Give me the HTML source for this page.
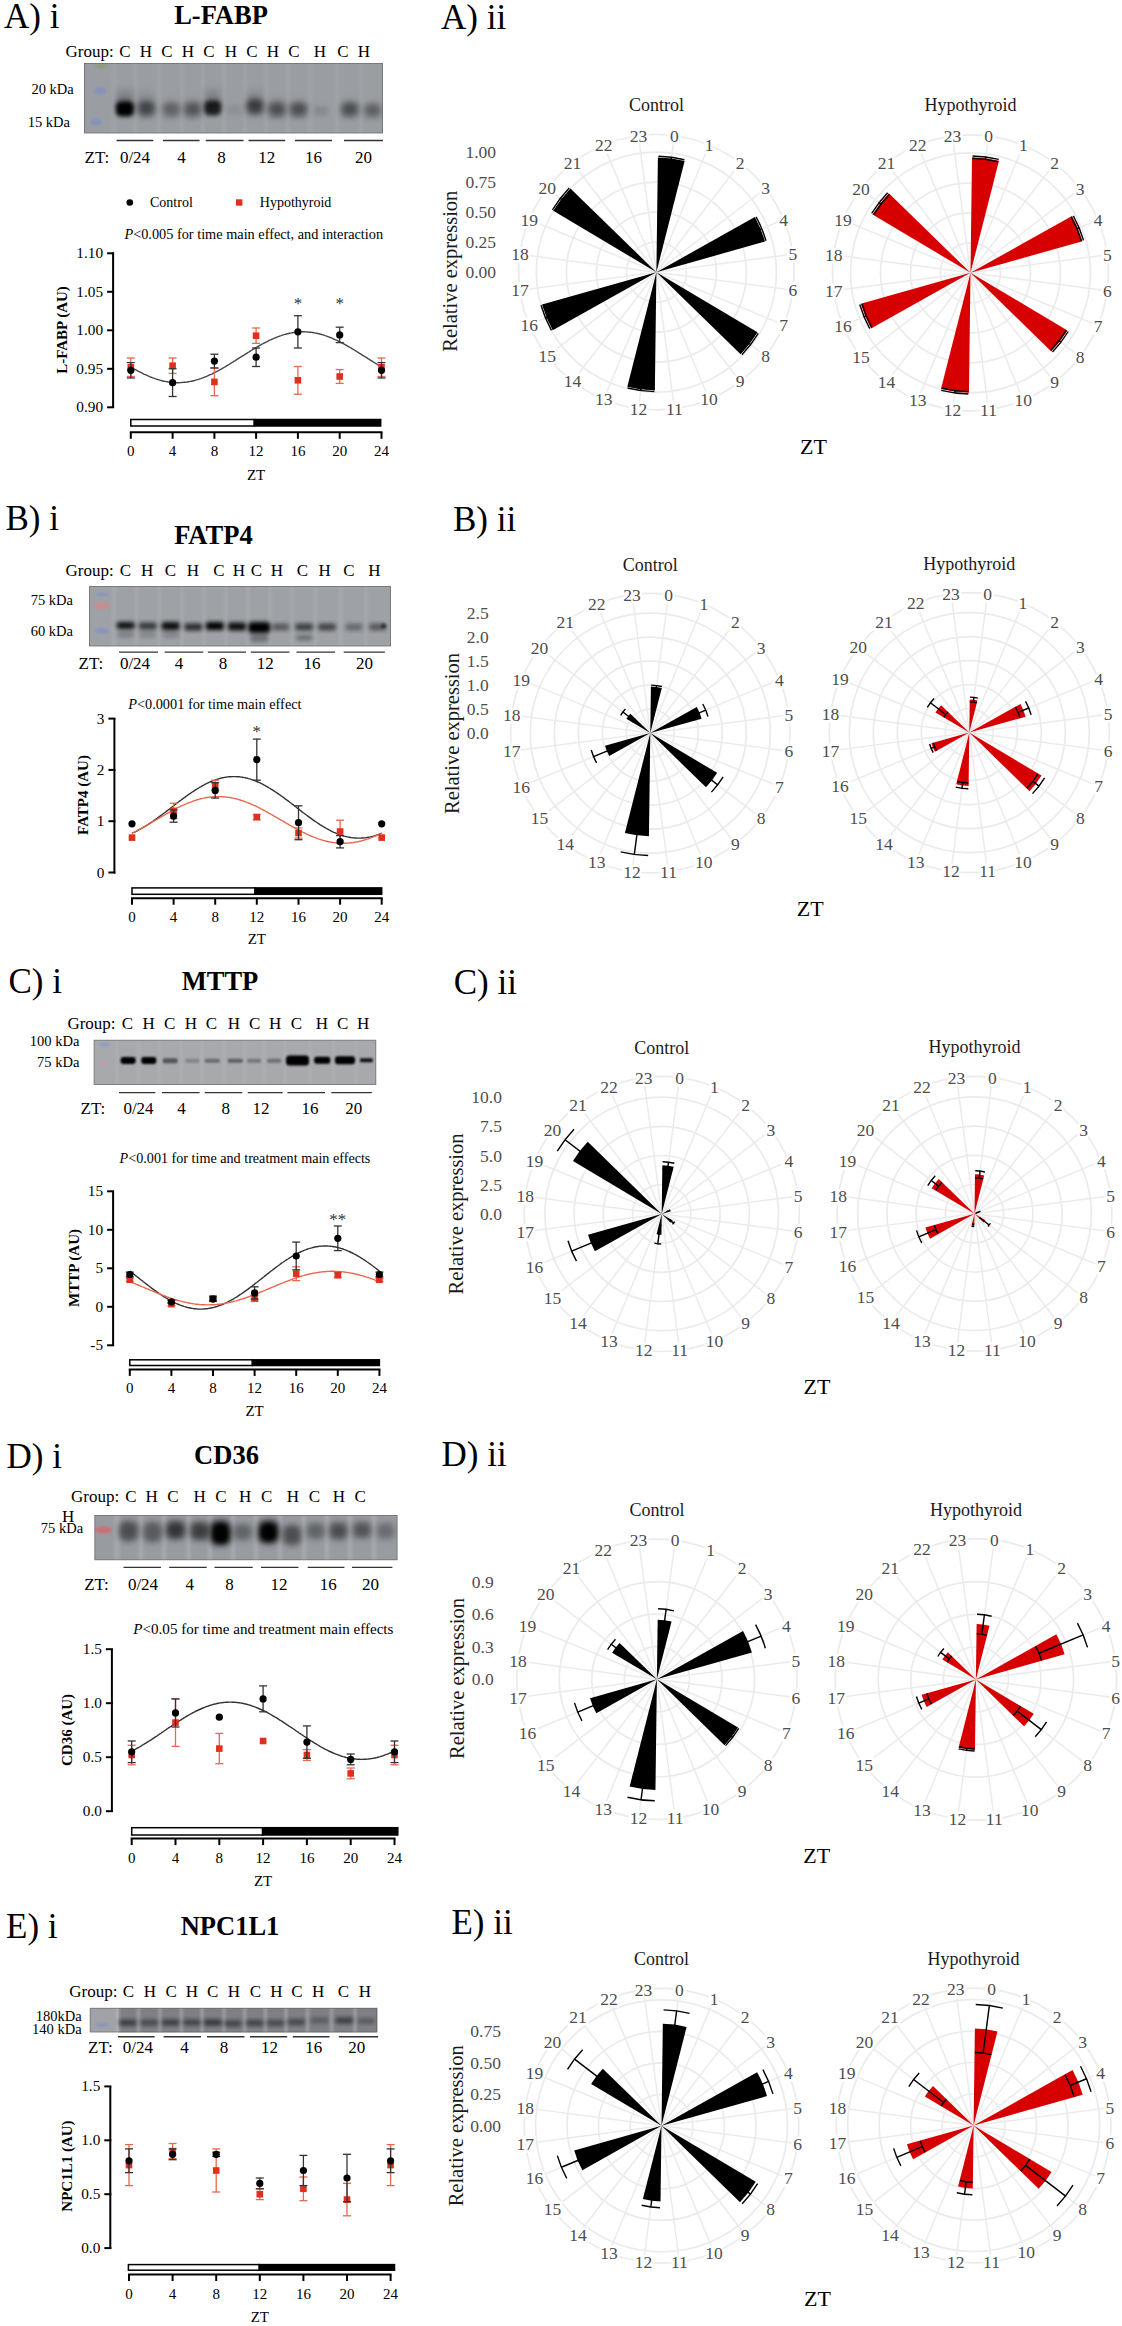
<!DOCTYPE html>
<html><head><meta charset="utf-8"><style>
html,body{margin:0;padding:0;background:#fff;}
svg{display:block;font-family:"Liberation Serif",serif;}
</style></head><body>
<svg width="1122" height="2326" viewBox="0 0 1122 2326">
<defs>
<filter id="blur2" x="-50%" y="-50%" width="200%" height="200%"><feGaussianBlur stdDeviation="2.2"/></filter>
<filter id="blur3" x="-50%" y="-50%" width="200%" height="200%"><feGaussianBlur stdDeviation="3.2"/></filter>
<linearGradient id="smear" x1="0" y1="0" x2="0" y2="1"><stop offset="0" stop-color="#000" stop-opacity="0"/><stop offset="1" stop-color="#000" stop-opacity="1"/></linearGradient>
<filter id="blur1" x="-50%" y="-50%" width="200%" height="200%"><feGaussianBlur stdDeviation="1.2"/></filter>
</defs>
<rect width="1122" height="2326" fill="#fff"/>
<text x="4.0" y="28.0" font-size="35">A) i</text>
<text x="221.0" y="23.7" font-size="26.5" text-anchor="middle" font-weight="bold">L-FABP</text>
<text x="65.5" y="57.0" font-size="17">Group:</text>
<text x="125.0" y="57.0" font-size="17" text-anchor="middle">C</text>
<text x="146.0" y="57.0" font-size="17" text-anchor="middle">H</text>
<text x="167.0" y="57.0" font-size="17" text-anchor="middle">C</text>
<text x="188.0" y="57.0" font-size="17" text-anchor="middle">H</text>
<text x="209.0" y="57.0" font-size="17" text-anchor="middle">C</text>
<text x="231.0" y="57.0" font-size="17" text-anchor="middle">H</text>
<text x="252.0" y="57.0" font-size="17" text-anchor="middle">C</text>
<text x="273.0" y="57.0" font-size="17" text-anchor="middle">H</text>
<text x="294.0" y="57.0" font-size="17" text-anchor="middle">C</text>
<text x="320.0" y="57.0" font-size="17" text-anchor="middle">H</text>
<text x="343.0" y="57.0" font-size="17" text-anchor="middle">C</text>
<text x="364.0" y="57.0" font-size="17" text-anchor="middle">H</text>
<clipPath id="b15"><rect x="84" y="63" width="299" height="70.5"/></clipPath>
<g clip-path="url(#b15)">
<rect x="84" y="63" width="299" height="70.5" fill="#9a9da2"/>
<g filter="url(#blur1)">
<rect x="111.5" y="60" width="5" height="76.5" fill="#fff" fill-opacity="0.05"/>
<rect x="133.5" y="60" width="4" height="76.5" fill="#fff" fill-opacity="0.05"/>
<rect x="156.5" y="60" width="5" height="76.5" fill="#fff" fill-opacity="0.05"/>
<rect x="180.0" y="60" width="4" height="76.5" fill="#fff" fill-opacity="0.05"/>
<rect x="201.0" y="60" width="4" height="76.5" fill="#fff" fill-opacity="0.05"/>
<rect x="222.0" y="60" width="4" height="76.5" fill="#fff" fill-opacity="0.05"/>
<rect x="242.5" y="60" width="5" height="76.5" fill="#fff" fill-opacity="0.05"/>
<rect x="264.0" y="60" width="4" height="76.5" fill="#fff" fill-opacity="0.05"/>
<rect x="286.0" y="60" width="4" height="76.5" fill="#fff" fill-opacity="0.05"/>
<rect x="307.5" y="60" width="5" height="76.5" fill="#fff" fill-opacity="0.05"/>
<rect x="334.5" y="60" width="5" height="76.5" fill="#fff" fill-opacity="0.05"/>
<rect x="359.0" y="60" width="4" height="76.5" fill="#fff" fill-opacity="0.05"/>
</g>
<ellipse cx="101.4" cy="65.7" rx="6.0" ry="3.0" fill="#8e9c7c" filter="url(#blur1)"/>
<ellipse cx="100" cy="90.7" rx="6.0" ry="3.5" fill="#8593bd" filter="url(#blur1)"/>
<ellipse cx="96" cy="122" rx="6.0" ry="3.0" fill="#8593bd" filter="url(#blur1)"/>
<rect x="116.9" y="85.5" width="16.0" height="23.5" fill="url(#smear)" fill-opacity="0.45" filter="url(#blur3)"/>
<rect x="115.9" y="101.5" width="18.0" height="15.0" rx="5.2" fill="#000" fill-opacity="1.00" filter="url(#blur2)"/>
<rect x="138.8" y="87.5" width="15.0" height="21.5" fill="url(#smear)" fill-opacity="0.23" filter="url(#blur3)"/>
<rect x="137.8" y="101.5" width="17.0" height="15.0" rx="5.2" fill="#000" fill-opacity="0.52" filter="url(#blur3)"/>
<rect x="163.8" y="97.0" width="15.0" height="13.0" fill="url(#smear)" fill-opacity="0.15" filter="url(#blur3)"/>
<rect x="162.8" y="103.0" width="17.0" height="14.0" rx="4.9" fill="#000" fill-opacity="0.34" filter="url(#blur3)"/>
<rect x="185.2" y="95.0" width="15.0" height="15.0" fill="url(#smear)" fill-opacity="0.19" filter="url(#blur3)"/>
<rect x="184.2" y="103.0" width="17.0" height="14.0" rx="4.9" fill="#000" fill-opacity="0.42" filter="url(#blur3)"/>
<rect x="205.2" y="84.5" width="15.0" height="23.5" fill="url(#smear)" fill-opacity="0.36" filter="url(#blur3)"/>
<rect x="204.2" y="100.5" width="17.0" height="15.0" rx="5.2" fill="#000" fill-opacity="0.80" filter="url(#blur2)"/>
<rect x="226.5" y="105.0" width="15.0" height="10.0" rx="3.5" fill="#000" fill-opacity="0.08" filter="url(#blur2)"/>
<rect x="247.5" y="85.5" width="15.0" height="21.5" fill="url(#smear)" fill-opacity="0.26" filter="url(#blur3)"/>
<rect x="246.5" y="99.5" width="17.0" height="15.0" rx="5.2" fill="#000" fill-opacity="0.58" filter="url(#blur3)"/>
<rect x="269.5" y="95.0" width="15.0" height="15.0" fill="url(#smear)" fill-opacity="0.21" filter="url(#blur3)"/>
<rect x="268.5" y="103.0" width="17.0" height="14.0" rx="4.9" fill="#000" fill-opacity="0.46" filter="url(#blur3)"/>
<rect x="291.0" y="97.0" width="15.0" height="13.0" fill="url(#smear)" fill-opacity="0.21" filter="url(#blur3)"/>
<rect x="290.0" y="103.0" width="17.0" height="14.0" rx="4.9" fill="#000" fill-opacity="0.46" filter="url(#blur3)"/>
<rect x="314.0" y="106.0" width="14.0" height="10.0" rx="3.5" fill="#000" fill-opacity="0.12" filter="url(#blur2)"/>
<rect x="342.3" y="97.0" width="15.0" height="13.0" fill="url(#smear)" fill-opacity="0.21" filter="url(#blur3)"/>
<rect x="341.3" y="103.0" width="17.0" height="14.0" rx="4.9" fill="#000" fill-opacity="0.46" filter="url(#blur3)"/>
<rect x="365.6" y="99.5" width="14.0" height="11.5" fill="url(#smear)" fill-opacity="0.16" filter="url(#blur3)"/>
<rect x="364.6" y="104.5" width="16.0" height="13.0" rx="4.5" fill="#000" fill-opacity="0.36" filter="url(#blur3)"/>
</g>
<rect x="84.5" y="63.5" width="298" height="69.5" fill="none" stroke="#555" stroke-opacity="0.5" stroke-width="1"/>
<text x="73.7" y="93.7" font-size="14.5" text-anchor="end">20 kDa</text>
<text x="70.0" y="127.0" font-size="14.5" text-anchor="end">15 kDa</text>
<text x="84.5" y="162.6" font-size="17">ZT:</text>
<text x="135.0" y="162.6" font-size="17" text-anchor="middle">0/24</text>
<text x="181.5" y="162.6" font-size="17" text-anchor="middle">4</text>
<text x="221.5" y="162.6" font-size="17" text-anchor="middle">8</text>
<text x="266.8" y="162.6" font-size="17" text-anchor="middle">12</text>
<text x="313.5" y="162.6" font-size="17" text-anchor="middle">16</text>
<text x="363.5" y="162.6" font-size="17" text-anchor="middle">20</text>
<line x1="116.6" y1="140.5" x2="153.3" y2="140.5" stroke="#333" stroke-width="1.4"/>
<line x1="163.0" y1="140.5" x2="199.6" y2="140.5" stroke="#333" stroke-width="1.4"/>
<line x1="205.7" y1="140.5" x2="243.5" y2="140.5" stroke="#333" stroke-width="1.4"/>
<line x1="248.5" y1="140.5" x2="285.2" y2="140.5" stroke="#333" stroke-width="1.4"/>
<line x1="295.0" y1="140.5" x2="332.0" y2="140.5" stroke="#333" stroke-width="1.4"/>
<line x1="344.0" y1="140.5" x2="383.0" y2="140.5" stroke="#333" stroke-width="1.4"/>
<circle cx="129.8" cy="202.5" r="3.3" fill="#000"/>
<text x="150.0" y="206.6" font-size="14">Control</text>
<rect x="236.0" y="199.3" width="6.4" height="6.4" fill="#e0301e"/>
<text x="259.8" y="206.6" font-size="14">Hypothyroid</text>
<line x1="113.1" y1="252.5" x2="113.1" y2="408.0" stroke="#000" stroke-width="2"/>
<line x1="107.1" y1="407.3" x2="114.1" y2="407.3" stroke="#000" stroke-width="2"/>
<text x="103.1" y="412.3" font-size="15.3" text-anchor="end">0.90</text>
<line x1="107.1" y1="368.8" x2="114.1" y2="368.8" stroke="#000" stroke-width="2"/>
<text x="103.1" y="373.8" font-size="15.3" text-anchor="end">0.95</text>
<line x1="107.1" y1="330.3" x2="114.1" y2="330.3" stroke="#000" stroke-width="2"/>
<text x="103.1" y="335.3" font-size="15.3" text-anchor="end">1.00</text>
<line x1="107.1" y1="291.8" x2="114.1" y2="291.8" stroke="#000" stroke-width="2"/>
<text x="103.1" y="296.8" font-size="15.3" text-anchor="end">1.05</text>
<line x1="107.1" y1="253.3" x2="114.1" y2="253.3" stroke="#000" stroke-width="2"/>
<text x="103.1" y="258.3" font-size="15.3" text-anchor="end">1.10</text>
<text transform="translate(67.0,330.0) rotate(-90)" font-size="15" font-weight="bold" text-anchor="middle">L-FABP (AU)</text>
<rect x="130.8" y="419.5" width="123.5" height="6.5" fill="#fff" stroke="#000" stroke-width="1.5"/>
<rect x="254.3" y="419.5" width="126.4" height="6.5" fill="#000" stroke="#000" stroke-width="1.5"/>
<line x1="129.8" y1="432.3" x2="382.5" y2="432.3" stroke="#000" stroke-width="2"/>
<line x1="130.8" y1="432.3" x2="130.8" y2="438.8" stroke="#000" stroke-width="2"/>
<text x="130.8" y="456.3" font-size="15" text-anchor="middle">0</text>
<line x1="172.6" y1="432.3" x2="172.6" y2="438.8" stroke="#000" stroke-width="2"/>
<text x="172.6" y="456.3" font-size="15" text-anchor="middle">4</text>
<line x1="214.4" y1="432.3" x2="214.4" y2="438.8" stroke="#000" stroke-width="2"/>
<text x="214.4" y="456.3" font-size="15" text-anchor="middle">8</text>
<line x1="256.1" y1="432.3" x2="256.1" y2="438.8" stroke="#000" stroke-width="2"/>
<text x="256.1" y="456.3" font-size="15" text-anchor="middle">12</text>
<line x1="297.9" y1="432.3" x2="297.9" y2="438.8" stroke="#000" stroke-width="2"/>
<text x="297.9" y="456.3" font-size="15" text-anchor="middle">16</text>
<line x1="339.7" y1="432.3" x2="339.7" y2="438.8" stroke="#000" stroke-width="2"/>
<text x="339.7" y="456.3" font-size="15" text-anchor="middle">20</text>
<line x1="381.5" y1="432.3" x2="381.5" y2="438.8" stroke="#000" stroke-width="2"/>
<text x="381.5" y="456.3" font-size="15" text-anchor="middle">24</text>
<text x="256.1" y="480.4" font-size="15" text-anchor="middle">ZT</text>
<polyline points="130.8,367.0 131.8,367.6 132.9,368.2 133.9,368.8 135.0,369.4 136.0,370.0 137.1,370.5 138.1,371.1 139.2,371.6 140.2,372.2 141.2,372.7 142.3,373.2 143.3,373.8 144.4,374.3 145.4,374.7 146.5,375.2 147.5,375.7 148.6,376.1 149.6,376.6 150.6,377.0 151.7,377.4 152.7,377.8 153.8,378.2 154.8,378.6 155.9,378.9 156.9,379.3 158.0,379.6 159.0,379.9 160.0,380.2 161.1,380.5 162.1,380.7 163.2,381.0 164.2,381.2 165.3,381.4 166.3,381.6 167.4,381.8 168.4,382.0 169.4,382.1 170.5,382.2 171.5,382.3 172.6,382.4 173.6,382.5 174.7,382.6 175.7,382.6 176.8,382.7 177.8,382.7 178.9,382.7 179.9,382.6 180.9,382.6 182.0,382.5 183.0,382.4 184.1,382.3 185.1,382.2 186.2,382.1 187.2,382.0 188.3,381.8 189.3,381.6 190.3,381.4 191.4,381.2 192.4,381.0 193.5,380.7 194.5,380.5 195.6,380.2 196.6,379.9 197.7,379.6 198.7,379.3 199.7,378.9 200.8,378.6 201.8,378.2 202.9,377.8 203.9,377.4 205.0,377.0 206.0,376.6 207.1,376.1 208.1,375.7 209.1,375.2 210.2,374.7 211.2,374.3 212.3,373.8 213.3,373.2 214.4,372.7 215.4,372.2 216.5,371.6 217.5,371.1 218.5,370.5 219.6,370.0 220.6,369.4 221.7,368.8 222.7,368.2 223.8,367.6 224.8,367.0 225.9,366.4 226.9,365.7 227.9,365.1 229.0,364.5 230.0,363.8 231.1,363.2 232.1,362.5 233.2,361.9 234.2,361.2 235.3,360.6 236.3,359.9 237.3,359.2 238.4,358.6 239.4,357.9 240.5,357.2 241.5,356.6 242.6,355.9 243.6,355.3 244.7,354.6 245.7,353.9 246.7,353.3 247.8,352.6 248.8,352.0 249.9,351.3 250.9,350.7 252.0,350.0 253.0,349.4 254.1,348.8 255.1,348.1 256.1,347.5 257.2,346.9 258.2,346.3 259.3,345.7 260.3,345.1 261.4,344.5 262.4,344.0 263.5,343.4 264.5,342.9 265.6,342.3 266.6,341.8 267.6,341.3 268.7,340.7 269.7,340.2 270.8,339.8 271.8,339.3 272.9,338.8 273.9,338.4 275.0,337.9 276.0,337.5 277.0,337.1 278.1,336.7 279.1,336.3 280.2,335.9 281.2,335.6 282.3,335.2 283.3,334.9 284.4,334.6 285.4,334.3 286.4,334.0 287.5,333.8 288.5,333.5 289.6,333.3 290.6,333.1 291.7,332.9 292.7,332.7 293.8,332.5 294.8,332.4 295.8,332.3 296.9,332.2 297.9,332.1 299.0,332.0 300.0,331.9 301.1,331.9 302.1,331.8 303.2,331.8 304.2,331.8 305.2,331.9 306.3,331.9 307.3,332.0 308.4,332.1 309.4,332.2 310.5,332.3 311.5,332.4 312.6,332.5 313.6,332.7 314.6,332.9 315.7,333.1 316.7,333.3 317.8,333.5 318.8,333.8 319.9,334.0 320.9,334.3 322.0,334.6 323.0,334.9 324.0,335.2 325.1,335.6 326.1,335.9 327.2,336.3 328.2,336.7 329.3,337.1 330.3,337.5 331.4,337.9 332.4,338.4 333.4,338.8 334.5,339.3 335.5,339.8 336.6,340.2 337.6,340.7 338.7,341.3 339.7,341.8 340.8,342.3 341.8,342.9 342.9,343.4 343.9,344.0 344.9,344.5 346.0,345.1 347.0,345.7 348.1,346.3 349.1,346.9 350.2,347.5 351.2,348.1 352.3,348.8 353.3,349.4 354.3,350.0 355.4,350.7 356.4,351.3 357.5,352.0 358.5,352.6 359.6,353.3 360.6,353.9 361.7,354.6 362.7,355.3 363.7,355.9 364.8,356.6 365.8,357.2 366.9,357.9 367.9,358.6 369.0,359.2 370.0,359.9 371.1,360.6 372.1,361.2 373.1,361.9 374.2,362.5 375.2,363.2 376.3,363.8 377.3,364.5 378.4,365.1 379.4,365.7 380.5,366.4 381.5,367.0" fill="none" stroke="#444" stroke-width="1.4"/>
<line x1="130.8" y1="376.5" x2="130.8" y2="358.0" stroke="#e8674f" stroke-width="1.3"/>
<line x1="126.8" y1="376.5" x2="134.8" y2="376.5" stroke="#e8674f" stroke-width="1.3"/>
<line x1="126.8" y1="358.0" x2="134.8" y2="358.0" stroke="#e8674f" stroke-width="1.3"/>
<line x1="172.6" y1="373.4" x2="172.6" y2="358.0" stroke="#e8674f" stroke-width="1.3"/>
<line x1="168.6" y1="373.4" x2="176.6" y2="373.4" stroke="#e8674f" stroke-width="1.3"/>
<line x1="168.6" y1="358.0" x2="176.6" y2="358.0" stroke="#e8674f" stroke-width="1.3"/>
<line x1="214.4" y1="395.7" x2="214.4" y2="368.0" stroke="#e8674f" stroke-width="1.3"/>
<line x1="210.4" y1="395.7" x2="218.4" y2="395.7" stroke="#e8674f" stroke-width="1.3"/>
<line x1="210.4" y1="368.0" x2="218.4" y2="368.0" stroke="#e8674f" stroke-width="1.3"/>
<line x1="256.1" y1="343.4" x2="256.1" y2="328.0" stroke="#e8674f" stroke-width="1.3"/>
<line x1="252.1" y1="343.4" x2="260.1" y2="343.4" stroke="#e8674f" stroke-width="1.3"/>
<line x1="252.1" y1="328.0" x2="260.1" y2="328.0" stroke="#e8674f" stroke-width="1.3"/>
<line x1="297.9" y1="394.2" x2="297.9" y2="366.5" stroke="#e8674f" stroke-width="1.3"/>
<line x1="293.9" y1="394.2" x2="301.9" y2="394.2" stroke="#e8674f" stroke-width="1.3"/>
<line x1="293.9" y1="366.5" x2="301.9" y2="366.5" stroke="#e8674f" stroke-width="1.3"/>
<line x1="339.7" y1="383.4" x2="339.7" y2="369.6" stroke="#e8674f" stroke-width="1.3"/>
<line x1="335.7" y1="383.4" x2="343.7" y2="383.4" stroke="#e8674f" stroke-width="1.3"/>
<line x1="335.7" y1="369.6" x2="343.7" y2="369.6" stroke="#e8674f" stroke-width="1.3"/>
<line x1="381.5" y1="376.5" x2="381.5" y2="358.0" stroke="#e8674f" stroke-width="1.3"/>
<line x1="377.5" y1="376.5" x2="385.5" y2="376.5" stroke="#e8674f" stroke-width="1.3"/>
<line x1="377.5" y1="358.0" x2="385.5" y2="358.0" stroke="#e8674f" stroke-width="1.3"/>
<rect x="127.5" y="364.0" width="6.6" height="6.6" fill="#e0301e"/>
<rect x="169.3" y="362.4" width="6.6" height="6.6" fill="#e0301e"/>
<rect x="211.1" y="378.6" width="6.6" height="6.6" fill="#e0301e"/>
<rect x="252.8" y="332.4" width="6.6" height="6.6" fill="#e0301e"/>
<rect x="294.6" y="377.0" width="6.6" height="6.6" fill="#e0301e"/>
<rect x="336.4" y="373.2" width="6.6" height="6.6" fill="#e0301e"/>
<rect x="378.2" y="364.0" width="6.6" height="6.6" fill="#e0301e"/>
<line x1="130.8" y1="378.0" x2="130.8" y2="362.6" stroke="#333" stroke-width="1.3"/>
<line x1="126.8" y1="378.0" x2="134.8" y2="378.0" stroke="#333" stroke-width="1.3"/>
<line x1="126.8" y1="362.6" x2="134.8" y2="362.6" stroke="#333" stroke-width="1.3"/>
<line x1="172.6" y1="396.5" x2="172.6" y2="368.8" stroke="#333" stroke-width="1.3"/>
<line x1="168.6" y1="396.5" x2="176.6" y2="396.5" stroke="#333" stroke-width="1.3"/>
<line x1="168.6" y1="368.8" x2="176.6" y2="368.8" stroke="#333" stroke-width="1.3"/>
<line x1="214.4" y1="368.0" x2="214.4" y2="354.2" stroke="#333" stroke-width="1.3"/>
<line x1="210.4" y1="368.0" x2="218.4" y2="368.0" stroke="#333" stroke-width="1.3"/>
<line x1="210.4" y1="354.2" x2="218.4" y2="354.2" stroke="#333" stroke-width="1.3"/>
<line x1="256.1" y1="366.5" x2="256.1" y2="348.0" stroke="#333" stroke-width="1.3"/>
<line x1="252.1" y1="366.5" x2="260.1" y2="366.5" stroke="#333" stroke-width="1.3"/>
<line x1="252.1" y1="348.0" x2="260.1" y2="348.0" stroke="#333" stroke-width="1.3"/>
<line x1="297.9" y1="348.0" x2="297.9" y2="315.7" stroke="#333" stroke-width="1.3"/>
<line x1="293.9" y1="348.0" x2="301.9" y2="348.0" stroke="#333" stroke-width="1.3"/>
<line x1="293.9" y1="315.7" x2="301.9" y2="315.7" stroke="#333" stroke-width="1.3"/>
<line x1="339.7" y1="342.6" x2="339.7" y2="327.2" stroke="#333" stroke-width="1.3"/>
<line x1="335.7" y1="342.6" x2="343.7" y2="342.6" stroke="#333" stroke-width="1.3"/>
<line x1="335.7" y1="327.2" x2="343.7" y2="327.2" stroke="#333" stroke-width="1.3"/>
<line x1="381.5" y1="378.0" x2="381.5" y2="362.6" stroke="#333" stroke-width="1.3"/>
<line x1="377.5" y1="378.0" x2="385.5" y2="378.0" stroke="#333" stroke-width="1.3"/>
<line x1="377.5" y1="362.6" x2="385.5" y2="362.6" stroke="#333" stroke-width="1.3"/>
<circle cx="130.8" cy="370.3" r="3.6" fill="#000"/>
<circle cx="172.6" cy="382.7" r="3.6" fill="#000"/>
<circle cx="214.4" cy="361.1" r="3.6" fill="#000"/>
<circle cx="256.1" cy="357.2" r="3.6" fill="#000"/>
<circle cx="297.9" cy="331.8" r="3.6" fill="#000"/>
<circle cx="339.7" cy="334.9" r="3.6" fill="#000"/>
<circle cx="381.5" cy="370.3" r="3.6" fill="#000"/>
<text x="297.9" y="309.0" font-size="17" text-anchor="middle" fill="#333">*</text>
<text x="339.7" y="309.0" font-size="17" text-anchor="middle" fill="#333">*</text>
<text x="124.4" y="239.4" font-size="14.3"><tspan font-style="italic">P</tspan>&lt;0.005 for time main effect, and interaction</text>
<text x="441.0" y="28.5" font-size="35">A) ii</text>
<circle cx="656.4" cy="272.2" r="30.00" fill="none" stroke="#ebebeb" stroke-width="1.7"/>
<circle cx="656.4" cy="272.2" r="60.00" fill="none" stroke="#ebebeb" stroke-width="1.7"/>
<circle cx="656.4" cy="272.2" r="90.00" fill="none" stroke="#ebebeb" stroke-width="1.7"/>
<circle cx="656.4" cy="272.2" r="120.00" fill="none" stroke="#ebebeb" stroke-width="1.7"/>
<circle cx="656.4" cy="272.2" r="137.70" fill="none" stroke="#ebebeb" stroke-width="1.7"/>
<line x1="656.4" y1="272.2" x2="674.37" y2="135.68" stroke="#ebebeb" stroke-width="1.5"/>
<line x1="656.4" y1="272.2" x2="709.10" y2="144.98" stroke="#ebebeb" stroke-width="1.5"/>
<line x1="656.4" y1="272.2" x2="740.23" y2="162.96" stroke="#ebebeb" stroke-width="1.5"/>
<line x1="656.4" y1="272.2" x2="765.64" y2="188.37" stroke="#ebebeb" stroke-width="1.5"/>
<line x1="656.4" y1="272.2" x2="783.62" y2="219.50" stroke="#ebebeb" stroke-width="1.5"/>
<line x1="656.4" y1="272.2" x2="792.92" y2="254.23" stroke="#ebebeb" stroke-width="1.5"/>
<line x1="656.4" y1="272.2" x2="792.92" y2="290.17" stroke="#ebebeb" stroke-width="1.5"/>
<line x1="656.4" y1="272.2" x2="783.62" y2="324.90" stroke="#ebebeb" stroke-width="1.5"/>
<line x1="656.4" y1="272.2" x2="765.64" y2="356.03" stroke="#ebebeb" stroke-width="1.5"/>
<line x1="656.4" y1="272.2" x2="740.23" y2="381.44" stroke="#ebebeb" stroke-width="1.5"/>
<line x1="656.4" y1="272.2" x2="709.10" y2="399.42" stroke="#ebebeb" stroke-width="1.5"/>
<line x1="656.4" y1="272.2" x2="674.37" y2="408.72" stroke="#ebebeb" stroke-width="1.5"/>
<line x1="656.4" y1="272.2" x2="638.43" y2="408.72" stroke="#ebebeb" stroke-width="1.5"/>
<line x1="656.4" y1="272.2" x2="603.70" y2="399.42" stroke="#ebebeb" stroke-width="1.5"/>
<line x1="656.4" y1="272.2" x2="572.57" y2="381.44" stroke="#ebebeb" stroke-width="1.5"/>
<line x1="656.4" y1="272.2" x2="547.16" y2="356.03" stroke="#ebebeb" stroke-width="1.5"/>
<line x1="656.4" y1="272.2" x2="529.18" y2="324.90" stroke="#ebebeb" stroke-width="1.5"/>
<line x1="656.4" y1="272.2" x2="519.88" y2="290.17" stroke="#ebebeb" stroke-width="1.5"/>
<line x1="656.4" y1="272.2" x2="519.88" y2="254.23" stroke="#ebebeb" stroke-width="1.5"/>
<line x1="656.4" y1="272.2" x2="529.18" y2="219.50" stroke="#ebebeb" stroke-width="1.5"/>
<line x1="656.4" y1="272.2" x2="547.16" y2="188.37" stroke="#ebebeb" stroke-width="1.5"/>
<line x1="656.4" y1="272.2" x2="572.57" y2="162.96" stroke="#ebebeb" stroke-width="1.5"/>
<line x1="656.4" y1="272.2" x2="603.70" y2="144.98" stroke="#ebebeb" stroke-width="1.5"/>
<line x1="656.4" y1="272.2" x2="638.43" y2="135.68" stroke="#ebebeb" stroke-width="1.5"/>
<text x="674.4" y="141.7" font-size="17.5" text-anchor="middle" fill="#4d4d4d" stroke="#fff" stroke-width="5" paint-order="stroke">0</text>
<text x="709.1" y="151.0" font-size="17.5" text-anchor="middle" fill="#4d4d4d" stroke="#fff" stroke-width="5" paint-order="stroke">1</text>
<text x="740.2" y="169.0" font-size="17.5" text-anchor="middle" fill="#4d4d4d" stroke="#fff" stroke-width="5" paint-order="stroke">2</text>
<text x="765.6" y="194.4" font-size="17.5" text-anchor="middle" fill="#4d4d4d" stroke="#fff" stroke-width="5" paint-order="stroke">3</text>
<text x="783.6" y="225.5" font-size="17.5" text-anchor="middle" fill="#4d4d4d" stroke="#fff" stroke-width="5" paint-order="stroke">4</text>
<text x="792.9" y="260.2" font-size="17.5" text-anchor="middle" fill="#4d4d4d" stroke="#fff" stroke-width="5" paint-order="stroke">5</text>
<text x="792.9" y="296.2" font-size="17.5" text-anchor="middle" fill="#4d4d4d" stroke="#fff" stroke-width="5" paint-order="stroke">6</text>
<text x="783.6" y="330.9" font-size="17.5" text-anchor="middle" fill="#4d4d4d" stroke="#fff" stroke-width="5" paint-order="stroke">7</text>
<text x="765.6" y="362.0" font-size="17.5" text-anchor="middle" fill="#4d4d4d" stroke="#fff" stroke-width="5" paint-order="stroke">8</text>
<text x="740.2" y="387.4" font-size="17.5" text-anchor="middle" fill="#4d4d4d" stroke="#fff" stroke-width="5" paint-order="stroke">9</text>
<text x="709.1" y="405.4" font-size="17.5" text-anchor="middle" fill="#4d4d4d" stroke="#fff" stroke-width="5" paint-order="stroke">10</text>
<text x="674.4" y="414.7" font-size="17.5" text-anchor="middle" fill="#4d4d4d" stroke="#fff" stroke-width="5" paint-order="stroke">11</text>
<text x="638.4" y="414.7" font-size="17.5" text-anchor="middle" fill="#4d4d4d" stroke="#fff" stroke-width="5" paint-order="stroke">12</text>
<text x="603.7" y="405.4" font-size="17.5" text-anchor="middle" fill="#4d4d4d" stroke="#fff" stroke-width="5" paint-order="stroke">13</text>
<text x="572.6" y="387.4" font-size="17.5" text-anchor="middle" fill="#4d4d4d" stroke="#fff" stroke-width="5" paint-order="stroke">14</text>
<text x="547.2" y="362.0" font-size="17.5" text-anchor="middle" fill="#4d4d4d" stroke="#fff" stroke-width="5" paint-order="stroke">15</text>
<text x="529.2" y="330.9" font-size="17.5" text-anchor="middle" fill="#4d4d4d" stroke="#fff" stroke-width="5" paint-order="stroke">16</text>
<text x="519.9" y="296.2" font-size="17.5" text-anchor="middle" fill="#4d4d4d" stroke="#fff" stroke-width="5" paint-order="stroke">17</text>
<text x="519.9" y="260.2" font-size="17.5" text-anchor="middle" fill="#4d4d4d" stroke="#fff" stroke-width="5" paint-order="stroke">18</text>
<text x="529.2" y="225.5" font-size="17.5" text-anchor="middle" fill="#4d4d4d" stroke="#fff" stroke-width="5" paint-order="stroke">19</text>
<text x="547.2" y="194.4" font-size="17.5" text-anchor="middle" fill="#4d4d4d" stroke="#fff" stroke-width="5" paint-order="stroke">20</text>
<text x="572.6" y="169.0" font-size="17.5" text-anchor="middle" fill="#4d4d4d" stroke="#fff" stroke-width="5" paint-order="stroke">21</text>
<text x="603.7" y="151.0" font-size="17.5" text-anchor="middle" fill="#4d4d4d" stroke="#fff" stroke-width="5" paint-order="stroke">22</text>
<text x="638.4" y="141.7" font-size="17.5" text-anchor="middle" fill="#4d4d4d" stroke="#fff" stroke-width="5" paint-order="stroke">23</text>
<path d="M656.40,272.20 L657.90,157.49 A114.72,114.72 0 0 1 684.64,161.01 Z" fill="#000"/>
<path d="M656.40,272.20 L754.82,217.08 A112.80,112.80 0 0 1 764.96,241.58 Z" fill="#000"/>
<path d="M656.40,272.20 L757.47,332.33 A117.60,117.60 0 0 1 740.64,354.26 Z" fill="#000"/>
<path d="M656.40,272.20 L654.85,390.39 A118.20,118.20 0 0 1 627.30,386.76 Z" fill="#000"/>
<path d="M656.40,272.20 L552.75,330.25 A118.80,118.80 0 0 1 542.06,304.45 Z" fill="#000"/>
<path d="M656.40,272.20 L553.27,210.84 A120.00,120.00 0 0 1 570.44,188.47 Z" fill="#000"/>
<line x1="671.22" y1="159.65" x2="671.53" y2="157.27" stroke="#000" stroke-width="1.4"/>
<path d="M658.38,158.70 A113.52,113.52 0 0 1 683.86,162.05" fill="none" stroke="#000" stroke-width="1.4"/>
<path d="M658.42,156.30 A115.92,115.92 0 0 1 684.44,159.72" fill="none" stroke="#000" stroke-width="1.4"/>
<line x1="759.50" y1="229.49" x2="761.72" y2="228.57" stroke="#000" stroke-width="1.4"/>
<path d="M754.01,218.10 A111.60,111.60 0 0 1 763.68,241.44" fill="none" stroke="#000" stroke-width="1.4"/>
<path d="M756.11,216.93 A114.00,114.00 0 0 1 765.98,240.78" fill="none" stroke="#000" stroke-width="1.4"/>
<line x1="748.75" y1="343.06" x2="750.65" y2="344.52" stroke="#000" stroke-width="1.4"/>
<path d="M756.17,332.15 A116.40,116.40 0 0 1 740.13,353.06" fill="none" stroke="#000" stroke-width="1.4"/>
<path d="M758.23,333.39 A118.80,118.80 0 0 1 741.86,354.73" fill="none" stroke="#000" stroke-width="1.4"/>
<line x1="641.13" y1="388.20" x2="640.82" y2="390.58" stroke="#000" stroke-width="1.4"/>
<path d="M654.36,389.18 A117.00,117.00 0 0 1 628.10,385.72" fill="none" stroke="#000" stroke-width="1.4"/>
<path d="M654.32,391.58 A119.40,119.40 0 0 1 627.51,388.05" fill="none" stroke="#000" stroke-width="1.4"/>
<line x1="547.75" y1="317.20" x2="545.53" y2="318.12" stroke="#000" stroke-width="1.4"/>
<path d="M553.54,329.21 A117.60,117.60 0 0 1 543.36,304.61" fill="none" stroke="#000" stroke-width="1.4"/>
<path d="M551.45,330.38 A120.00,120.00 0 0 1 541.05,305.28" fill="none" stroke="#000" stroke-width="1.4"/>
<line x1="562.15" y1="199.88" x2="560.25" y2="198.42" stroke="#000" stroke-width="1.4"/>
<path d="M554.57,211.01 A118.80,118.80 0 0 1 570.94,189.67" fill="none" stroke="#000" stroke-width="1.4"/>
<path d="M552.51,209.78 A121.20,121.20 0 0 1 569.22,188.01" fill="none" stroke="#000" stroke-width="1.4"/>
<text x="656.4" y="111.0" font-size="18" text-anchor="middle" fill="#1a1a1a">Control</text>
<text x="496.0" y="158.2" font-size="17.5" text-anchor="end" fill="#4d4d4d">1.00</text>
<text x="496.0" y="188.2" font-size="17.5" text-anchor="end" fill="#4d4d4d">0.75</text>
<text x="496.0" y="218.2" font-size="17.5" text-anchor="end" fill="#4d4d4d">0.50</text>
<text x="496.0" y="248.2" font-size="17.5" text-anchor="end" fill="#4d4d4d">0.25</text>
<text x="496.0" y="278.2" font-size="17.5" text-anchor="end" fill="#4d4d4d">0.00</text>
<text transform="translate(457.0,271.2) rotate(-90)" font-size="20.5" text-anchor="middle" fill="#1a1a1a">Relative expression</text>
<circle cx="970.5" cy="272.8" r="30.00" fill="none" stroke="#ebebeb" stroke-width="1.7"/>
<circle cx="970.5" cy="272.8" r="60.00" fill="none" stroke="#ebebeb" stroke-width="1.7"/>
<circle cx="970.5" cy="272.8" r="90.00" fill="none" stroke="#ebebeb" stroke-width="1.7"/>
<circle cx="970.5" cy="272.8" r="120.00" fill="none" stroke="#ebebeb" stroke-width="1.7"/>
<circle cx="970.5" cy="272.8" r="138.00" fill="none" stroke="#ebebeb" stroke-width="1.7"/>
<line x1="970.5" y1="272.8" x2="988.51" y2="135.98" stroke="#ebebeb" stroke-width="1.5"/>
<line x1="970.5" y1="272.8" x2="1023.31" y2="145.30" stroke="#ebebeb" stroke-width="1.5"/>
<line x1="970.5" y1="272.8" x2="1054.51" y2="163.32" stroke="#ebebeb" stroke-width="1.5"/>
<line x1="970.5" y1="272.8" x2="1079.98" y2="188.79" stroke="#ebebeb" stroke-width="1.5"/>
<line x1="970.5" y1="272.8" x2="1098.00" y2="219.99" stroke="#ebebeb" stroke-width="1.5"/>
<line x1="970.5" y1="272.8" x2="1107.32" y2="254.79" stroke="#ebebeb" stroke-width="1.5"/>
<line x1="970.5" y1="272.8" x2="1107.32" y2="290.81" stroke="#ebebeb" stroke-width="1.5"/>
<line x1="970.5" y1="272.8" x2="1098.00" y2="325.61" stroke="#ebebeb" stroke-width="1.5"/>
<line x1="970.5" y1="272.8" x2="1079.98" y2="356.81" stroke="#ebebeb" stroke-width="1.5"/>
<line x1="970.5" y1="272.8" x2="1054.51" y2="382.28" stroke="#ebebeb" stroke-width="1.5"/>
<line x1="970.5" y1="272.8" x2="1023.31" y2="400.30" stroke="#ebebeb" stroke-width="1.5"/>
<line x1="970.5" y1="272.8" x2="988.51" y2="409.62" stroke="#ebebeb" stroke-width="1.5"/>
<line x1="970.5" y1="272.8" x2="952.49" y2="409.62" stroke="#ebebeb" stroke-width="1.5"/>
<line x1="970.5" y1="272.8" x2="917.69" y2="400.30" stroke="#ebebeb" stroke-width="1.5"/>
<line x1="970.5" y1="272.8" x2="886.49" y2="382.28" stroke="#ebebeb" stroke-width="1.5"/>
<line x1="970.5" y1="272.8" x2="861.02" y2="356.81" stroke="#ebebeb" stroke-width="1.5"/>
<line x1="970.5" y1="272.8" x2="843.00" y2="325.61" stroke="#ebebeb" stroke-width="1.5"/>
<line x1="970.5" y1="272.8" x2="833.68" y2="290.81" stroke="#ebebeb" stroke-width="1.5"/>
<line x1="970.5" y1="272.8" x2="833.68" y2="254.79" stroke="#ebebeb" stroke-width="1.5"/>
<line x1="970.5" y1="272.8" x2="843.00" y2="219.99" stroke="#ebebeb" stroke-width="1.5"/>
<line x1="970.5" y1="272.8" x2="861.02" y2="188.79" stroke="#ebebeb" stroke-width="1.5"/>
<line x1="970.5" y1="272.8" x2="886.49" y2="163.32" stroke="#ebebeb" stroke-width="1.5"/>
<line x1="970.5" y1="272.8" x2="917.69" y2="145.30" stroke="#ebebeb" stroke-width="1.5"/>
<line x1="970.5" y1="272.8" x2="952.49" y2="135.98" stroke="#ebebeb" stroke-width="1.5"/>
<text x="988.5" y="142.0" font-size="17.5" text-anchor="middle" fill="#4d4d4d" stroke="#fff" stroke-width="5" paint-order="stroke">0</text>
<text x="1023.3" y="151.3" font-size="17.5" text-anchor="middle" fill="#4d4d4d" stroke="#fff" stroke-width="5" paint-order="stroke">1</text>
<text x="1054.5" y="169.3" font-size="17.5" text-anchor="middle" fill="#4d4d4d" stroke="#fff" stroke-width="5" paint-order="stroke">2</text>
<text x="1080.0" y="194.8" font-size="17.5" text-anchor="middle" fill="#4d4d4d" stroke="#fff" stroke-width="5" paint-order="stroke">3</text>
<text x="1098.0" y="226.0" font-size="17.5" text-anchor="middle" fill="#4d4d4d" stroke="#fff" stroke-width="5" paint-order="stroke">4</text>
<text x="1107.3" y="260.8" font-size="17.5" text-anchor="middle" fill="#4d4d4d" stroke="#fff" stroke-width="5" paint-order="stroke">5</text>
<text x="1107.3" y="296.8" font-size="17.5" text-anchor="middle" fill="#4d4d4d" stroke="#fff" stroke-width="5" paint-order="stroke">6</text>
<text x="1098.0" y="331.6" font-size="17.5" text-anchor="middle" fill="#4d4d4d" stroke="#fff" stroke-width="5" paint-order="stroke">7</text>
<text x="1080.0" y="362.8" font-size="17.5" text-anchor="middle" fill="#4d4d4d" stroke="#fff" stroke-width="5" paint-order="stroke">8</text>
<text x="1054.5" y="388.3" font-size="17.5" text-anchor="middle" fill="#4d4d4d" stroke="#fff" stroke-width="5" paint-order="stroke">9</text>
<text x="1023.3" y="406.3" font-size="17.5" text-anchor="middle" fill="#4d4d4d" stroke="#fff" stroke-width="5" paint-order="stroke">10</text>
<text x="988.5" y="415.6" font-size="17.5" text-anchor="middle" fill="#4d4d4d" stroke="#fff" stroke-width="5" paint-order="stroke">11</text>
<text x="952.5" y="415.6" font-size="17.5" text-anchor="middle" fill="#4d4d4d" stroke="#fff" stroke-width="5" paint-order="stroke">12</text>
<text x="917.7" y="406.3" font-size="17.5" text-anchor="middle" fill="#4d4d4d" stroke="#fff" stroke-width="5" paint-order="stroke">13</text>
<text x="886.5" y="388.3" font-size="17.5" text-anchor="middle" fill="#4d4d4d" stroke="#fff" stroke-width="5" paint-order="stroke">14</text>
<text x="861.0" y="362.8" font-size="17.5" text-anchor="middle" fill="#4d4d4d" stroke="#fff" stroke-width="5" paint-order="stroke">15</text>
<text x="843.0" y="331.6" font-size="17.5" text-anchor="middle" fill="#4d4d4d" stroke="#fff" stroke-width="5" paint-order="stroke">16</text>
<text x="833.7" y="296.8" font-size="17.5" text-anchor="middle" fill="#4d4d4d" stroke="#fff" stroke-width="5" paint-order="stroke">17</text>
<text x="833.7" y="260.8" font-size="17.5" text-anchor="middle" fill="#4d4d4d" stroke="#fff" stroke-width="5" paint-order="stroke">18</text>
<text x="843.0" y="226.0" font-size="17.5" text-anchor="middle" fill="#4d4d4d" stroke="#fff" stroke-width="5" paint-order="stroke">19</text>
<text x="861.0" y="194.8" font-size="17.5" text-anchor="middle" fill="#4d4d4d" stroke="#fff" stroke-width="5" paint-order="stroke">20</text>
<text x="886.5" y="169.3" font-size="17.5" text-anchor="middle" fill="#4d4d4d" stroke="#fff" stroke-width="5" paint-order="stroke">21</text>
<text x="917.7" y="151.3" font-size="17.5" text-anchor="middle" fill="#4d4d4d" stroke="#fff" stroke-width="5" paint-order="stroke">22</text>
<text x="952.5" y="142.0" font-size="17.5" text-anchor="middle" fill="#4d4d4d" stroke="#fff" stroke-width="5" paint-order="stroke">23</text>
<path d="M970.50,272.80 L972.01,157.13 A115.68,115.68 0 0 1 998.98,160.68 Z" fill="#d70000"/>
<path d="M970.50,272.80 L1072.06,215.92 A116.40,116.40 0 0 1 1082.53,241.20 Z" fill="#d70000"/>
<path d="M970.50,272.80 L1067.44,330.47 A112.80,112.80 0 0 1 1051.30,351.51 Z" fill="#d70000"/>
<path d="M970.50,272.80 L968.93,392.79 A120.00,120.00 0 0 1 940.96,389.11 Z" fill="#d70000"/>
<path d="M970.50,272.80 L871.04,328.50 A114.00,114.00 0 0 1 860.78,303.74 Z" fill="#d70000"/>
<path d="M970.50,272.80 L872.53,214.51 A114.00,114.00 0 0 1 888.84,193.25 Z" fill="#d70000"/>
<line x1="985.44" y1="159.30" x2="985.76" y2="156.92" stroke="#000" stroke-width="1.4"/>
<path d="M972.50,158.34 A114.48,114.48 0 0 1 998.20,161.72" fill="none" stroke="#000" stroke-width="1.4"/>
<path d="M972.54,155.94 A116.88,116.88 0 0 1 998.78,159.39" fill="none" stroke="#000" stroke-width="1.4"/>
<line x1="1076.93" y1="228.71" x2="1079.15" y2="227.80" stroke="#000" stroke-width="1.4"/>
<path d="M1071.26,216.95 A115.20,115.20 0 0 1 1081.24,241.05" fill="none" stroke="#000" stroke-width="1.4"/>
<path d="M1073.36,215.79 A117.60,117.60 0 0 1 1083.54,240.39" fill="none" stroke="#000" stroke-width="1.4"/>
<line x1="1059.04" y1="340.74" x2="1060.94" y2="342.20" stroke="#000" stroke-width="1.4"/>
<path d="M1066.16,330.28 A111.60,111.60 0 0 1 1050.78,350.32" fill="none" stroke="#000" stroke-width="1.4"/>
<path d="M1068.22,331.51 A114.00,114.00 0 0 1 1052.50,351.99" fill="none" stroke="#000" stroke-width="1.4"/>
<line x1="954.99" y1="390.58" x2="954.68" y2="392.96" stroke="#000" stroke-width="1.4"/>
<path d="M968.43,391.58 A118.80,118.80 0 0 1 941.76,388.07" fill="none" stroke="#000" stroke-width="1.4"/>
<path d="M968.38,393.98 A121.20,121.20 0 0 1 941.18,390.40" fill="none" stroke="#000" stroke-width="1.4"/>
<line x1="866.29" y1="315.97" x2="864.07" y2="316.89" stroke="#000" stroke-width="1.4"/>
<path d="M871.84,327.49 A112.80,112.80 0 0 1 862.07,303.89" fill="none" stroke="#000" stroke-width="1.4"/>
<path d="M869.74,328.65 A115.20,115.20 0 0 1 859.76,304.55" fill="none" stroke="#000" stroke-width="1.4"/>
<line x1="881.01" y1="204.13" x2="879.11" y2="202.67" stroke="#000" stroke-width="1.4"/>
<path d="M873.81,214.70 A112.80,112.80 0 0 1 889.36,194.44" fill="none" stroke="#000" stroke-width="1.4"/>
<path d="M871.75,213.47 A115.20,115.20 0 0 1 887.63,192.78" fill="none" stroke="#000" stroke-width="1.4"/>
<text x="970.5" y="111.0" font-size="18" text-anchor="middle" fill="#1a1a1a">Hypothyroid</text>
<text x="813.5" y="453.5" font-size="22" text-anchor="middle">ZT</text>
<text x="5.5" y="529.9" font-size="35">B) i</text>
<text x="213.4" y="544.3" font-size="26.5" text-anchor="middle" font-weight="bold">FATP4</text>
<text x="65.5" y="576.1" font-size="17">Group:</text>
<text x="125.4" y="576.1" font-size="17" text-anchor="middle">C</text>
<text x="147.1" y="576.1" font-size="17" text-anchor="middle">H</text>
<text x="170.3" y="576.1" font-size="17" text-anchor="middle">C</text>
<text x="192.8" y="576.1" font-size="17" text-anchor="middle">H</text>
<text x="219.0" y="576.1" font-size="17" text-anchor="middle">C</text>
<text x="238.9" y="576.1" font-size="17" text-anchor="middle">H</text>
<text x="256.5" y="576.1" font-size="17" text-anchor="middle">C</text>
<text x="277.0" y="576.1" font-size="17" text-anchor="middle">H</text>
<text x="302.5" y="576.1" font-size="17" text-anchor="middle">C</text>
<text x="324.6" y="576.1" font-size="17" text-anchor="middle">H</text>
<text x="349.0" y="576.1" font-size="17" text-anchor="middle">C</text>
<text x="374.4" y="576.1" font-size="17" text-anchor="middle">H</text>
<clipPath id="b347"><rect x="89" y="586" width="302" height="60.5"/></clipPath>
<g clip-path="url(#b347)">
<rect x="89" y="586" width="302" height="60.5" fill="#9ea1a6"/>
<g filter="url(#blur1)">
<rect x="111.5" y="583" width="5" height="66.5" fill="#fff" fill-opacity="0.07"/>
<rect x="134.5" y="583" width="4" height="66.5" fill="#fff" fill-opacity="0.07"/>
<rect x="157.0" y="583" width="4" height="66.5" fill="#fff" fill-opacity="0.07"/>
<rect x="180.0" y="583" width="4" height="66.5" fill="#fff" fill-opacity="0.07"/>
<rect x="202.0" y="583" width="4" height="66.5" fill="#fff" fill-opacity="0.07"/>
<rect x="224.0" y="583" width="4" height="66.5" fill="#fff" fill-opacity="0.07"/>
<rect x="246.0" y="583" width="4" height="66.5" fill="#fff" fill-opacity="0.07"/>
<rect x="268.0" y="583" width="4" height="66.5" fill="#fff" fill-opacity="0.07"/>
<rect x="290.0" y="583" width="4" height="66.5" fill="#fff" fill-opacity="0.07"/>
<rect x="313.5" y="583" width="4" height="66.5" fill="#fff" fill-opacity="0.07"/>
<rect x="338.0" y="583" width="5" height="66.5" fill="#fff" fill-opacity="0.07"/>
<rect x="364.0" y="583" width="4" height="66.5" fill="#fff" fill-opacity="0.07"/>
</g>
<ellipse cx="102" cy="594.3" rx="7.0" ry="1.5" fill="#8593c8" filter="url(#blur1)"/>
<ellipse cx="101.8" cy="605.7" rx="8.0" ry="3.5" fill="#c68d93" filter="url(#blur1)"/>
<ellipse cx="102" cy="630.7" rx="7.0" ry="2.5" fill="#8593c8" filter="url(#blur1)"/>
<rect x="116.7" y="622.0" width="18.0" height="7.0" rx="2.4" fill="#000" fill-opacity="0.90" filter="url(#blur2)"/>
<rect x="117.7" y="631.5" width="16.0" height="6.0" rx="2.1" fill="#000" fill-opacity="0.22" filter="url(#blur2)"/>
<rect x="138.8" y="622.5" width="18.0" height="7.0" rx="2.4" fill="#000" fill-opacity="0.65" filter="url(#blur2)"/>
<rect x="139.8" y="631.5" width="16.0" height="6.0" rx="2.1" fill="#000" fill-opacity="0.18" filter="url(#blur2)"/>
<rect x="161.6" y="622.0" width="18.0" height="8.0" rx="2.8" fill="#000" fill-opacity="0.92" filter="url(#blur2)"/>
<rect x="162.6" y="631.5" width="16.0" height="6.0" rx="2.1" fill="#000" fill-opacity="0.20" filter="url(#blur2)"/>
<rect x="184.4" y="623.5" width="18.0" height="7.0" rx="2.4" fill="#000" fill-opacity="0.75" filter="url(#blur2)"/>
<rect x="205.8" y="622.0" width="18.0" height="8.0" rx="2.8" fill="#000" fill-opacity="1.00" filter="url(#blur2)"/>
<rect x="228.0" y="622.5" width="18.0" height="8.0" rx="2.8" fill="#000" fill-opacity="0.92" filter="url(#blur2)"/>
<rect x="248.3" y="622.0" width="22.0" height="11.0" rx="3.8" fill="#000" fill-opacity="1.00" filter="url(#blur2)"/>
<rect x="250.3" y="634.0" width="18.0" height="8.0" rx="2.8" fill="#000" fill-opacity="0.30" filter="url(#blur2)"/>
<rect x="272.2" y="623.5" width="17.0" height="7.0" rx="2.4" fill="#000" fill-opacity="0.45" filter="url(#blur2)"/>
<rect x="295.2" y="623.5" width="18.0" height="7.0" rx="2.4" fill="#000" fill-opacity="0.62" filter="url(#blur2)"/>
<rect x="296.2" y="635.3" width="16.0" height="5.0" rx="1.8" fill="#000" fill-opacity="0.35" filter="url(#blur2)"/>
<rect x="318.0" y="623.5" width="18.0" height="7.0" rx="2.4" fill="#000" fill-opacity="0.58" filter="url(#blur2)"/>
<rect x="345.5" y="623.5" width="17.0" height="7.0" rx="2.4" fill="#000" fill-opacity="0.35" filter="url(#blur2)"/>
<rect x="369.1" y="623.5" width="17.0" height="7.0" rx="2.4" fill="#000" fill-opacity="0.45" filter="url(#blur2)"/>
<rect x="381.1" y="623.5" width="5.0" height="5.0" rx="1.8" fill="#000" fill-opacity="0.50" filter="url(#blur1)"/>
</g>
<rect x="89.5" y="586.5" width="301" height="59.5" fill="none" stroke="#555" stroke-opacity="0.5" stroke-width="1"/>
<text x="73.0" y="605.0" font-size="14.5" text-anchor="end">75 kDa</text>
<text x="73.0" y="636.0" font-size="14.5" text-anchor="end">60 kDa</text>
<text x="78.6" y="669.0" font-size="17">ZT:</text>
<text x="135.0" y="669.0" font-size="17" text-anchor="middle">0/24</text>
<text x="179.0" y="669.0" font-size="17" text-anchor="middle">4</text>
<text x="223.0" y="669.0" font-size="17" text-anchor="middle">8</text>
<text x="265.2" y="669.0" font-size="17" text-anchor="middle">12</text>
<text x="312.0" y="669.0" font-size="17" text-anchor="middle">16</text>
<text x="364.5" y="669.0" font-size="17" text-anchor="middle">20</text>
<line x1="119.0" y1="652.1" x2="158.0" y2="652.1" stroke="#333" stroke-width="1.4"/>
<line x1="164.7" y1="652.1" x2="203.3" y2="652.1" stroke="#333" stroke-width="1.4"/>
<line x1="207.8" y1="652.1" x2="246.0" y2="652.1" stroke="#333" stroke-width="1.4"/>
<line x1="250.8" y1="652.1" x2="289.4" y2="652.1" stroke="#333" stroke-width="1.4"/>
<line x1="296.5" y1="652.1" x2="335.0" y2="652.1" stroke="#333" stroke-width="1.4"/>
<line x1="343.7" y1="652.1" x2="384.9" y2="652.1" stroke="#333" stroke-width="1.4"/>
<line x1="114.4" y1="718.0" x2="114.4" y2="873.5" stroke="#000" stroke-width="2"/>
<line x1="108.4" y1="872.5" x2="115.4" y2="872.5" stroke="#000" stroke-width="2"/>
<text x="104.4" y="877.5" font-size="15.3" text-anchor="end">0</text>
<line x1="108.4" y1="821.2" x2="115.4" y2="821.2" stroke="#000" stroke-width="2"/>
<text x="104.4" y="826.2" font-size="15.3" text-anchor="end">1</text>
<line x1="108.4" y1="769.9" x2="115.4" y2="769.9" stroke="#000" stroke-width="2"/>
<text x="104.4" y="774.9" font-size="15.3" text-anchor="end">2</text>
<line x1="108.4" y1="718.6" x2="115.4" y2="718.6" stroke="#000" stroke-width="2"/>
<text x="104.4" y="723.6" font-size="15.3" text-anchor="end">3</text>
<text transform="translate(87.5,795.0) rotate(-90)" font-size="15" font-weight="bold" text-anchor="middle">FATP4 (AU)</text>
<rect x="132.0" y="887.9" width="123.0" height="6.4" fill="#fff" stroke="#000" stroke-width="1.5"/>
<rect x="255.0" y="887.9" width="126.7" height="6.4" fill="#000" stroke="#000" stroke-width="1.5"/>
<line x1="131.0" y1="898.2" x2="382.7" y2="898.2" stroke="#000" stroke-width="2"/>
<line x1="132.0" y1="898.2" x2="132.0" y2="904.7" stroke="#000" stroke-width="2"/>
<text x="132.0" y="922.2" font-size="15" text-anchor="middle">0</text>
<line x1="173.6" y1="898.2" x2="173.6" y2="904.7" stroke="#000" stroke-width="2"/>
<text x="173.6" y="922.2" font-size="15" text-anchor="middle">4</text>
<line x1="215.2" y1="898.2" x2="215.2" y2="904.7" stroke="#000" stroke-width="2"/>
<text x="215.2" y="922.2" font-size="15" text-anchor="middle">8</text>
<line x1="256.8" y1="898.2" x2="256.8" y2="904.7" stroke="#000" stroke-width="2"/>
<text x="256.8" y="922.2" font-size="15" text-anchor="middle">12</text>
<line x1="298.5" y1="898.2" x2="298.5" y2="904.7" stroke="#000" stroke-width="2"/>
<text x="298.5" y="922.2" font-size="15" text-anchor="middle">16</text>
<line x1="340.1" y1="898.2" x2="340.1" y2="904.7" stroke="#000" stroke-width="2"/>
<text x="340.1" y="922.2" font-size="15" text-anchor="middle">20</text>
<line x1="381.7" y1="898.2" x2="381.7" y2="904.7" stroke="#000" stroke-width="2"/>
<text x="381.7" y="922.2" font-size="15" text-anchor="middle">24</text>
<text x="256.8" y="943.7" font-size="15" text-anchor="middle">ZT</text>
<polyline points="132.0,833.2 133.0,832.7 134.1,832.3 135.1,831.8 136.2,831.3 137.2,830.8 138.2,830.2 139.3,829.7 140.3,829.1 141.4,828.5 142.4,827.9 143.4,827.3 144.5,826.7 145.5,826.1 146.6,825.4 147.6,824.8 148.6,824.1 149.7,823.4 150.7,822.7 151.8,822.0 152.8,821.3 153.8,820.6 154.9,819.9 155.9,819.1 157.0,818.4 158.0,817.6 159.1,816.9 160.1,816.1 161.1,815.3 162.2,814.5 163.2,813.7 164.3,813.0 165.3,812.2 166.3,811.4 167.4,810.6 168.4,809.8 169.5,809.0 170.5,808.2 171.5,807.3 172.6,806.5 173.6,805.7 174.7,804.9 175.7,804.1 176.7,803.3 177.8,802.5 178.8,801.7 179.9,800.9 180.9,800.2 181.9,799.4 183.0,798.6 184.0,797.8 185.1,797.1 186.1,796.3 187.1,795.6 188.2,794.8 189.2,794.1 190.3,793.4 191.3,792.7 192.3,792.0 193.4,791.3 194.4,790.6 195.5,789.9 196.5,789.3 197.5,788.6 198.6,788.0 199.6,787.4 200.7,786.8 201.7,786.2 202.7,785.6 203.8,785.0 204.8,784.5 205.9,783.9 206.9,783.4 208.0,782.9 209.0,782.4 210.0,782.0 211.1,781.5 212.1,781.1 213.2,780.7 214.2,780.3 215.2,779.9 216.3,779.6 217.3,779.2 218.4,778.9 219.4,778.6 220.4,778.3 221.5,778.1 222.5,777.8 223.6,777.6 224.6,777.4 225.6,777.2 226.7,777.1 227.7,776.9 228.8,776.8 229.8,776.7 230.8,776.7 231.9,776.6 232.9,776.6 234.0,776.6 235.0,776.6 236.0,776.6 237.1,776.7 238.1,776.7 239.2,776.8 240.2,776.9 241.2,777.1 242.3,777.2 243.3,777.4 244.4,777.6 245.4,777.8 246.4,778.1 247.5,778.3 248.5,778.6 249.6,778.9 250.6,779.2 251.6,779.6 252.7,779.9 253.7,780.3 254.8,780.7 255.8,781.1 256.8,781.5 257.9,782.0 258.9,782.4 260.0,782.9 261.0,783.4 262.1,783.9 263.1,784.5 264.1,785.0 265.2,785.6 266.2,786.2 267.3,786.8 268.3,787.4 269.3,788.0 270.4,788.6 271.4,789.3 272.5,789.9 273.5,790.6 274.5,791.3 275.6,792.0 276.6,792.7 277.7,793.4 278.7,794.1 279.7,794.8 280.8,795.6 281.8,796.3 282.9,797.1 283.9,797.8 284.9,798.6 286.0,799.4 287.0,800.2 288.1,800.9 289.1,801.7 290.1,802.5 291.2,803.3 292.2,804.1 293.3,804.9 294.3,805.7 295.3,806.5 296.4,807.3 297.4,808.2 298.5,809.0 299.5,809.8 300.5,810.6 301.6,811.4 302.6,812.2 303.7,813.0 304.7,813.7 305.7,814.5 306.8,815.3 307.8,816.1 308.9,816.9 309.9,817.6 311.0,818.4 312.0,819.1 313.0,819.9 314.1,820.6 315.1,821.3 316.2,822.0 317.2,822.7 318.2,823.4 319.3,824.1 320.3,824.8 321.4,825.4 322.4,826.1 323.4,826.7 324.5,827.3 325.5,827.9 326.6,828.5 327.6,829.1 328.6,829.7 329.7,830.2 330.7,830.8 331.8,831.3 332.8,831.8 333.8,832.3 334.9,832.7 335.9,833.2 337.0,833.6 338.0,834.0 339.0,834.4 340.1,834.8 341.1,835.1 342.2,835.5 343.2,835.8 344.2,836.1 345.3,836.4 346.3,836.6 347.4,836.9 348.4,837.1 349.4,837.3 350.5,837.5 351.5,837.6 352.6,837.8 353.6,837.9 354.6,838.0 355.7,838.0 356.7,838.1 357.8,838.1 358.8,838.1 359.9,838.1 360.9,838.1 361.9,838.0 363.0,838.0 364.0,837.9 365.1,837.8 366.1,837.6 367.1,837.5 368.2,837.3 369.2,837.1 370.3,836.9 371.3,836.6 372.3,836.4 373.4,836.1 374.4,835.8 375.5,835.5 376.5,835.1 377.5,834.8 378.6,834.4 379.6,834.0 380.7,833.6 381.7,833.2" fill="none" stroke="#333" stroke-width="1.4"/>
<polyline points="132.0,833.1 133.0,832.6 134.1,832.1 135.1,831.6 136.2,831.1 137.2,830.5 138.2,830.0 139.3,829.4 140.3,828.8 141.4,828.3 142.4,827.7 143.4,827.1 144.5,826.5 145.5,826.0 146.6,825.4 147.6,824.8 148.6,824.2 149.7,823.6 150.7,823.0 151.8,822.4 152.8,821.7 153.8,821.1 154.9,820.5 155.9,819.9 157.0,819.3 158.0,818.7 159.1,818.1 160.1,817.5 161.1,816.9 162.2,816.3 163.2,815.7 164.3,815.1 165.3,814.5 166.3,813.9 167.4,813.3 168.4,812.7 169.5,812.1 170.5,811.6 171.5,811.0 172.6,810.4 173.6,809.9 174.7,809.3 175.7,808.8 176.7,808.2 177.8,807.7 178.8,807.2 179.9,806.7 180.9,806.2 181.9,805.7 183.0,805.2 184.0,804.8 185.1,804.3 186.1,803.9 187.1,803.4 188.2,803.0 189.2,802.6 190.3,802.2 191.3,801.8 192.3,801.4 193.4,801.0 194.4,800.7 195.5,800.3 196.5,800.0 197.5,799.7 198.6,799.4 199.6,799.1 200.7,798.8 201.7,798.6 202.7,798.4 203.8,798.1 204.8,797.9 205.9,797.7 206.9,797.5 208.0,797.4 209.0,797.2 210.0,797.1 211.1,797.0 212.1,796.9 213.2,796.8 214.2,796.7 215.2,796.6 216.3,796.6 217.3,796.6 218.4,796.6 219.4,796.6 220.4,796.6 221.5,796.6 222.5,796.7 223.6,796.8 224.6,796.9 225.6,797.0 226.7,797.1 227.7,797.2 228.8,797.4 229.8,797.5 230.8,797.7 231.9,797.9 232.9,798.1 234.0,798.4 235.0,798.6 236.0,798.8 237.1,799.1 238.1,799.4 239.2,799.7 240.2,800.0 241.2,800.3 242.3,800.7 243.3,801.0 244.4,801.4 245.4,801.8 246.4,802.2 247.5,802.6 248.5,803.0 249.6,803.4 250.6,803.9 251.6,804.3 252.7,804.8 253.7,805.2 254.8,805.7 255.8,806.2 256.8,806.7 257.9,807.2 258.9,807.7 260.0,808.2 261.0,808.8 262.1,809.3 263.1,809.9 264.1,810.4 265.2,811.0 266.2,811.6 267.3,812.1 268.3,812.7 269.3,813.3 270.4,813.9 271.4,814.5 272.5,815.1 273.5,815.7 274.5,816.3 275.6,816.9 276.6,817.5 277.7,818.1 278.7,818.7 279.7,819.3 280.8,819.9 281.8,820.5 282.9,821.1 283.9,821.7 284.9,822.4 286.0,823.0 287.0,823.6 288.1,824.2 289.1,824.8 290.1,825.4 291.2,826.0 292.2,826.5 293.3,827.1 294.3,827.7 295.3,828.3 296.4,828.8 297.4,829.4 298.5,830.0 299.5,830.5 300.5,831.1 301.6,831.6 302.6,832.1 303.7,832.6 304.7,833.1 305.7,833.6 306.8,834.1 307.8,834.6 308.9,835.1 309.9,835.5 311.0,836.0 312.0,836.4 313.0,836.8 314.1,837.3 315.1,837.7 316.2,838.1 317.2,838.4 318.2,838.8 319.3,839.2 320.3,839.5 321.4,839.8 322.4,840.1 323.4,840.4 324.5,840.7 325.5,841.0 326.6,841.2 327.6,841.5 328.6,841.7 329.7,841.9 330.7,842.1 331.8,842.3 332.8,842.5 333.8,842.6 334.9,842.7 335.9,842.9 337.0,843.0 338.0,843.1 339.0,843.1 340.1,843.2 341.1,843.2 342.2,843.3 343.2,843.3 344.2,843.3 345.3,843.2 346.3,843.2 347.4,843.1 348.4,843.1 349.4,843.0 350.5,842.9 351.5,842.7 352.6,842.6 353.6,842.5 354.6,842.3 355.7,842.1 356.7,841.9 357.8,841.7 358.8,841.5 359.9,841.2 360.9,841.0 361.9,840.7 363.0,840.4 364.0,840.1 365.1,839.8 366.1,839.5 367.1,839.2 368.2,838.8 369.2,838.4 370.3,838.1 371.3,837.7 372.3,837.3 373.4,836.8 374.4,836.4 375.5,836.0 376.5,835.5 377.5,835.1 378.6,834.6 379.6,834.1 380.7,833.6 381.7,833.1" fill="none" stroke="#e8674f" stroke-width="1.4"/>
<line x1="173.6" y1="818.6" x2="173.6" y2="803.2" stroke="#e8674f" stroke-width="1.3"/>
<line x1="169.6" y1="818.6" x2="177.6" y2="818.6" stroke="#e8674f" stroke-width="1.3"/>
<line x1="169.6" y1="803.2" x2="177.6" y2="803.2" stroke="#e8674f" stroke-width="1.3"/>
<line x1="215.2" y1="790.4" x2="215.2" y2="780.2" stroke="#e8674f" stroke-width="1.3"/>
<line x1="211.2" y1="790.4" x2="219.2" y2="790.4" stroke="#e8674f" stroke-width="1.3"/>
<line x1="211.2" y1="780.2" x2="219.2" y2="780.2" stroke="#e8674f" stroke-width="1.3"/>
<line x1="256.8" y1="819.7" x2="256.8" y2="814.5" stroke="#e8674f" stroke-width="1.3"/>
<line x1="252.8" y1="819.7" x2="260.8" y2="819.7" stroke="#e8674f" stroke-width="1.3"/>
<line x1="252.8" y1="814.5" x2="260.8" y2="814.5" stroke="#e8674f" stroke-width="1.3"/>
<line x1="298.5" y1="838.1" x2="298.5" y2="827.9" stroke="#e8674f" stroke-width="1.3"/>
<line x1="294.5" y1="838.1" x2="302.5" y2="838.1" stroke="#e8674f" stroke-width="1.3"/>
<line x1="294.5" y1="827.9" x2="302.5" y2="827.9" stroke="#e8674f" stroke-width="1.3"/>
<line x1="340.1" y1="842.7" x2="340.1" y2="820.2" stroke="#e8674f" stroke-width="1.3"/>
<line x1="336.1" y1="842.7" x2="344.1" y2="842.7" stroke="#e8674f" stroke-width="1.3"/>
<line x1="336.1" y1="820.2" x2="344.1" y2="820.2" stroke="#e8674f" stroke-width="1.3"/>
<rect x="128.7" y="834.3" width="6.6" height="6.6" fill="#e0301e"/>
<rect x="170.3" y="807.6" width="6.6" height="6.6" fill="#e0301e"/>
<rect x="211.9" y="782.0" width="6.6" height="6.6" fill="#e0301e"/>
<rect x="253.5" y="813.8" width="6.6" height="6.6" fill="#e0301e"/>
<rect x="295.2" y="829.7" width="6.6" height="6.6" fill="#e0301e"/>
<rect x="336.8" y="828.2" width="6.6" height="6.6" fill="#e0301e"/>
<rect x="378.4" y="834.3" width="6.6" height="6.6" fill="#e0301e"/>
<line x1="173.6" y1="822.2" x2="173.6" y2="809.9" stroke="#333" stroke-width="1.3"/>
<line x1="169.6" y1="822.2" x2="177.6" y2="822.2" stroke="#333" stroke-width="1.3"/>
<line x1="169.6" y1="809.9" x2="177.6" y2="809.9" stroke="#333" stroke-width="1.3"/>
<line x1="215.2" y1="798.1" x2="215.2" y2="782.7" stroke="#333" stroke-width="1.3"/>
<line x1="211.2" y1="798.1" x2="219.2" y2="798.1" stroke="#333" stroke-width="1.3"/>
<line x1="211.2" y1="782.7" x2="219.2" y2="782.7" stroke="#333" stroke-width="1.3"/>
<line x1="256.8" y1="780.2" x2="256.8" y2="739.1" stroke="#333" stroke-width="1.3"/>
<line x1="252.8" y1="780.2" x2="260.8" y2="780.2" stroke="#333" stroke-width="1.3"/>
<line x1="252.8" y1="739.1" x2="260.8" y2="739.1" stroke="#333" stroke-width="1.3"/>
<line x1="298.5" y1="839.7" x2="298.5" y2="805.8" stroke="#333" stroke-width="1.3"/>
<line x1="294.5" y1="839.7" x2="302.5" y2="839.7" stroke="#333" stroke-width="1.3"/>
<line x1="294.5" y1="805.8" x2="302.5" y2="805.8" stroke="#333" stroke-width="1.3"/>
<line x1="340.1" y1="847.9" x2="340.1" y2="835.6" stroke="#333" stroke-width="1.3"/>
<line x1="336.1" y1="847.9" x2="344.1" y2="847.9" stroke="#333" stroke-width="1.3"/>
<line x1="336.1" y1="835.6" x2="344.1" y2="835.6" stroke="#333" stroke-width="1.3"/>
<circle cx="132.0" cy="823.8" r="3.6" fill="#000"/>
<circle cx="173.6" cy="816.1" r="3.6" fill="#000"/>
<circle cx="215.2" cy="790.4" r="3.6" fill="#000"/>
<circle cx="256.8" cy="759.6" r="3.6" fill="#000"/>
<circle cx="298.5" cy="822.7" r="3.6" fill="#000"/>
<circle cx="340.1" cy="841.7" r="3.6" fill="#000"/>
<circle cx="381.7" cy="823.8" r="3.6" fill="#000"/>
<text x="256.8" y="737.0" font-size="17" text-anchor="middle" fill="#333">*</text>
<text x="128.2" y="708.9" font-size="14.3"><tspan font-style="italic">P</tspan>&lt;0.0001 for time main effect</text>
<text x="453.0" y="531.0" font-size="35">B) ii</text>
<circle cx="650.3" cy="733.1" r="24.00" fill="none" stroke="#ebebeb" stroke-width="1.7"/>
<circle cx="650.3" cy="733.1" r="48.00" fill="none" stroke="#ebebeb" stroke-width="1.7"/>
<circle cx="650.3" cy="733.1" r="72.00" fill="none" stroke="#ebebeb" stroke-width="1.7"/>
<circle cx="650.3" cy="733.1" r="96.00" fill="none" stroke="#ebebeb" stroke-width="1.7"/>
<circle cx="650.3" cy="733.1" r="120.00" fill="none" stroke="#ebebeb" stroke-width="1.7"/>
<circle cx="650.3" cy="733.1" r="139.70" fill="none" stroke="#ebebeb" stroke-width="1.7"/>
<line x1="650.3" y1="733.1" x2="668.53" y2="594.60" stroke="#ebebeb" stroke-width="1.5"/>
<line x1="650.3" y1="733.1" x2="703.76" y2="604.03" stroke="#ebebeb" stroke-width="1.5"/>
<line x1="650.3" y1="733.1" x2="735.34" y2="622.27" stroke="#ebebeb" stroke-width="1.5"/>
<line x1="650.3" y1="733.1" x2="761.13" y2="648.06" stroke="#ebebeb" stroke-width="1.5"/>
<line x1="650.3" y1="733.1" x2="779.37" y2="679.64" stroke="#ebebeb" stroke-width="1.5"/>
<line x1="650.3" y1="733.1" x2="788.80" y2="714.87" stroke="#ebebeb" stroke-width="1.5"/>
<line x1="650.3" y1="733.1" x2="788.80" y2="751.33" stroke="#ebebeb" stroke-width="1.5"/>
<line x1="650.3" y1="733.1" x2="779.37" y2="786.56" stroke="#ebebeb" stroke-width="1.5"/>
<line x1="650.3" y1="733.1" x2="761.13" y2="818.14" stroke="#ebebeb" stroke-width="1.5"/>
<line x1="650.3" y1="733.1" x2="735.34" y2="843.93" stroke="#ebebeb" stroke-width="1.5"/>
<line x1="650.3" y1="733.1" x2="703.76" y2="862.17" stroke="#ebebeb" stroke-width="1.5"/>
<line x1="650.3" y1="733.1" x2="668.53" y2="871.60" stroke="#ebebeb" stroke-width="1.5"/>
<line x1="650.3" y1="733.1" x2="632.07" y2="871.60" stroke="#ebebeb" stroke-width="1.5"/>
<line x1="650.3" y1="733.1" x2="596.84" y2="862.17" stroke="#ebebeb" stroke-width="1.5"/>
<line x1="650.3" y1="733.1" x2="565.26" y2="843.93" stroke="#ebebeb" stroke-width="1.5"/>
<line x1="650.3" y1="733.1" x2="539.47" y2="818.14" stroke="#ebebeb" stroke-width="1.5"/>
<line x1="650.3" y1="733.1" x2="521.23" y2="786.56" stroke="#ebebeb" stroke-width="1.5"/>
<line x1="650.3" y1="733.1" x2="511.80" y2="751.33" stroke="#ebebeb" stroke-width="1.5"/>
<line x1="650.3" y1="733.1" x2="511.80" y2="714.87" stroke="#ebebeb" stroke-width="1.5"/>
<line x1="650.3" y1="733.1" x2="521.23" y2="679.64" stroke="#ebebeb" stroke-width="1.5"/>
<line x1="650.3" y1="733.1" x2="539.47" y2="648.06" stroke="#ebebeb" stroke-width="1.5"/>
<line x1="650.3" y1="733.1" x2="565.26" y2="622.27" stroke="#ebebeb" stroke-width="1.5"/>
<line x1="650.3" y1="733.1" x2="596.84" y2="604.03" stroke="#ebebeb" stroke-width="1.5"/>
<line x1="650.3" y1="733.1" x2="632.07" y2="594.60" stroke="#ebebeb" stroke-width="1.5"/>
<text x="668.5" y="600.6" font-size="17.5" text-anchor="middle" fill="#4d4d4d" stroke="#fff" stroke-width="5" paint-order="stroke">0</text>
<text x="703.8" y="610.0" font-size="17.5" text-anchor="middle" fill="#4d4d4d" stroke="#fff" stroke-width="5" paint-order="stroke">1</text>
<text x="735.3" y="628.3" font-size="17.5" text-anchor="middle" fill="#4d4d4d" stroke="#fff" stroke-width="5" paint-order="stroke">2</text>
<text x="761.1" y="654.1" font-size="17.5" text-anchor="middle" fill="#4d4d4d" stroke="#fff" stroke-width="5" paint-order="stroke">3</text>
<text x="779.4" y="685.6" font-size="17.5" text-anchor="middle" fill="#4d4d4d" stroke="#fff" stroke-width="5" paint-order="stroke">4</text>
<text x="788.8" y="720.9" font-size="17.5" text-anchor="middle" fill="#4d4d4d" stroke="#fff" stroke-width="5" paint-order="stroke">5</text>
<text x="788.8" y="757.3" font-size="17.5" text-anchor="middle" fill="#4d4d4d" stroke="#fff" stroke-width="5" paint-order="stroke">6</text>
<text x="779.4" y="792.6" font-size="17.5" text-anchor="middle" fill="#4d4d4d" stroke="#fff" stroke-width="5" paint-order="stroke">7</text>
<text x="761.1" y="824.1" font-size="17.5" text-anchor="middle" fill="#4d4d4d" stroke="#fff" stroke-width="5" paint-order="stroke">8</text>
<text x="735.3" y="849.9" font-size="17.5" text-anchor="middle" fill="#4d4d4d" stroke="#fff" stroke-width="5" paint-order="stroke">9</text>
<text x="703.8" y="868.2" font-size="17.5" text-anchor="middle" fill="#4d4d4d" stroke="#fff" stroke-width="5" paint-order="stroke">10</text>
<text x="668.5" y="877.6" font-size="17.5" text-anchor="middle" fill="#4d4d4d" stroke="#fff" stroke-width="5" paint-order="stroke">11</text>
<text x="632.1" y="877.6" font-size="17.5" text-anchor="middle" fill="#4d4d4d" stroke="#fff" stroke-width="5" paint-order="stroke">12</text>
<text x="596.8" y="868.2" font-size="17.5" text-anchor="middle" fill="#4d4d4d" stroke="#fff" stroke-width="5" paint-order="stroke">13</text>
<text x="565.3" y="849.9" font-size="17.5" text-anchor="middle" fill="#4d4d4d" stroke="#fff" stroke-width="5" paint-order="stroke">14</text>
<text x="539.5" y="824.1" font-size="17.5" text-anchor="middle" fill="#4d4d4d" stroke="#fff" stroke-width="5" paint-order="stroke">15</text>
<text x="521.2" y="792.6" font-size="17.5" text-anchor="middle" fill="#4d4d4d" stroke="#fff" stroke-width="5" paint-order="stroke">16</text>
<text x="511.8" y="757.3" font-size="17.5" text-anchor="middle" fill="#4d4d4d" stroke="#fff" stroke-width="5" paint-order="stroke">17</text>
<text x="511.8" y="720.9" font-size="17.5" text-anchor="middle" fill="#4d4d4d" stroke="#fff" stroke-width="5" paint-order="stroke">18</text>
<text x="521.2" y="685.6" font-size="17.5" text-anchor="middle" fill="#4d4d4d" stroke="#fff" stroke-width="5" paint-order="stroke">19</text>
<text x="539.5" y="654.1" font-size="17.5" text-anchor="middle" fill="#4d4d4d" stroke="#fff" stroke-width="5" paint-order="stroke">20</text>
<text x="565.3" y="628.3" font-size="17.5" text-anchor="middle" fill="#4d4d4d" stroke="#fff" stroke-width="5" paint-order="stroke">21</text>
<text x="596.8" y="610.0" font-size="17.5" text-anchor="middle" fill="#4d4d4d" stroke="#fff" stroke-width="5" paint-order="stroke">22</text>
<text x="632.1" y="600.6" font-size="17.5" text-anchor="middle" fill="#4d4d4d" stroke="#fff" stroke-width="5" paint-order="stroke">23</text>
<path d="M650.30,733.10 L650.91,686.54 A46.56,46.56 0 0 1 661.76,687.97 Z" fill="#000"/>
<path d="M650.30,733.10 L696.79,707.07 A53.28,53.28 0 0 1 701.58,718.64 Z" fill="#000"/>
<path d="M650.30,733.10 L717.13,772.86 A77.76,77.76 0 0 1 706.00,787.36 Z" fill="#000"/>
<path d="M650.30,733.10 L648.95,836.29 A103.20,103.20 0 0 1 624.90,833.12 Z" fill="#000"/>
<path d="M650.30,733.10 L609.26,756.08 A47.04,47.04 0 0 1 605.03,745.87 Z" fill="#000"/>
<path d="M650.30,733.10 L626.37,718.87 A27.84,27.84 0 0 1 630.36,713.67 Z" fill="#000"/>
<line x1="656.19" y1="688.37" x2="656.57" y2="685.51" stroke="#000" stroke-width="1.4"/>
<path d="M651.09,687.99 A45.12,45.12 0 0 1 661.22,689.32" fill="none" stroke="#000" stroke-width="1.4"/>
<path d="M651.14,685.11 A48.00,48.00 0 0 1 661.91,686.53" fill="none" stroke="#000" stroke-width="1.4"/>
<line x1="693.32" y1="715.28" x2="705.73" y2="710.14" stroke="#000" stroke-width="1.4"/>
<path d="M691.02,710.53 A46.56,46.56 0 0 1 695.06,720.27" fill="none" stroke="#000" stroke-width="1.4"/>
<path d="M702.78,704.01 A60.00,60.00 0 0 1 707.98,716.56" fill="none" stroke="#000" stroke-width="1.4"/>
<line x1="706.28" y1="776.05" x2="717.70" y2="784.82" stroke="#000" stroke-width="1.4"/>
<path d="M710.78,769.44 A70.56,70.56 0 0 1 701.06,782.12" fill="none" stroke="#000" stroke-width="1.4"/>
<path d="M723.12,776.86 A84.96,84.96 0 0 1 711.42,792.12" fill="none" stroke="#000" stroke-width="1.4"/>
<line x1="639.34" y1="816.38" x2="634.32" y2="854.45" stroke="#000" stroke-width="1.4"/>
<path d="M648.83,817.09 A84.00,84.00 0 0 1 629.98,814.60" fill="none" stroke="#000" stroke-width="1.4"/>
<path d="M648.16,855.48 A122.40,122.40 0 0 1 620.69,851.86" fill="none" stroke="#000" stroke-width="1.4"/>
<line x1="620.14" y1="745.59" x2="593.54" y2="756.61" stroke="#000" stroke-width="1.4"/>
<path d="M621.75,748.92 A32.64,32.64 0 0 1 618.92,742.10" fill="none" stroke="#000" stroke-width="1.4"/>
<path d="M596.56,762.89 A61.44,61.44 0 0 1 591.24,750.04" fill="none" stroke="#000" stroke-width="1.4"/>
<line x1="633.54" y1="720.24" x2="622.88" y2="712.06" stroke="#000" stroke-width="1.4"/>
<path d="M632.20,722.22 A21.12,21.12 0 0 1 635.11,718.43" fill="none" stroke="#000" stroke-width="1.4"/>
<path d="M620.68,715.30 A34.56,34.56 0 0 1 625.44,709.09" fill="none" stroke="#000" stroke-width="1.4"/>
<text x="650.3" y="570.8" font-size="18" text-anchor="middle" fill="#1a1a1a">Control</text>
<text x="488.7" y="619.1" font-size="17.5" text-anchor="end" fill="#4d4d4d">2.5</text>
<text x="488.7" y="643.1" font-size="17.5" text-anchor="end" fill="#4d4d4d">2.0</text>
<text x="488.7" y="667.1" font-size="17.5" text-anchor="end" fill="#4d4d4d">1.5</text>
<text x="488.7" y="691.1" font-size="17.5" text-anchor="end" fill="#4d4d4d">1.0</text>
<text x="488.7" y="715.1" font-size="17.5" text-anchor="end" fill="#4d4d4d">0.5</text>
<text x="488.7" y="739.1" font-size="17.5" text-anchor="end" fill="#4d4d4d">0.0</text>
<text transform="translate(458.5,733.5) rotate(-90)" font-size="20.5" text-anchor="middle" fill="#1a1a1a">Relative expression</text>
<circle cx="969.3" cy="732.6" r="24.00" fill="none" stroke="#ebebeb" stroke-width="1.7"/>
<circle cx="969.3" cy="732.6" r="48.00" fill="none" stroke="#ebebeb" stroke-width="1.7"/>
<circle cx="969.3" cy="732.6" r="72.00" fill="none" stroke="#ebebeb" stroke-width="1.7"/>
<circle cx="969.3" cy="732.6" r="96.00" fill="none" stroke="#ebebeb" stroke-width="1.7"/>
<circle cx="969.3" cy="732.6" r="120.00" fill="none" stroke="#ebebeb" stroke-width="1.7"/>
<circle cx="969.3" cy="732.6" r="140.00" fill="none" stroke="#ebebeb" stroke-width="1.7"/>
<line x1="969.3" y1="732.6" x2="987.57" y2="593.80" stroke="#ebebeb" stroke-width="1.5"/>
<line x1="969.3" y1="732.6" x2="1022.88" y2="603.26" stroke="#ebebeb" stroke-width="1.5"/>
<line x1="969.3" y1="732.6" x2="1054.53" y2="621.53" stroke="#ebebeb" stroke-width="1.5"/>
<line x1="969.3" y1="732.6" x2="1080.37" y2="647.37" stroke="#ebebeb" stroke-width="1.5"/>
<line x1="969.3" y1="732.6" x2="1098.64" y2="679.02" stroke="#ebebeb" stroke-width="1.5"/>
<line x1="969.3" y1="732.6" x2="1108.10" y2="714.33" stroke="#ebebeb" stroke-width="1.5"/>
<line x1="969.3" y1="732.6" x2="1108.10" y2="750.87" stroke="#ebebeb" stroke-width="1.5"/>
<line x1="969.3" y1="732.6" x2="1098.64" y2="786.18" stroke="#ebebeb" stroke-width="1.5"/>
<line x1="969.3" y1="732.6" x2="1080.37" y2="817.83" stroke="#ebebeb" stroke-width="1.5"/>
<line x1="969.3" y1="732.6" x2="1054.53" y2="843.67" stroke="#ebebeb" stroke-width="1.5"/>
<line x1="969.3" y1="732.6" x2="1022.88" y2="861.94" stroke="#ebebeb" stroke-width="1.5"/>
<line x1="969.3" y1="732.6" x2="987.57" y2="871.40" stroke="#ebebeb" stroke-width="1.5"/>
<line x1="969.3" y1="732.6" x2="951.03" y2="871.40" stroke="#ebebeb" stroke-width="1.5"/>
<line x1="969.3" y1="732.6" x2="915.72" y2="861.94" stroke="#ebebeb" stroke-width="1.5"/>
<line x1="969.3" y1="732.6" x2="884.07" y2="843.67" stroke="#ebebeb" stroke-width="1.5"/>
<line x1="969.3" y1="732.6" x2="858.23" y2="817.83" stroke="#ebebeb" stroke-width="1.5"/>
<line x1="969.3" y1="732.6" x2="839.96" y2="786.18" stroke="#ebebeb" stroke-width="1.5"/>
<line x1="969.3" y1="732.6" x2="830.50" y2="750.87" stroke="#ebebeb" stroke-width="1.5"/>
<line x1="969.3" y1="732.6" x2="830.50" y2="714.33" stroke="#ebebeb" stroke-width="1.5"/>
<line x1="969.3" y1="732.6" x2="839.96" y2="679.02" stroke="#ebebeb" stroke-width="1.5"/>
<line x1="969.3" y1="732.6" x2="858.23" y2="647.37" stroke="#ebebeb" stroke-width="1.5"/>
<line x1="969.3" y1="732.6" x2="884.07" y2="621.53" stroke="#ebebeb" stroke-width="1.5"/>
<line x1="969.3" y1="732.6" x2="915.72" y2="603.26" stroke="#ebebeb" stroke-width="1.5"/>
<line x1="969.3" y1="732.6" x2="951.03" y2="593.80" stroke="#ebebeb" stroke-width="1.5"/>
<text x="987.6" y="599.8" font-size="17.5" text-anchor="middle" fill="#4d4d4d" stroke="#fff" stroke-width="5" paint-order="stroke">0</text>
<text x="1022.9" y="609.3" font-size="17.5" text-anchor="middle" fill="#4d4d4d" stroke="#fff" stroke-width="5" paint-order="stroke">1</text>
<text x="1054.5" y="627.5" font-size="17.5" text-anchor="middle" fill="#4d4d4d" stroke="#fff" stroke-width="5" paint-order="stroke">2</text>
<text x="1080.4" y="653.4" font-size="17.5" text-anchor="middle" fill="#4d4d4d" stroke="#fff" stroke-width="5" paint-order="stroke">3</text>
<text x="1098.6" y="685.0" font-size="17.5" text-anchor="middle" fill="#4d4d4d" stroke="#fff" stroke-width="5" paint-order="stroke">4</text>
<text x="1108.1" y="720.3" font-size="17.5" text-anchor="middle" fill="#4d4d4d" stroke="#fff" stroke-width="5" paint-order="stroke">5</text>
<text x="1108.1" y="756.9" font-size="17.5" text-anchor="middle" fill="#4d4d4d" stroke="#fff" stroke-width="5" paint-order="stroke">6</text>
<text x="1098.6" y="792.2" font-size="17.5" text-anchor="middle" fill="#4d4d4d" stroke="#fff" stroke-width="5" paint-order="stroke">7</text>
<text x="1080.4" y="823.8" font-size="17.5" text-anchor="middle" fill="#4d4d4d" stroke="#fff" stroke-width="5" paint-order="stroke">8</text>
<text x="1054.5" y="849.7" font-size="17.5" text-anchor="middle" fill="#4d4d4d" stroke="#fff" stroke-width="5" paint-order="stroke">9</text>
<text x="1022.9" y="867.9" font-size="17.5" text-anchor="middle" fill="#4d4d4d" stroke="#fff" stroke-width="5" paint-order="stroke">10</text>
<text x="987.6" y="877.4" font-size="17.5" text-anchor="middle" fill="#4d4d4d" stroke="#fff" stroke-width="5" paint-order="stroke">11</text>
<text x="951.0" y="877.4" font-size="17.5" text-anchor="middle" fill="#4d4d4d" stroke="#fff" stroke-width="5" paint-order="stroke">12</text>
<text x="915.7" y="867.9" font-size="17.5" text-anchor="middle" fill="#4d4d4d" stroke="#fff" stroke-width="5" paint-order="stroke">13</text>
<text x="884.1" y="849.7" font-size="17.5" text-anchor="middle" fill="#4d4d4d" stroke="#fff" stroke-width="5" paint-order="stroke">14</text>
<text x="858.2" y="823.8" font-size="17.5" text-anchor="middle" fill="#4d4d4d" stroke="#fff" stroke-width="5" paint-order="stroke">15</text>
<text x="840.0" y="792.2" font-size="17.5" text-anchor="middle" fill="#4d4d4d" stroke="#fff" stroke-width="5" paint-order="stroke">16</text>
<text x="830.5" y="756.9" font-size="17.5" text-anchor="middle" fill="#4d4d4d" stroke="#fff" stroke-width="5" paint-order="stroke">17</text>
<text x="830.5" y="720.3" font-size="17.5" text-anchor="middle" fill="#4d4d4d" stroke="#fff" stroke-width="5" paint-order="stroke">18</text>
<text x="840.0" y="685.0" font-size="17.5" text-anchor="middle" fill="#4d4d4d" stroke="#fff" stroke-width="5" paint-order="stroke">19</text>
<text x="858.2" y="653.4" font-size="17.5" text-anchor="middle" fill="#4d4d4d" stroke="#fff" stroke-width="5" paint-order="stroke">20</text>
<text x="884.1" y="627.5" font-size="17.5" text-anchor="middle" fill="#4d4d4d" stroke="#fff" stroke-width="5" paint-order="stroke">21</text>
<text x="915.7" y="609.3" font-size="17.5" text-anchor="middle" fill="#4d4d4d" stroke="#fff" stroke-width="5" paint-order="stroke">22</text>
<text x="951.0" y="599.8" font-size="17.5" text-anchor="middle" fill="#4d4d4d" stroke="#fff" stroke-width="5" paint-order="stroke">23</text>
<path d="M969.30,732.60 L969.73,699.48 A33.12,33.12 0 0 1 977.45,700.50 Z" fill="#d70000"/>
<path d="M969.30,732.60 L1020.39,703.99 A58.56,58.56 0 0 1 1025.66,716.70 Z" fill="#d70000"/>
<path d="M969.30,732.60 L1041.49,775.55 A84.00,84.00 0 0 1 1029.47,791.21 Z" fill="#d70000"/>
<path d="M969.30,732.60 L968.60,785.88 A53.28,53.28 0 0 1 956.18,784.24 Z" fill="#d70000"/>
<path d="M969.30,732.60 L934.96,751.83 A39.36,39.36 0 0 1 931.42,743.28 Z" fill="#d70000"/>
<path d="M969.30,732.60 L935.47,712.48 A39.36,39.36 0 0 1 941.11,705.13 Z" fill="#d70000"/>
<line x1="973.31" y1="702.14" x2="973.94" y2="697.38" stroke="#000" stroke-width="1.4"/>
<path d="M969.84,701.88 A30.72,30.72 0 0 1 976.73,702.79" fill="none" stroke="#000" stroke-width="1.4"/>
<path d="M969.92,697.09 A35.52,35.52 0 0 1 977.89,698.14" fill="none" stroke="#000" stroke-width="1.4"/>
<line x1="1018.08" y1="712.39" x2="1028.72" y2="707.99" stroke="#000" stroke-width="1.4"/>
<path d="M1015.48,707.00 A52.80,52.80 0 0 1 1020.05,718.05" fill="none" stroke="#000" stroke-width="1.4"/>
<path d="M1025.56,701.42 A64.32,64.32 0 0 1 1031.13,714.87" fill="none" stroke="#000" stroke-width="1.4"/>
<line x1="1032.90" y1="781.40" x2="1038.99" y2="786.07" stroke="#000" stroke-width="1.4"/>
<path d="M1038.01,773.89 A80.16,80.16 0 0 1 1026.96,788.28" fill="none" stroke="#000" stroke-width="1.4"/>
<path d="M1044.59,777.84 A87.84,87.84 0 0 1 1032.49,793.62" fill="none" stroke="#000" stroke-width="1.4"/>
<line x1="962.72" y1="782.57" x2="961.97" y2="788.28" stroke="#000" stroke-width="1.4"/>
<path d="M968.42,782.99 A50.40,50.40 0 0 1 957.11,781.50" fill="none" stroke="#000" stroke-width="1.4"/>
<path d="M968.32,788.75 A56.16,56.16 0 0 1 955.71,787.09" fill="none" stroke="#000" stroke-width="1.4"/>
<line x1="934.71" y1="746.93" x2="931.16" y2="748.40" stroke="#000" stroke-width="1.4"/>
<path d="M936.55,750.75 A37.44,37.44 0 0 1 933.31,742.92" fill="none" stroke="#000" stroke-width="1.4"/>
<path d="M933.20,752.61 A41.28,41.28 0 0 1 929.62,743.98" fill="none" stroke="#000" stroke-width="1.4"/>
<line x1="945.69" y1="714.48" x2="930.46" y2="702.80" stroke="#000" stroke-width="1.4"/>
<path d="M943.79,717.27 A29.76,29.76 0 0 1 947.89,711.93" fill="none" stroke="#000" stroke-width="1.4"/>
<path d="M927.33,707.38 A48.96,48.96 0 0 1 934.08,698.59" fill="none" stroke="#000" stroke-width="1.4"/>
<text x="969.3" y="570.0" font-size="18" text-anchor="middle" fill="#1a1a1a">Hypothyroid</text>
<text x="810.3" y="916.4" font-size="22" text-anchor="middle">ZT</text>
<text x="8.5" y="992.9" font-size="35">C) i</text>
<text x="220.0" y="990.0" font-size="26.5" text-anchor="middle" font-weight="bold">MTTP</text>
<text x="67.4" y="1028.6" font-size="17">Group:</text>
<text x="127.3" y="1028.6" font-size="17" text-anchor="middle">C</text>
<text x="148.6" y="1028.6" font-size="17" text-anchor="middle">H</text>
<text x="169.6" y="1028.6" font-size="17" text-anchor="middle">C</text>
<text x="191.0" y="1028.6" font-size="17" text-anchor="middle">H</text>
<text x="211.5" y="1028.6" font-size="17" text-anchor="middle">C</text>
<text x="234.0" y="1028.6" font-size="17" text-anchor="middle">H</text>
<text x="254.6" y="1028.6" font-size="17" text-anchor="middle">C</text>
<text x="275.2" y="1028.6" font-size="17" text-anchor="middle">H</text>
<text x="296.5" y="1028.6" font-size="17" text-anchor="middle">C</text>
<text x="322.0" y="1028.6" font-size="17" text-anchor="middle">H</text>
<text x="342.6" y="1028.6" font-size="17" text-anchor="middle">C</text>
<text x="363.2" y="1028.6" font-size="17" text-anchor="middle">H</text>
<clipPath id="b660"><rect x="93.6" y="1039.7" width="282.70000000000005" height="45.299999999999955"/></clipPath>
<g clip-path="url(#b660)">
<rect x="93.6" y="1039.7" width="282.70000000000005" height="45.299999999999955" fill="#a7a9ad"/>
<g filter="url(#blur1)">
<rect x="115.0" y="1036.7" width="4" height="51.299999999999955" fill="#fff" fill-opacity="0.05"/>
<rect x="136.5" y="1036.7" width="4" height="51.299999999999955" fill="#fff" fill-opacity="0.05"/>
<rect x="157.5" y="1036.7" width="4" height="51.299999999999955" fill="#fff" fill-opacity="0.05"/>
<rect x="179.0" y="1036.7" width="4" height="51.299999999999955" fill="#fff" fill-opacity="0.05"/>
<rect x="200.0" y="1036.7" width="4" height="51.299999999999955" fill="#fff" fill-opacity="0.05"/>
<rect x="222.0" y="1036.7" width="4" height="51.299999999999955" fill="#fff" fill-opacity="0.05"/>
<rect x="242.5" y="1036.7" width="4" height="51.299999999999955" fill="#fff" fill-opacity="0.05"/>
<rect x="262.0" y="1036.7" width="4" height="51.299999999999955" fill="#fff" fill-opacity="0.05"/>
<rect x="283.0" y="1036.7" width="4" height="51.299999999999955" fill="#fff" fill-opacity="0.05"/>
<rect x="308.0" y="1036.7" width="4" height="51.299999999999955" fill="#fff" fill-opacity="0.05"/>
<rect x="331.5" y="1036.7" width="4" height="51.299999999999955" fill="#fff" fill-opacity="0.05"/>
<rect x="354.0" y="1036.7" width="4" height="51.299999999999955" fill="#fff" fill-opacity="0.05"/>
</g>
<ellipse cx="104.7" cy="1044.4" rx="5.0" ry="1.5" fill="#8a9ad0" filter="url(#blur1)"/>
<ellipse cx="104" cy="1063" rx="6.0" ry="2.0" fill="#c0a0a8" filter="url(#blur1)"/>
<rect x="120.6" y="1057.0" width="15.0" height="7.0" rx="2.4" fill="#000" fill-opacity="1.00" filter="url(#blur1)"/>
<rect x="141.3" y="1057.0" width="15.0" height="7.0" rx="2.4" fill="#000" fill-opacity="1.00" filter="url(#blur1)"/>
<rect x="162.7" y="1058.3" width="15.0" height="5.0" rx="1.8" fill="#000" fill-opacity="0.50" filter="url(#blur1)"/>
<rect x="185.3" y="1058.8" width="14.0" height="4.0" rx="1.4" fill="#000" fill-opacity="0.22" filter="url(#blur1)"/>
<rect x="204.8" y="1058.8" width="15.0" height="4.0" rx="1.4" fill="#000" fill-opacity="0.38" filter="url(#blur1)"/>
<rect x="227.8" y="1058.8" width="15.0" height="4.0" rx="1.4" fill="#000" fill-opacity="0.45" filter="url(#blur1)"/>
<rect x="247.0" y="1058.8" width="14.0" height="4.0" rx="1.4" fill="#000" fill-opacity="0.30" filter="url(#blur1)"/>
<rect x="267.1" y="1058.8" width="14.0" height="4.0" rx="1.4" fill="#000" fill-opacity="0.35" filter="url(#blur1)"/>
<rect x="286.0" y="1055.5" width="23.0" height="10.0" rx="3.5" fill="#000" fill-opacity="1.00" filter="url(#blur1)"/>
<rect x="314.2" y="1056.8" width="16.0" height="7.0" rx="2.4" fill="#000" fill-opacity="1.00" filter="url(#blur1)"/>
<rect x="335.0" y="1056.3" width="20.0" height="8.0" rx="2.8" fill="#000" fill-opacity="1.00" filter="url(#blur1)"/>
<rect x="359.9" y="1058.3" width="13.0" height="4.0" rx="1.4" fill="#000" fill-opacity="0.90" filter="url(#blur1)"/>
</g>
<rect x="94.1" y="1040.2" width="281.70000000000005" height="44.299999999999955" fill="none" stroke="#555" stroke-opacity="0.5" stroke-width="1"/>
<text x="79.4" y="1045.5" font-size="14.5" text-anchor="end">100 kDa</text>
<text x="79.4" y="1066.5" font-size="14.5" text-anchor="end">75 kDa</text>
<text x="80.5" y="1114.0" font-size="17">ZT:</text>
<text x="138.5" y="1114.0" font-size="17" text-anchor="middle">0/24</text>
<text x="181.6" y="1114.0" font-size="17" text-anchor="middle">4</text>
<text x="225.8" y="1114.0" font-size="17" text-anchor="middle">8</text>
<text x="261.0" y="1114.0" font-size="17" text-anchor="middle">12</text>
<text x="310.0" y="1114.0" font-size="17" text-anchor="middle">16</text>
<text x="353.8" y="1114.0" font-size="17" text-anchor="middle">20</text>
<line x1="119.0" y1="1092.6" x2="155.4" y2="1092.6" stroke="#333" stroke-width="1.4"/>
<line x1="162.0" y1="1092.6" x2="199.6" y2="1092.6" stroke="#333" stroke-width="1.4"/>
<line x1="204.8" y1="1092.6" x2="242.2" y2="1092.6" stroke="#333" stroke-width="1.4"/>
<line x1="247.8" y1="1092.6" x2="282.7" y2="1092.6" stroke="#333" stroke-width="1.4"/>
<line x1="287.5" y1="1092.6" x2="325.0" y2="1092.6" stroke="#333" stroke-width="1.4"/>
<line x1="331.3" y1="1092.6" x2="371.8" y2="1092.6" stroke="#333" stroke-width="1.4"/>
<line x1="113.1" y1="1191.5" x2="113.1" y2="1346.0" stroke="#000" stroke-width="2"/>
<line x1="107.1" y1="1345.3" x2="114.1" y2="1345.3" stroke="#000" stroke-width="2"/>
<text x="103.1" y="1350.3" font-size="15.3" text-anchor="end">-5</text>
<line x1="107.1" y1="1306.8" x2="114.1" y2="1306.8" stroke="#000" stroke-width="2"/>
<text x="103.1" y="1311.8" font-size="15.3" text-anchor="end">0</text>
<line x1="107.1" y1="1268.3" x2="114.1" y2="1268.3" stroke="#000" stroke-width="2"/>
<text x="103.1" y="1273.3" font-size="15.3" text-anchor="end">5</text>
<line x1="107.1" y1="1229.8" x2="114.1" y2="1229.8" stroke="#000" stroke-width="2"/>
<text x="103.1" y="1234.8" font-size="15.3" text-anchor="end">10</text>
<line x1="107.1" y1="1191.3" x2="114.1" y2="1191.3" stroke="#000" stroke-width="2"/>
<text x="103.1" y="1196.3" font-size="15.3" text-anchor="end">15</text>
<text transform="translate(78.5,1268.0) rotate(-90)" font-size="15" font-weight="bold" text-anchor="middle">MTTP (AU)</text>
<rect x="129.8" y="1359.8" width="122.6" height="5.7" fill="#fff" stroke="#000" stroke-width="1.5"/>
<rect x="252.4" y="1359.8" width="127.0" height="5.7" fill="#000" stroke="#000" stroke-width="1.5"/>
<line x1="128.8" y1="1369.4" x2="380.4" y2="1369.4" stroke="#000" stroke-width="2"/>
<line x1="129.8" y1="1369.4" x2="129.8" y2="1375.9" stroke="#000" stroke-width="2"/>
<text x="129.8" y="1393.4" font-size="15" text-anchor="middle">0</text>
<line x1="171.4" y1="1369.4" x2="171.4" y2="1375.9" stroke="#000" stroke-width="2"/>
<text x="171.4" y="1393.4" font-size="15" text-anchor="middle">4</text>
<line x1="213.0" y1="1369.4" x2="213.0" y2="1375.9" stroke="#000" stroke-width="2"/>
<text x="213.0" y="1393.4" font-size="15" text-anchor="middle">8</text>
<line x1="254.6" y1="1369.4" x2="254.6" y2="1375.9" stroke="#000" stroke-width="2"/>
<text x="254.6" y="1393.4" font-size="15" text-anchor="middle">12</text>
<line x1="296.2" y1="1369.4" x2="296.2" y2="1375.9" stroke="#000" stroke-width="2"/>
<text x="296.2" y="1393.4" font-size="15" text-anchor="middle">16</text>
<line x1="337.8" y1="1369.4" x2="337.8" y2="1375.9" stroke="#000" stroke-width="2"/>
<text x="337.8" y="1393.4" font-size="15" text-anchor="middle">20</text>
<line x1="379.4" y1="1369.4" x2="379.4" y2="1375.9" stroke="#000" stroke-width="2"/>
<text x="379.4" y="1393.4" font-size="15" text-anchor="middle">24</text>
<text x="254.6" y="1415.9" font-size="15" text-anchor="middle">ZT</text>
<polyline points="129.8,1271.0 130.8,1271.8 131.9,1272.6 132.9,1273.4 134.0,1274.2 135.0,1275.1 136.0,1275.9 137.1,1276.7 138.1,1277.5 139.2,1278.4 140.2,1279.2 141.2,1280.0 142.3,1280.8 143.3,1281.7 144.4,1282.5 145.4,1283.3 146.4,1284.1 147.5,1284.9 148.5,1285.7 149.6,1286.5 150.6,1287.3 151.6,1288.1 152.7,1288.9 153.7,1289.6 154.8,1290.4 155.8,1291.1 156.8,1291.9 157.9,1292.6 158.9,1293.3 160.0,1294.0 161.0,1294.7 162.0,1295.4 163.1,1296.1 164.1,1296.8 165.2,1297.4 166.2,1298.0 167.2,1298.7 168.3,1299.3 169.3,1299.9 170.4,1300.4 171.4,1301.0 172.4,1301.5 173.5,1302.1 174.5,1302.6 175.6,1303.1 176.6,1303.6 177.6,1304.0 178.7,1304.5 179.7,1304.9 180.8,1305.3 181.8,1305.7 182.8,1306.0 183.9,1306.4 184.9,1306.7 186.0,1307.0 187.0,1307.3 188.0,1307.6 189.1,1307.8 190.1,1308.0 191.2,1308.2 192.2,1308.4 193.2,1308.6 194.3,1308.7 195.3,1308.8 196.4,1308.9 197.4,1309.0 198.4,1309.1 199.5,1309.1 200.5,1309.1 201.6,1309.1 202.6,1309.1 203.6,1309.0 204.7,1308.9 205.7,1308.8 206.8,1308.7 207.8,1308.6 208.8,1308.4 209.9,1308.2 210.9,1308.0 212.0,1307.8 213.0,1307.6 214.0,1307.3 215.1,1307.0 216.1,1306.7 217.2,1306.4 218.2,1306.0 219.2,1305.7 220.3,1305.3 221.3,1304.9 222.4,1304.5 223.4,1304.0 224.4,1303.6 225.5,1303.1 226.5,1302.6 227.6,1302.1 228.6,1301.5 229.6,1301.0 230.7,1300.4 231.7,1299.9 232.8,1299.3 233.8,1298.7 234.8,1298.0 235.9,1297.4 236.9,1296.8 238.0,1296.1 239.0,1295.4 240.0,1294.7 241.1,1294.0 242.1,1293.3 243.2,1292.6 244.2,1291.9 245.2,1291.1 246.3,1290.4 247.3,1289.6 248.4,1288.9 249.4,1288.1 250.4,1287.3 251.5,1286.5 252.5,1285.7 253.6,1284.9 254.6,1284.1 255.6,1283.3 256.7,1282.5 257.7,1281.7 258.8,1280.8 259.8,1280.0 260.8,1279.2 261.9,1278.4 262.9,1277.5 264.0,1276.7 265.0,1275.9 266.0,1275.1 267.1,1274.2 268.1,1273.4 269.2,1272.6 270.2,1271.8 271.2,1271.0 272.3,1270.2 273.3,1269.4 274.4,1268.6 275.4,1267.8 276.4,1267.0 277.5,1266.2 278.5,1265.5 279.6,1264.7 280.6,1263.9 281.6,1263.2 282.7,1262.5 283.7,1261.8 284.8,1261.0 285.8,1260.3 286.8,1259.7 287.9,1259.0 288.9,1258.3 290.0,1257.7 291.0,1257.0 292.0,1256.4 293.1,1255.8 294.1,1255.2 295.2,1254.6 296.2,1254.1 297.2,1253.5 298.3,1253.0 299.3,1252.5 300.4,1252.0 301.4,1251.5 302.4,1251.1 303.5,1250.6 304.5,1250.2 305.6,1249.8 306.6,1249.4 307.6,1249.0 308.7,1248.7 309.7,1248.4 310.8,1248.1 311.8,1247.8 312.8,1247.5 313.9,1247.3 314.9,1247.0 316.0,1246.8 317.0,1246.7 318.0,1246.5 319.1,1246.4 320.1,1246.2 321.2,1246.1 322.2,1246.1 323.2,1246.0 324.3,1246.0 325.3,1246.0 326.4,1246.0 327.4,1246.0 328.4,1246.1 329.5,1246.1 330.5,1246.2 331.6,1246.4 332.6,1246.5 333.6,1246.7 334.7,1246.8 335.7,1247.0 336.8,1247.3 337.8,1247.5 338.8,1247.8 339.9,1248.1 340.9,1248.4 342.0,1248.7 343.0,1249.0 344.0,1249.4 345.1,1249.8 346.1,1250.2 347.2,1250.6 348.2,1251.1 349.2,1251.5 350.3,1252.0 351.3,1252.5 352.4,1253.0 353.4,1253.5 354.4,1254.1 355.5,1254.6 356.5,1255.2 357.6,1255.8 358.6,1256.4 359.6,1257.0 360.7,1257.7 361.7,1258.3 362.8,1259.0 363.8,1259.7 364.8,1260.3 365.9,1261.0 366.9,1261.8 368.0,1262.5 369.0,1263.2 370.0,1263.9 371.1,1264.7 372.1,1265.5 373.2,1266.2 374.2,1267.0 375.2,1267.8 376.3,1268.6 377.3,1269.4 378.4,1270.2 379.4,1271.0" fill="none" stroke="#333" stroke-width="1.4"/>
<polyline points="129.8,1281.7 130.8,1282.1 131.9,1282.5 132.9,1282.9 134.0,1283.3 135.0,1283.7 136.0,1284.2 137.1,1284.6 138.1,1285.0 139.2,1285.5 140.2,1285.9 141.2,1286.3 142.3,1286.8 143.3,1287.2 144.4,1287.6 145.4,1288.1 146.4,1288.5 147.5,1289.0 148.5,1289.4 149.6,1289.8 150.6,1290.3 151.6,1290.7 152.7,1291.1 153.7,1291.6 154.8,1292.0 155.8,1292.4 156.8,1292.9 157.9,1293.3 158.9,1293.7 160.0,1294.1 161.0,1294.5 162.0,1294.9 163.1,1295.3 164.1,1295.7 165.2,1296.1 166.2,1296.5 167.2,1296.9 168.3,1297.2 169.3,1297.6 170.4,1298.0 171.4,1298.3 172.4,1298.7 173.5,1299.0 174.5,1299.3 175.6,1299.6 176.6,1300.0 177.6,1300.3 178.7,1300.6 179.7,1300.9 180.8,1301.1 181.8,1301.4 182.8,1301.7 183.9,1301.9 184.9,1302.2 186.0,1302.4 187.0,1302.6 188.0,1302.8 189.1,1303.0 190.1,1303.2 191.2,1303.4 192.2,1303.6 193.2,1303.8 194.3,1303.9 195.3,1304.1 196.4,1304.2 197.4,1304.3 198.4,1304.4 199.5,1304.5 200.5,1304.6 201.6,1304.7 202.6,1304.7 203.6,1304.8 204.7,1304.8 205.7,1304.9 206.8,1304.9 207.8,1304.9 208.8,1304.9 209.9,1304.9 210.9,1304.8 212.0,1304.8 213.0,1304.7 214.0,1304.7 215.1,1304.6 216.1,1304.5 217.2,1304.4 218.2,1304.3 219.2,1304.2 220.3,1304.1 221.3,1303.9 222.4,1303.8 223.4,1303.6 224.4,1303.4 225.5,1303.2 226.5,1303.0 227.6,1302.8 228.6,1302.6 229.6,1302.4 230.7,1302.2 231.7,1301.9 232.8,1301.7 233.8,1301.4 234.8,1301.1 235.9,1300.9 236.9,1300.6 238.0,1300.3 239.0,1300.0 240.0,1299.6 241.1,1299.3 242.1,1299.0 243.2,1298.7 244.2,1298.3 245.2,1298.0 246.3,1297.6 247.3,1297.2 248.4,1296.9 249.4,1296.5 250.4,1296.1 251.5,1295.7 252.5,1295.3 253.6,1294.9 254.6,1294.5 255.6,1294.1 256.7,1293.7 257.7,1293.3 258.8,1292.9 259.8,1292.4 260.8,1292.0 261.9,1291.6 262.9,1291.1 264.0,1290.7 265.0,1290.3 266.0,1289.8 267.1,1289.4 268.1,1289.0 269.2,1288.5 270.2,1288.1 271.2,1287.6 272.3,1287.2 273.3,1286.8 274.4,1286.3 275.4,1285.9 276.4,1285.5 277.5,1285.0 278.5,1284.6 279.6,1284.2 280.6,1283.7 281.6,1283.3 282.7,1282.9 283.7,1282.5 284.8,1282.1 285.8,1281.7 286.8,1281.3 287.9,1280.9 288.9,1280.5 290.0,1280.1 291.0,1279.7 292.0,1279.3 293.1,1278.9 294.1,1278.6 295.2,1278.2 296.2,1277.9 297.2,1277.5 298.3,1277.2 299.3,1276.9 300.4,1276.5 301.4,1276.2 302.4,1275.9 303.5,1275.6 304.5,1275.3 305.6,1275.0 306.6,1274.8 307.6,1274.5 308.7,1274.3 309.7,1274.0 310.8,1273.8 311.8,1273.6 312.8,1273.3 313.9,1273.1 314.9,1272.9 316.0,1272.8 317.0,1272.6 318.0,1272.4 319.1,1272.3 320.1,1272.1 321.2,1272.0 322.2,1271.9 323.2,1271.8 324.3,1271.7 325.3,1271.6 326.4,1271.5 327.4,1271.4 328.4,1271.4 329.5,1271.4 330.5,1271.3 331.6,1271.3 332.6,1271.3 333.6,1271.3 334.7,1271.3 335.7,1271.4 336.8,1271.4 337.8,1271.4 338.8,1271.5 339.9,1271.6 340.9,1271.7 342.0,1271.8 343.0,1271.9 344.0,1272.0 345.1,1272.1 346.1,1272.3 347.2,1272.4 348.2,1272.6 349.2,1272.8 350.3,1272.9 351.3,1273.1 352.4,1273.3 353.4,1273.6 354.4,1273.8 355.5,1274.0 356.5,1274.3 357.6,1274.5 358.6,1274.8 359.6,1275.0 360.7,1275.3 361.7,1275.6 362.8,1275.9 363.8,1276.2 364.8,1276.5 365.9,1276.9 366.9,1277.2 368.0,1277.5 369.0,1277.9 370.0,1278.2 371.1,1278.6 372.1,1278.9 373.2,1279.3 374.2,1279.7 375.2,1280.1 376.3,1280.5 377.3,1280.9 378.4,1281.3 379.4,1281.7" fill="none" stroke="#e8674f" stroke-width="1.4"/>
<line x1="129.8" y1="1281.4" x2="129.8" y2="1278.3" stroke="#e8674f" stroke-width="1.3"/>
<line x1="125.8" y1="1281.4" x2="133.8" y2="1281.4" stroke="#e8674f" stroke-width="1.3"/>
<line x1="125.8" y1="1278.3" x2="133.8" y2="1278.3" stroke="#e8674f" stroke-width="1.3"/>
<line x1="171.4" y1="1305.6" x2="171.4" y2="1302.6" stroke="#e8674f" stroke-width="1.3"/>
<line x1="167.4" y1="1305.6" x2="175.4" y2="1305.6" stroke="#e8674f" stroke-width="1.3"/>
<line x1="167.4" y1="1302.6" x2="175.4" y2="1302.6" stroke="#e8674f" stroke-width="1.3"/>
<line x1="213.0" y1="1300.6" x2="213.0" y2="1296.0" stroke="#e8674f" stroke-width="1.3"/>
<line x1="209.0" y1="1300.6" x2="217.0" y2="1300.6" stroke="#e8674f" stroke-width="1.3"/>
<line x1="209.0" y1="1296.0" x2="217.0" y2="1296.0" stroke="#e8674f" stroke-width="1.3"/>
<line x1="254.6" y1="1301.4" x2="254.6" y2="1295.2" stroke="#e8674f" stroke-width="1.3"/>
<line x1="250.6" y1="1301.4" x2="258.6" y2="1301.4" stroke="#e8674f" stroke-width="1.3"/>
<line x1="250.6" y1="1295.2" x2="258.6" y2="1295.2" stroke="#e8674f" stroke-width="1.3"/>
<line x1="296.2" y1="1280.6" x2="296.2" y2="1266.8" stroke="#e8674f" stroke-width="1.3"/>
<line x1="292.2" y1="1280.6" x2="300.2" y2="1280.6" stroke="#e8674f" stroke-width="1.3"/>
<line x1="292.2" y1="1266.8" x2="300.2" y2="1266.8" stroke="#e8674f" stroke-width="1.3"/>
<line x1="337.8" y1="1277.5" x2="337.8" y2="1272.9" stroke="#e8674f" stroke-width="1.3"/>
<line x1="333.8" y1="1277.5" x2="341.8" y2="1277.5" stroke="#e8674f" stroke-width="1.3"/>
<line x1="333.8" y1="1272.9" x2="341.8" y2="1272.9" stroke="#e8674f" stroke-width="1.3"/>
<line x1="379.4" y1="1281.4" x2="379.4" y2="1278.3" stroke="#e8674f" stroke-width="1.3"/>
<line x1="375.4" y1="1281.4" x2="383.4" y2="1281.4" stroke="#e8674f" stroke-width="1.3"/>
<line x1="375.4" y1="1278.3" x2="383.4" y2="1278.3" stroke="#e8674f" stroke-width="1.3"/>
<rect x="126.5" y="1276.5" width="6.6" height="6.6" fill="#e0301e"/>
<rect x="168.1" y="1300.8" width="6.6" height="6.6" fill="#e0301e"/>
<rect x="209.7" y="1295.0" width="6.6" height="6.6" fill="#e0301e"/>
<rect x="251.3" y="1295.0" width="6.6" height="6.6" fill="#e0301e"/>
<rect x="292.9" y="1270.4" width="6.6" height="6.6" fill="#e0301e"/>
<rect x="334.5" y="1271.9" width="6.6" height="6.6" fill="#e0301e"/>
<rect x="376.1" y="1276.5" width="6.6" height="6.6" fill="#e0301e"/>
<line x1="129.8" y1="1276.8" x2="129.8" y2="1272.1" stroke="#333" stroke-width="1.3"/>
<line x1="125.8" y1="1276.8" x2="133.8" y2="1276.8" stroke="#333" stroke-width="1.3"/>
<line x1="125.8" y1="1272.1" x2="133.8" y2="1272.1" stroke="#333" stroke-width="1.3"/>
<line x1="171.4" y1="1303.3" x2="171.4" y2="1300.3" stroke="#333" stroke-width="1.3"/>
<line x1="167.4" y1="1303.3" x2="175.4" y2="1303.3" stroke="#333" stroke-width="1.3"/>
<line x1="167.4" y1="1300.3" x2="175.4" y2="1300.3" stroke="#333" stroke-width="1.3"/>
<line x1="213.0" y1="1301.4" x2="213.0" y2="1296.8" stroke="#333" stroke-width="1.3"/>
<line x1="209.0" y1="1301.4" x2="217.0" y2="1301.4" stroke="#333" stroke-width="1.3"/>
<line x1="209.0" y1="1296.8" x2="217.0" y2="1296.8" stroke="#333" stroke-width="1.3"/>
<line x1="254.6" y1="1299.1" x2="254.6" y2="1286.8" stroke="#333" stroke-width="1.3"/>
<line x1="250.6" y1="1299.1" x2="258.6" y2="1299.1" stroke="#333" stroke-width="1.3"/>
<line x1="250.6" y1="1286.8" x2="258.6" y2="1286.8" stroke="#333" stroke-width="1.3"/>
<line x1="296.2" y1="1269.8" x2="296.2" y2="1242.1" stroke="#333" stroke-width="1.3"/>
<line x1="292.2" y1="1269.8" x2="300.2" y2="1269.8" stroke="#333" stroke-width="1.3"/>
<line x1="292.2" y1="1242.1" x2="300.2" y2="1242.1" stroke="#333" stroke-width="1.3"/>
<line x1="337.8" y1="1250.6" x2="337.8" y2="1226.0" stroke="#333" stroke-width="1.3"/>
<line x1="333.8" y1="1250.6" x2="341.8" y2="1250.6" stroke="#333" stroke-width="1.3"/>
<line x1="333.8" y1="1226.0" x2="341.8" y2="1226.0" stroke="#333" stroke-width="1.3"/>
<line x1="379.4" y1="1276.8" x2="379.4" y2="1272.1" stroke="#333" stroke-width="1.3"/>
<line x1="375.4" y1="1276.8" x2="383.4" y2="1276.8" stroke="#333" stroke-width="1.3"/>
<line x1="375.4" y1="1272.1" x2="383.4" y2="1272.1" stroke="#333" stroke-width="1.3"/>
<circle cx="129.8" cy="1274.5" r="3.6" fill="#000"/>
<circle cx="171.4" cy="1301.8" r="3.6" fill="#000"/>
<circle cx="213.0" cy="1299.1" r="3.6" fill="#000"/>
<circle cx="254.6" cy="1292.9" r="3.6" fill="#000"/>
<circle cx="296.2" cy="1256.0" r="3.6" fill="#000"/>
<circle cx="337.8" cy="1238.3" r="3.6" fill="#000"/>
<circle cx="379.4" cy="1274.5" r="3.6" fill="#000"/>
<text x="337.8" y="1225.0" font-size="17" text-anchor="middle" fill="#333">**</text>
<text x="119.6" y="1162.5" font-size="14.15"><tspan font-style="italic">P</tspan>&lt;0.001 for time and treatment main effects</text>
<text x="453.7" y="994.0" font-size="35">C) ii</text>
<circle cx="661.7" cy="1213.9" r="29.20" fill="none" stroke="#ebebeb" stroke-width="1.7"/>
<circle cx="661.7" cy="1213.9" r="58.40" fill="none" stroke="#ebebeb" stroke-width="1.7"/>
<circle cx="661.7" cy="1213.9" r="87.60" fill="none" stroke="#ebebeb" stroke-width="1.7"/>
<circle cx="661.7" cy="1213.9" r="116.80" fill="none" stroke="#ebebeb" stroke-width="1.7"/>
<circle cx="661.7" cy="1213.9" r="137.60" fill="none" stroke="#ebebeb" stroke-width="1.7"/>
<line x1="661.7" y1="1213.9" x2="679.66" y2="1077.48" stroke="#ebebeb" stroke-width="1.5"/>
<line x1="661.7" y1="1213.9" x2="714.36" y2="1086.77" stroke="#ebebeb" stroke-width="1.5"/>
<line x1="661.7" y1="1213.9" x2="745.47" y2="1104.73" stroke="#ebebeb" stroke-width="1.5"/>
<line x1="661.7" y1="1213.9" x2="770.87" y2="1130.13" stroke="#ebebeb" stroke-width="1.5"/>
<line x1="661.7" y1="1213.9" x2="788.83" y2="1161.24" stroke="#ebebeb" stroke-width="1.5"/>
<line x1="661.7" y1="1213.9" x2="798.12" y2="1195.94" stroke="#ebebeb" stroke-width="1.5"/>
<line x1="661.7" y1="1213.9" x2="798.12" y2="1231.86" stroke="#ebebeb" stroke-width="1.5"/>
<line x1="661.7" y1="1213.9" x2="788.83" y2="1266.56" stroke="#ebebeb" stroke-width="1.5"/>
<line x1="661.7" y1="1213.9" x2="770.87" y2="1297.67" stroke="#ebebeb" stroke-width="1.5"/>
<line x1="661.7" y1="1213.9" x2="745.47" y2="1323.07" stroke="#ebebeb" stroke-width="1.5"/>
<line x1="661.7" y1="1213.9" x2="714.36" y2="1341.03" stroke="#ebebeb" stroke-width="1.5"/>
<line x1="661.7" y1="1213.9" x2="679.66" y2="1350.32" stroke="#ebebeb" stroke-width="1.5"/>
<line x1="661.7" y1="1213.9" x2="643.74" y2="1350.32" stroke="#ebebeb" stroke-width="1.5"/>
<line x1="661.7" y1="1213.9" x2="609.04" y2="1341.03" stroke="#ebebeb" stroke-width="1.5"/>
<line x1="661.7" y1="1213.9" x2="577.93" y2="1323.07" stroke="#ebebeb" stroke-width="1.5"/>
<line x1="661.7" y1="1213.9" x2="552.53" y2="1297.67" stroke="#ebebeb" stroke-width="1.5"/>
<line x1="661.7" y1="1213.9" x2="534.57" y2="1266.56" stroke="#ebebeb" stroke-width="1.5"/>
<line x1="661.7" y1="1213.9" x2="525.28" y2="1231.86" stroke="#ebebeb" stroke-width="1.5"/>
<line x1="661.7" y1="1213.9" x2="525.28" y2="1195.94" stroke="#ebebeb" stroke-width="1.5"/>
<line x1="661.7" y1="1213.9" x2="534.57" y2="1161.24" stroke="#ebebeb" stroke-width="1.5"/>
<line x1="661.7" y1="1213.9" x2="552.53" y2="1130.13" stroke="#ebebeb" stroke-width="1.5"/>
<line x1="661.7" y1="1213.9" x2="577.93" y2="1104.73" stroke="#ebebeb" stroke-width="1.5"/>
<line x1="661.7" y1="1213.9" x2="609.04" y2="1086.77" stroke="#ebebeb" stroke-width="1.5"/>
<line x1="661.7" y1="1213.9" x2="643.74" y2="1077.48" stroke="#ebebeb" stroke-width="1.5"/>
<text x="679.7" y="1083.5" font-size="17.5" text-anchor="middle" fill="#4d4d4d" stroke="#fff" stroke-width="5" paint-order="stroke">0</text>
<text x="714.4" y="1092.8" font-size="17.5" text-anchor="middle" fill="#4d4d4d" stroke="#fff" stroke-width="5" paint-order="stroke">1</text>
<text x="745.5" y="1110.7" font-size="17.5" text-anchor="middle" fill="#4d4d4d" stroke="#fff" stroke-width="5" paint-order="stroke">2</text>
<text x="770.9" y="1136.1" font-size="17.5" text-anchor="middle" fill="#4d4d4d" stroke="#fff" stroke-width="5" paint-order="stroke">3</text>
<text x="788.8" y="1167.2" font-size="17.5" text-anchor="middle" fill="#4d4d4d" stroke="#fff" stroke-width="5" paint-order="stroke">4</text>
<text x="798.1" y="1201.9" font-size="17.5" text-anchor="middle" fill="#4d4d4d" stroke="#fff" stroke-width="5" paint-order="stroke">5</text>
<text x="798.1" y="1237.9" font-size="17.5" text-anchor="middle" fill="#4d4d4d" stroke="#fff" stroke-width="5" paint-order="stroke">6</text>
<text x="788.8" y="1272.6" font-size="17.5" text-anchor="middle" fill="#4d4d4d" stroke="#fff" stroke-width="5" paint-order="stroke">7</text>
<text x="770.9" y="1303.7" font-size="17.5" text-anchor="middle" fill="#4d4d4d" stroke="#fff" stroke-width="5" paint-order="stroke">8</text>
<text x="745.5" y="1329.1" font-size="17.5" text-anchor="middle" fill="#4d4d4d" stroke="#fff" stroke-width="5" paint-order="stroke">9</text>
<text x="714.4" y="1347.0" font-size="17.5" text-anchor="middle" fill="#4d4d4d" stroke="#fff" stroke-width="5" paint-order="stroke">10</text>
<text x="679.7" y="1356.3" font-size="17.5" text-anchor="middle" fill="#4d4d4d" stroke="#fff" stroke-width="5" paint-order="stroke">11</text>
<text x="643.7" y="1356.3" font-size="17.5" text-anchor="middle" fill="#4d4d4d" stroke="#fff" stroke-width="5" paint-order="stroke">12</text>
<text x="609.0" y="1347.0" font-size="17.5" text-anchor="middle" fill="#4d4d4d" stroke="#fff" stroke-width="5" paint-order="stroke">13</text>
<text x="577.9" y="1329.1" font-size="17.5" text-anchor="middle" fill="#4d4d4d" stroke="#fff" stroke-width="5" paint-order="stroke">14</text>
<text x="552.5" y="1303.7" font-size="17.5" text-anchor="middle" fill="#4d4d4d" stroke="#fff" stroke-width="5" paint-order="stroke">15</text>
<text x="534.6" y="1272.6" font-size="17.5" text-anchor="middle" fill="#4d4d4d" stroke="#fff" stroke-width="5" paint-order="stroke">16</text>
<text x="525.3" y="1237.9" font-size="17.5" text-anchor="middle" fill="#4d4d4d" stroke="#fff" stroke-width="5" paint-order="stroke">17</text>
<text x="525.3" y="1201.9" font-size="17.5" text-anchor="middle" fill="#4d4d4d" stroke="#fff" stroke-width="5" paint-order="stroke">18</text>
<text x="534.6" y="1167.2" font-size="17.5" text-anchor="middle" fill="#4d4d4d" stroke="#fff" stroke-width="5" paint-order="stroke">19</text>
<text x="552.5" y="1136.1" font-size="17.5" text-anchor="middle" fill="#4d4d4d" stroke="#fff" stroke-width="5" paint-order="stroke">20</text>
<text x="577.9" y="1110.7" font-size="17.5" text-anchor="middle" fill="#4d4d4d" stroke="#fff" stroke-width="5" paint-order="stroke">21</text>
<text x="609.0" y="1092.8" font-size="17.5" text-anchor="middle" fill="#4d4d4d" stroke="#fff" stroke-width="5" paint-order="stroke">22</text>
<text x="643.7" y="1083.5" font-size="17.5" text-anchor="middle" fill="#4d4d4d" stroke="#fff" stroke-width="5" paint-order="stroke">23</text>
<path d="M661.70,1213.90 L662.34,1165.18 A48.72,48.72 0 0 1 673.69,1166.68 Z" fill="#000"/>
<path d="M661.70,1213.90 L668.28,1210.22 A7.54,7.54 0 0 1 668.96,1211.85 Z" fill="#000"/>
<path d="M661.70,1213.90 L672.67,1220.42 A12.76,12.76 0 0 1 670.84,1222.80 Z" fill="#000"/>
<path d="M661.70,1213.90 L661.43,1234.78 A20.88,20.88 0 0 1 656.56,1234.14 Z" fill="#000"/>
<path d="M661.70,1213.90 L594.90,1251.31 A76.56,76.56 0 0 1 588.01,1234.68 Z" fill="#000"/>
<path d="M661.70,1213.90 L572.97,1161.11 A103.24,103.24 0 0 1 587.75,1141.86 Z" fill="#000"/>
<line x1="667.61" y1="1169.05" x2="668.51" y2="1162.15" stroke="#000" stroke-width="1.4"/>
<path d="M662.49,1168.67 A45.24,45.24 0 0 1 672.64,1170.00" fill="none" stroke="#000" stroke-width="1.4"/>
<path d="M662.61,1161.71 A52.20,52.20 0 0 1 674.33,1163.25" fill="none" stroke="#000" stroke-width="1.4"/>
<line x1="667.59" y1="1211.46" x2="669.74" y2="1210.57" stroke="#000" stroke-width="1.4"/>
<path d="M667.28,1210.81 A6.38,6.38 0 0 1 667.83,1212.14" fill="none" stroke="#000" stroke-width="1.4"/>
<path d="M669.31,1209.68 A8.70,8.70 0 0 1 670.06,1211.50" fill="none" stroke="#000" stroke-width="1.4"/>
<line x1="669.98" y1="1220.26" x2="673.66" y2="1223.08" stroke="#000" stroke-width="1.4"/>
<path d="M670.65,1219.28 A10.44,10.44 0 0 1 669.21,1221.15" fill="none" stroke="#000" stroke-width="1.4"/>
<path d="M674.63,1221.67 A15.08,15.08 0 0 1 672.55,1224.38" fill="none" stroke="#000" stroke-width="1.4"/>
<line x1="660.19" y1="1225.40" x2="657.76" y2="1243.80" stroke="#000" stroke-width="1.4"/>
<path d="M661.50,1225.50 A11.60,11.60 0 0 1 658.89,1225.16" fill="none" stroke="#000" stroke-width="1.4"/>
<path d="M661.17,1244.06 A30.16,30.16 0 0 1 654.40,1243.16" fill="none" stroke="#000" stroke-width="1.4"/>
<line x1="610.26" y1="1235.21" x2="571.68" y2="1251.19" stroke="#000" stroke-width="1.4"/>
<path d="M613.00,1240.89 A55.68,55.68 0 0 1 608.18,1229.25" fill="none" stroke="#000" stroke-width="1.4"/>
<path d="M576.48,1261.14 A97.44,97.44 0 0 1 568.03,1240.76" fill="none" stroke="#000" stroke-width="1.4"/>
<line x1="594.52" y1="1162.35" x2="565.07" y2="1139.75" stroke="#000" stroke-width="1.4"/>
<path d="M589.12,1170.29 A84.68,84.68 0 0 1 600.79,1155.08" fill="none" stroke="#000" stroke-width="1.4"/>
<path d="M557.30,1151.17 A121.80,121.80 0 0 1 574.08,1129.29" fill="none" stroke="#000" stroke-width="1.4"/>
<text x="661.7" y="1054.0" font-size="18" text-anchor="middle" fill="#1a1a1a">Control</text>
<text x="501.9" y="1103.1" font-size="17.5" text-anchor="end" fill="#4d4d4d">10.0</text>
<text x="501.9" y="1132.3" font-size="17.5" text-anchor="end" fill="#4d4d4d">7.5</text>
<text x="501.9" y="1161.5" font-size="17.5" text-anchor="end" fill="#4d4d4d">5.0</text>
<text x="501.9" y="1190.7" font-size="17.5" text-anchor="end" fill="#4d4d4d">2.5</text>
<text x="501.9" y="1219.9" font-size="17.5" text-anchor="end" fill="#4d4d4d">0.0</text>
<text transform="translate(463.0,1214.0) rotate(-90)" font-size="20.5" text-anchor="middle" fill="#1a1a1a">Relative expression</text>
<circle cx="974.5" cy="1213.7" r="29.20" fill="none" stroke="#ebebeb" stroke-width="1.7"/>
<circle cx="974.5" cy="1213.7" r="58.40" fill="none" stroke="#ebebeb" stroke-width="1.7"/>
<circle cx="974.5" cy="1213.7" r="87.60" fill="none" stroke="#ebebeb" stroke-width="1.7"/>
<circle cx="974.5" cy="1213.7" r="116.80" fill="none" stroke="#ebebeb" stroke-width="1.7"/>
<circle cx="974.5" cy="1213.7" r="137.40" fill="none" stroke="#ebebeb" stroke-width="1.7"/>
<line x1="974.5" y1="1213.7" x2="992.43" y2="1077.48" stroke="#ebebeb" stroke-width="1.5"/>
<line x1="974.5" y1="1213.7" x2="1027.08" y2="1086.76" stroke="#ebebeb" stroke-width="1.5"/>
<line x1="974.5" y1="1213.7" x2="1058.14" y2="1104.69" stroke="#ebebeb" stroke-width="1.5"/>
<line x1="974.5" y1="1213.7" x2="1083.51" y2="1130.06" stroke="#ebebeb" stroke-width="1.5"/>
<line x1="974.5" y1="1213.7" x2="1101.44" y2="1161.12" stroke="#ebebeb" stroke-width="1.5"/>
<line x1="974.5" y1="1213.7" x2="1110.72" y2="1195.77" stroke="#ebebeb" stroke-width="1.5"/>
<line x1="974.5" y1="1213.7" x2="1110.72" y2="1231.63" stroke="#ebebeb" stroke-width="1.5"/>
<line x1="974.5" y1="1213.7" x2="1101.44" y2="1266.28" stroke="#ebebeb" stroke-width="1.5"/>
<line x1="974.5" y1="1213.7" x2="1083.51" y2="1297.34" stroke="#ebebeb" stroke-width="1.5"/>
<line x1="974.5" y1="1213.7" x2="1058.14" y2="1322.71" stroke="#ebebeb" stroke-width="1.5"/>
<line x1="974.5" y1="1213.7" x2="1027.08" y2="1340.64" stroke="#ebebeb" stroke-width="1.5"/>
<line x1="974.5" y1="1213.7" x2="992.43" y2="1349.92" stroke="#ebebeb" stroke-width="1.5"/>
<line x1="974.5" y1="1213.7" x2="956.57" y2="1349.92" stroke="#ebebeb" stroke-width="1.5"/>
<line x1="974.5" y1="1213.7" x2="921.92" y2="1340.64" stroke="#ebebeb" stroke-width="1.5"/>
<line x1="974.5" y1="1213.7" x2="890.86" y2="1322.71" stroke="#ebebeb" stroke-width="1.5"/>
<line x1="974.5" y1="1213.7" x2="865.49" y2="1297.34" stroke="#ebebeb" stroke-width="1.5"/>
<line x1="974.5" y1="1213.7" x2="847.56" y2="1266.28" stroke="#ebebeb" stroke-width="1.5"/>
<line x1="974.5" y1="1213.7" x2="838.28" y2="1231.63" stroke="#ebebeb" stroke-width="1.5"/>
<line x1="974.5" y1="1213.7" x2="838.28" y2="1195.77" stroke="#ebebeb" stroke-width="1.5"/>
<line x1="974.5" y1="1213.7" x2="847.56" y2="1161.12" stroke="#ebebeb" stroke-width="1.5"/>
<line x1="974.5" y1="1213.7" x2="865.49" y2="1130.06" stroke="#ebebeb" stroke-width="1.5"/>
<line x1="974.5" y1="1213.7" x2="890.86" y2="1104.69" stroke="#ebebeb" stroke-width="1.5"/>
<line x1="974.5" y1="1213.7" x2="921.92" y2="1086.76" stroke="#ebebeb" stroke-width="1.5"/>
<line x1="974.5" y1="1213.7" x2="956.57" y2="1077.48" stroke="#ebebeb" stroke-width="1.5"/>
<text x="992.4" y="1083.5" font-size="17.5" text-anchor="middle" fill="#4d4d4d" stroke="#fff" stroke-width="5" paint-order="stroke">0</text>
<text x="1027.1" y="1092.8" font-size="17.5" text-anchor="middle" fill="#4d4d4d" stroke="#fff" stroke-width="5" paint-order="stroke">1</text>
<text x="1058.1" y="1110.7" font-size="17.5" text-anchor="middle" fill="#4d4d4d" stroke="#fff" stroke-width="5" paint-order="stroke">2</text>
<text x="1083.5" y="1136.1" font-size="17.5" text-anchor="middle" fill="#4d4d4d" stroke="#fff" stroke-width="5" paint-order="stroke">3</text>
<text x="1101.4" y="1167.1" font-size="17.5" text-anchor="middle" fill="#4d4d4d" stroke="#fff" stroke-width="5" paint-order="stroke">4</text>
<text x="1110.7" y="1201.8" font-size="17.5" text-anchor="middle" fill="#4d4d4d" stroke="#fff" stroke-width="5" paint-order="stroke">5</text>
<text x="1110.7" y="1237.6" font-size="17.5" text-anchor="middle" fill="#4d4d4d" stroke="#fff" stroke-width="5" paint-order="stroke">6</text>
<text x="1101.4" y="1272.3" font-size="17.5" text-anchor="middle" fill="#4d4d4d" stroke="#fff" stroke-width="5" paint-order="stroke">7</text>
<text x="1083.5" y="1303.3" font-size="17.5" text-anchor="middle" fill="#4d4d4d" stroke="#fff" stroke-width="5" paint-order="stroke">8</text>
<text x="1058.1" y="1328.7" font-size="17.5" text-anchor="middle" fill="#4d4d4d" stroke="#fff" stroke-width="5" paint-order="stroke">9</text>
<text x="1027.1" y="1346.6" font-size="17.5" text-anchor="middle" fill="#4d4d4d" stroke="#fff" stroke-width="5" paint-order="stroke">10</text>
<text x="992.4" y="1355.9" font-size="17.5" text-anchor="middle" fill="#4d4d4d" stroke="#fff" stroke-width="5" paint-order="stroke">11</text>
<text x="956.6" y="1355.9" font-size="17.5" text-anchor="middle" fill="#4d4d4d" stroke="#fff" stroke-width="5" paint-order="stroke">12</text>
<text x="921.9" y="1346.6" font-size="17.5" text-anchor="middle" fill="#4d4d4d" stroke="#fff" stroke-width="5" paint-order="stroke">13</text>
<text x="890.9" y="1328.7" font-size="17.5" text-anchor="middle" fill="#4d4d4d" stroke="#fff" stroke-width="5" paint-order="stroke">14</text>
<text x="865.5" y="1303.3" font-size="17.5" text-anchor="middle" fill="#4d4d4d" stroke="#fff" stroke-width="5" paint-order="stroke">15</text>
<text x="847.6" y="1272.3" font-size="17.5" text-anchor="middle" fill="#4d4d4d" stroke="#fff" stroke-width="5" paint-order="stroke">16</text>
<text x="838.3" y="1237.6" font-size="17.5" text-anchor="middle" fill="#4d4d4d" stroke="#fff" stroke-width="5" paint-order="stroke">17</text>
<text x="838.3" y="1201.8" font-size="17.5" text-anchor="middle" fill="#4d4d4d" stroke="#fff" stroke-width="5" paint-order="stroke">18</text>
<text x="847.6" y="1167.1" font-size="17.5" text-anchor="middle" fill="#4d4d4d" stroke="#fff" stroke-width="5" paint-order="stroke">19</text>
<text x="865.5" y="1136.1" font-size="17.5" text-anchor="middle" fill="#4d4d4d" stroke="#fff" stroke-width="5" paint-order="stroke">20</text>
<text x="890.9" y="1110.7" font-size="17.5" text-anchor="middle" fill="#4d4d4d" stroke="#fff" stroke-width="5" paint-order="stroke">21</text>
<text x="921.9" y="1092.8" font-size="17.5" text-anchor="middle" fill="#4d4d4d" stroke="#fff" stroke-width="5" paint-order="stroke">22</text>
<text x="956.6" y="1083.5" font-size="17.5" text-anchor="middle" fill="#4d4d4d" stroke="#fff" stroke-width="5" paint-order="stroke">23</text>
<path d="M974.50,1213.70 L975.02,1174.26 A39.44,39.44 0 0 1 984.21,1175.47 Z" fill="#d70000"/>
<path d="M974.50,1213.70 L977.54,1212.00 A3.48,3.48 0 0 1 977.85,1212.76 Z" fill="#d70000"/>
<path d="M974.50,1213.70 L985.47,1220.22 A12.76,12.76 0 0 1 983.64,1222.60 Z" fill="#d70000"/>
<path d="M974.50,1213.70 L974.35,1225.30 A11.60,11.60 0 0 1 971.64,1224.94 Z" fill="#d70000"/>
<path d="M974.50,1213.70 L929.97,1238.64 A51.04,51.04 0 0 1 925.38,1227.55 Z" fill="#d70000"/>
<path d="M974.50,1213.70 L931.63,1188.20 A49.88,49.88 0 0 1 938.77,1178.89 Z" fill="#d70000"/>
<line x1="979.19" y1="1178.05" x2="980.10" y2="1171.15" stroke="#000" stroke-width="1.4"/>
<path d="M975.13,1177.75 A35.96,35.96 0 0 1 983.20,1178.81" fill="none" stroke="#000" stroke-width="1.4"/>
<path d="M975.25,1170.79 A42.92,42.92 0 0 1 984.88,1172.05" fill="none" stroke="#000" stroke-width="1.4"/>
<line x1="975.57" y1="1213.26" x2="979.86" y2="1211.48" stroke="#000" stroke-width="1.4"/>
<path d="M975.51,1213.14 A1.16,1.16 0 0 1 975.62,1213.38" fill="none" stroke="#000" stroke-width="1.4"/>
<path d="M979.57,1210.89 A5.80,5.80 0 0 1 980.08,1212.10" fill="none" stroke="#000" stroke-width="1.4"/>
<line x1="980.02" y1="1217.94" x2="989.22" y2="1225.00" stroke="#000" stroke-width="1.4"/>
<path d="M980.47,1217.28 A6.96,6.96 0 0 1 979.51,1218.53" fill="none" stroke="#000" stroke-width="1.4"/>
<path d="M990.41,1223.26 A18.56,18.56 0 0 1 987.85,1226.59" fill="none" stroke="#000" stroke-width="1.4"/>
<line x1="973.14" y1="1224.05" x2="972.83" y2="1226.35" stroke="#000" stroke-width="1.4"/>
<path d="M974.32,1224.14 A10.44,10.44 0 0 1 971.97,1223.83" fill="none" stroke="#000" stroke-width="1.4"/>
<path d="M974.28,1226.46 A12.76,12.76 0 0 1 971.41,1226.08" fill="none" stroke="#000" stroke-width="1.4"/>
<line x1="935.92" y1="1229.68" x2="918.77" y2="1236.78" stroke="#000" stroke-width="1.4"/>
<path d="M937.98,1233.95 A41.76,41.76 0 0 1 934.36,1225.21" fill="none" stroke="#000" stroke-width="1.4"/>
<path d="M921.74,1242.94 A60.32,60.32 0 0 1 916.52,1230.33" fill="none" stroke="#000" stroke-width="1.4"/>
<line x1="938.61" y1="1186.16" x2="931.25" y2="1180.51" stroke="#000" stroke-width="1.4"/>
<path d="M935.72,1190.40 A45.24,45.24 0 0 1 941.96,1182.27" fill="none" stroke="#000" stroke-width="1.4"/>
<path d="M927.77,1185.62 A54.52,54.52 0 0 1 935.28,1175.83" fill="none" stroke="#000" stroke-width="1.4"/>
<text x="974.5" y="1053.0" font-size="18" text-anchor="middle" fill="#1a1a1a">Hypothyroid</text>
<text x="817.0" y="1394.0" font-size="22" text-anchor="middle">ZT</text>
<text x="6.5" y="1467.8" font-size="35">D) i</text>
<text x="226.5" y="1464.4" font-size="26.5" text-anchor="middle" font-weight="bold">CD36</text>
<text x="71.1" y="1502.3" font-size="17">Group:</text>
<text x="131.0" y="1502.3" font-size="17" text-anchor="middle">C</text>
<text x="151.6" y="1502.3" font-size="17" text-anchor="middle">H</text>
<text x="173.0" y="1502.3" font-size="17" text-anchor="middle">C</text>
<text x="199.6" y="1502.3" font-size="17" text-anchor="middle">H</text>
<text x="220.9" y="1502.3" font-size="17" text-anchor="middle">C</text>
<text x="245.2" y="1502.3" font-size="17" text-anchor="middle">H</text>
<text x="266.6" y="1502.3" font-size="17" text-anchor="middle">C</text>
<text x="292.8" y="1502.3" font-size="17" text-anchor="middle">H</text>
<text x="314.5" y="1502.3" font-size="17" text-anchor="middle">C</text>
<text x="338.8" y="1502.3" font-size="17" text-anchor="middle">H</text>
<text x="360.2" y="1502.3" font-size="17" text-anchor="middle">C</text>
<text x="68.1" y="1521.7" font-size="17" text-anchor="middle">H</text>
<clipPath id="b977"><rect x="94.3" y="1515" width="303.3" height="45.299999999999955"/></clipPath>
<g clip-path="url(#b977)">
<rect x="94.3" y="1515" width="303.3" height="45.299999999999955" fill="#989ba0"/>
<g filter="url(#blur1)">
<rect x="114.0" y="1512" width="6" height="51.299999999999955" fill="#fff" fill-opacity="0.12"/>
<rect x="138.5" y="1512" width="5" height="51.299999999999955" fill="#fff" fill-opacity="0.12"/>
<rect x="161.5" y="1512" width="5" height="51.299999999999955" fill="#fff" fill-opacity="0.12"/>
<rect x="186.1" y="1512" width="5" height="51.299999999999955" fill="#fff" fill-opacity="0.12"/>
<rect x="207.5" y="1512" width="5" height="51.299999999999955" fill="#fff" fill-opacity="0.12"/>
<rect x="230.3" y="1512" width="5" height="51.299999999999955" fill="#fff" fill-opacity="0.12"/>
<rect x="253.5" y="1512" width="5" height="51.299999999999955" fill="#fff" fill-opacity="0.12"/>
<rect x="277.5" y="1512" width="5" height="51.299999999999955" fill="#fff" fill-opacity="0.12"/>
<rect x="301.5" y="1512" width="5" height="51.299999999999955" fill="#fff" fill-opacity="0.12"/>
<rect x="324.5" y="1512" width="5" height="51.299999999999955" fill="#fff" fill-opacity="0.12"/>
<rect x="347.5" y="1512" width="5" height="51.299999999999955" fill="#fff" fill-opacity="0.12"/>
<rect x="371.5" y="1512" width="5" height="51.299999999999955" fill="#fff" fill-opacity="0.12"/>
</g>
<ellipse cx="103.6" cy="1530" rx="8.5" ry="3.5" fill="#cc6f78" filter="url(#blur1)"/>
<rect x="119.0" y="1521.0" width="19.0" height="20.0" rx="6.6" fill="#000" fill-opacity="0.50" filter="url(#blur3)"/>
<rect x="143.2" y="1522.0" width="19.0" height="20.0" rx="6.6" fill="#000" fill-opacity="0.42" filter="url(#blur3)"/>
<rect x="166.1" y="1521.0" width="19.0" height="18.0" rx="6.3" fill="#000" fill-opacity="0.66" filter="url(#blur3)"/>
<rect x="190.3" y="1522.0" width="19.0" height="18.0" rx="6.3" fill="#000" fill-opacity="0.60" filter="url(#blur3)"/>
<rect x="210.5" y="1521.0" width="20.0" height="24.0" rx="7.0" fill="#000" fill-opacity="1.00" filter="url(#blur3)"/>
<rect x="214.5" y="1527.0" width="12.0" height="14.0" rx="4.2" fill="#000" fill-opacity="0.60" filter="url(#blur2)"/>
<rect x="233.6" y="1524.0" width="18.0" height="16.0" rx="5.6" fill="#000" fill-opacity="0.36" filter="url(#blur3)"/>
<rect x="258.5" y="1521.0" width="20.0" height="22.0" rx="7.0" fill="#000" fill-opacity="1.00" filter="url(#blur3)"/>
<rect x="262.5" y="1527.0" width="12.0" height="12.0" rx="4.2" fill="#000" fill-opacity="0.60" filter="url(#blur2)"/>
<rect x="283.0" y="1525.0" width="18.0" height="20.0" rx="6.3" fill="#000" fill-opacity="0.50" filter="url(#blur3)"/>
<rect x="306.6" y="1523.0" width="18.0" height="16.0" rx="5.6" fill="#000" fill-opacity="0.36" filter="url(#blur3)"/>
<rect x="329.4" y="1522.5" width="18.0" height="17.0" rx="5.9" fill="#000" fill-opacity="0.50" filter="url(#blur3)"/>
<rect x="353.0" y="1522.0" width="18.0" height="16.0" rx="5.6" fill="#000" fill-opacity="0.46" filter="url(#blur3)"/>
<rect x="376.5" y="1523.0" width="18.0" height="16.0" rx="5.6" fill="#000" fill-opacity="0.30" filter="url(#blur3)"/>
</g>
<rect x="94.8" y="1515.5" width="302.3" height="44.299999999999955" fill="none" stroke="#555" stroke-opacity="0.5" stroke-width="1"/>
<text x="83.1" y="1533.0" font-size="14.5" text-anchor="end">75 kDa</text>
<text x="84.2" y="1589.9" font-size="17">ZT:</text>
<text x="143.0" y="1589.9" font-size="17" text-anchor="middle">0/24</text>
<text x="189.8" y="1589.9" font-size="17" text-anchor="middle">4</text>
<text x="229.5" y="1589.9" font-size="17" text-anchor="middle">8</text>
<text x="279.0" y="1589.9" font-size="17" text-anchor="middle">12</text>
<text x="328.3" y="1589.9" font-size="17" text-anchor="middle">16</text>
<text x="370.6" y="1589.9" font-size="17" text-anchor="middle">20</text>
<line x1="123.5" y1="1567.4" x2="161.0" y2="1567.4" stroke="#333" stroke-width="1.4"/>
<line x1="169.2" y1="1567.4" x2="206.7" y2="1567.4" stroke="#333" stroke-width="1.4"/>
<line x1="214.5" y1="1567.4" x2="252.7" y2="1567.4" stroke="#333" stroke-width="1.4"/>
<line x1="261.0" y1="1567.4" x2="298.4" y2="1567.4" stroke="#333" stroke-width="1.4"/>
<line x1="307.7" y1="1567.4" x2="344.4" y2="1567.4" stroke="#333" stroke-width="1.4"/>
<line x1="352.0" y1="1567.4" x2="392.4" y2="1567.4" stroke="#333" stroke-width="1.4"/>
<line x1="111.9" y1="1649.0" x2="111.9" y2="1812.0" stroke="#000" stroke-width="2"/>
<line x1="105.9" y1="1811.2" x2="112.9" y2="1811.2" stroke="#000" stroke-width="2"/>
<text x="101.9" y="1816.2" font-size="15.3" text-anchor="end">0.0</text>
<line x1="105.9" y1="1757.2" x2="112.9" y2="1757.2" stroke="#000" stroke-width="2"/>
<text x="101.9" y="1762.2" font-size="15.3" text-anchor="end">0.5</text>
<line x1="105.9" y1="1703.2" x2="112.9" y2="1703.2" stroke="#000" stroke-width="2"/>
<text x="101.9" y="1708.2" font-size="15.3" text-anchor="end">1.0</text>
<line x1="105.9" y1="1649.2" x2="112.9" y2="1649.2" stroke="#000" stroke-width="2"/>
<text x="101.9" y="1654.2" font-size="15.3" text-anchor="end">1.5</text>
<text transform="translate(72.0,1730.0) rotate(-90)" font-size="15" font-weight="bold" text-anchor="middle">CD36 (AU)</text>
<rect x="131.7" y="1827.7" width="130.9" height="7.3" fill="#fff" stroke="#000" stroke-width="1.5"/>
<rect x="262.6" y="1827.7" width="135.2" height="7.3" fill="#000" stroke="#000" stroke-width="1.5"/>
<line x1="130.7" y1="1838.6" x2="395.5" y2="1838.6" stroke="#000" stroke-width="2"/>
<line x1="131.7" y1="1838.6" x2="131.7" y2="1845.1" stroke="#000" stroke-width="2"/>
<text x="131.7" y="1863.3" font-size="15" text-anchor="middle">0</text>
<line x1="175.5" y1="1838.6" x2="175.5" y2="1845.1" stroke="#000" stroke-width="2"/>
<text x="175.5" y="1863.3" font-size="15" text-anchor="middle">4</text>
<line x1="219.3" y1="1838.6" x2="219.3" y2="1845.1" stroke="#000" stroke-width="2"/>
<text x="219.3" y="1863.3" font-size="15" text-anchor="middle">8</text>
<line x1="263.1" y1="1838.6" x2="263.1" y2="1845.1" stroke="#000" stroke-width="2"/>
<text x="263.1" y="1863.3" font-size="15" text-anchor="middle">12</text>
<line x1="306.9" y1="1838.6" x2="306.9" y2="1845.1" stroke="#000" stroke-width="2"/>
<text x="306.9" y="1863.3" font-size="15" text-anchor="middle">16</text>
<line x1="350.7" y1="1838.6" x2="350.7" y2="1845.1" stroke="#000" stroke-width="2"/>
<text x="350.7" y="1863.3" font-size="15" text-anchor="middle">20</text>
<line x1="394.5" y1="1838.6" x2="394.5" y2="1845.1" stroke="#000" stroke-width="2"/>
<text x="394.5" y="1863.3" font-size="15" text-anchor="middle">24</text>
<text x="263.1" y="1886.4" font-size="15" text-anchor="middle">ZT</text>
<polyline points="131.7,1751.0 132.8,1750.4 133.9,1749.9 135.0,1749.3 136.1,1748.8 137.2,1748.2 138.3,1747.6 139.4,1747.0 140.5,1746.3 141.6,1745.7 142.6,1745.0 143.7,1744.4 144.8,1743.7 145.9,1743.1 147.0,1742.4 148.1,1741.7 149.2,1741.0 150.3,1740.3 151.4,1739.6 152.5,1738.9 153.6,1738.1 154.7,1737.4 155.8,1736.7 156.9,1736.0 158.0,1735.2 159.1,1734.5 160.2,1733.7 161.3,1733.0 162.4,1732.2 163.5,1731.5 164.5,1730.7 165.6,1730.0 166.7,1729.2 167.8,1728.5 168.9,1727.7 170.0,1727.0 171.1,1726.3 172.2,1725.5 173.3,1724.8 174.4,1724.1 175.5,1723.3 176.6,1722.6 177.7,1721.9 178.8,1721.2 179.9,1720.5 181.0,1719.8 182.1,1719.1 183.2,1718.4 184.3,1717.7 185.4,1717.1 186.4,1716.4 187.5,1715.8 188.6,1715.2 189.7,1714.5 190.8,1713.9 191.9,1713.3 193.0,1712.7 194.1,1712.2 195.2,1711.6 196.3,1711.0 197.4,1710.5 198.5,1710.0 199.6,1709.5 200.7,1709.0 201.8,1708.5 202.9,1708.0 204.0,1707.6 205.1,1707.2 206.2,1706.7 207.3,1706.3 208.3,1706.0 209.4,1705.6 210.5,1705.2 211.6,1704.9 212.7,1704.6 213.8,1704.3 214.9,1704.0 216.0,1703.8 217.1,1703.5 218.2,1703.3 219.3,1703.1 220.4,1702.9 221.5,1702.7 222.6,1702.6 223.7,1702.5 224.8,1702.4 225.9,1702.3 227.0,1702.2 228.1,1702.2 229.2,1702.1 230.2,1702.1 231.3,1702.1 232.4,1702.2 233.5,1702.2 234.6,1702.3 235.7,1702.4 236.8,1702.5 237.9,1702.6 239.0,1702.7 240.1,1702.9 241.2,1703.1 242.3,1703.3 243.4,1703.5 244.5,1703.8 245.6,1704.0 246.7,1704.3 247.8,1704.6 248.9,1704.9 250.0,1705.2 251.1,1705.6 252.1,1706.0 253.2,1706.3 254.3,1706.7 255.4,1707.2 256.5,1707.6 257.6,1708.0 258.7,1708.5 259.8,1709.0 260.9,1709.5 262.0,1710.0 263.1,1710.5 264.2,1711.0 265.3,1711.6 266.4,1712.2 267.5,1712.7 268.6,1713.3 269.7,1713.9 270.8,1714.5 271.9,1715.2 273.0,1715.8 274.0,1716.4 275.1,1717.1 276.2,1717.7 277.3,1718.4 278.4,1719.1 279.5,1719.8 280.6,1720.5 281.7,1721.2 282.8,1721.9 283.9,1722.6 285.0,1723.3 286.1,1724.1 287.2,1724.8 288.3,1725.5 289.4,1726.3 290.5,1727.0 291.6,1727.7 292.7,1728.5 293.8,1729.2 294.9,1730.0 295.9,1730.7 297.0,1731.5 298.1,1732.2 299.2,1733.0 300.3,1733.7 301.4,1734.5 302.5,1735.2 303.6,1736.0 304.7,1736.7 305.8,1737.4 306.9,1738.1 308.0,1738.9 309.1,1739.6 310.2,1740.3 311.3,1741.0 312.4,1741.7 313.5,1742.4 314.6,1743.1 315.7,1743.7 316.8,1744.4 317.9,1745.0 318.9,1745.7 320.0,1746.3 321.1,1747.0 322.2,1747.6 323.3,1748.2 324.4,1748.8 325.5,1749.3 326.6,1749.9 327.7,1750.4 328.8,1751.0 329.9,1751.5 331.0,1752.0 332.1,1752.5 333.2,1753.0 334.3,1753.4 335.4,1753.9 336.5,1754.3 337.6,1754.7 338.7,1755.1 339.8,1755.5 340.8,1755.9 341.9,1756.2 343.0,1756.6 344.1,1756.9 345.2,1757.2 346.3,1757.5 347.4,1757.7 348.5,1758.0 349.6,1758.2 350.7,1758.4 351.8,1758.6 352.9,1758.7 354.0,1758.9 355.1,1759.0 356.2,1759.1 357.3,1759.2 358.4,1759.3 359.5,1759.3 360.6,1759.4 361.6,1759.4 362.7,1759.4 363.8,1759.3 364.9,1759.3 366.0,1759.2 367.1,1759.1 368.2,1759.0 369.3,1758.9 370.4,1758.7 371.5,1758.6 372.6,1758.4 373.7,1758.2 374.8,1758.0 375.9,1757.7 377.0,1757.5 378.1,1757.2 379.2,1756.9 380.3,1756.6 381.4,1756.2 382.5,1755.9 383.6,1755.5 384.6,1755.1 385.7,1754.7 386.8,1754.3 387.9,1753.9 389.0,1753.4 390.1,1753.0 391.2,1752.5 392.3,1752.0 393.4,1751.5 394.5,1751.0" fill="none" stroke="#333" stroke-width="1.4"/>
<line x1="131.7" y1="1764.8" x2="131.7" y2="1745.3" stroke="#e8674f" stroke-width="1.3"/>
<line x1="127.7" y1="1764.8" x2="135.7" y2="1764.8" stroke="#e8674f" stroke-width="1.3"/>
<line x1="127.7" y1="1745.3" x2="135.7" y2="1745.3" stroke="#e8674f" stroke-width="1.3"/>
<line x1="175.5" y1="1746.4" x2="175.5" y2="1698.9" stroke="#e8674f" stroke-width="1.3"/>
<line x1="171.5" y1="1746.4" x2="179.5" y2="1746.4" stroke="#e8674f" stroke-width="1.3"/>
<line x1="171.5" y1="1698.9" x2="179.5" y2="1698.9" stroke="#e8674f" stroke-width="1.3"/>
<line x1="219.3" y1="1763.7" x2="219.3" y2="1733.4" stroke="#e8674f" stroke-width="1.3"/>
<line x1="215.3" y1="1763.7" x2="223.3" y2="1763.7" stroke="#e8674f" stroke-width="1.3"/>
<line x1="215.3" y1="1733.4" x2="223.3" y2="1733.4" stroke="#e8674f" stroke-width="1.3"/>
<line x1="306.9" y1="1760.4" x2="306.9" y2="1749.6" stroke="#e8674f" stroke-width="1.3"/>
<line x1="302.9" y1="1760.4" x2="310.9" y2="1760.4" stroke="#e8674f" stroke-width="1.3"/>
<line x1="302.9" y1="1749.6" x2="310.9" y2="1749.6" stroke="#e8674f" stroke-width="1.3"/>
<line x1="350.7" y1="1778.8" x2="350.7" y2="1768.0" stroke="#e8674f" stroke-width="1.3"/>
<line x1="346.7" y1="1778.8" x2="354.7" y2="1778.8" stroke="#e8674f" stroke-width="1.3"/>
<line x1="346.7" y1="1768.0" x2="354.7" y2="1768.0" stroke="#e8674f" stroke-width="1.3"/>
<line x1="394.5" y1="1764.8" x2="394.5" y2="1745.3" stroke="#e8674f" stroke-width="1.3"/>
<line x1="390.5" y1="1764.8" x2="398.5" y2="1764.8" stroke="#e8674f" stroke-width="1.3"/>
<line x1="390.5" y1="1745.3" x2="398.5" y2="1745.3" stroke="#e8674f" stroke-width="1.3"/>
<rect x="128.4" y="1751.7" width="6.6" height="6.6" fill="#e0301e"/>
<rect x="172.2" y="1719.3" width="6.6" height="6.6" fill="#e0301e"/>
<rect x="216.0" y="1745.3" width="6.6" height="6.6" fill="#e0301e"/>
<rect x="259.8" y="1737.7" width="6.6" height="6.6" fill="#e0301e"/>
<rect x="303.6" y="1751.7" width="6.6" height="6.6" fill="#e0301e"/>
<rect x="347.4" y="1770.1" width="6.6" height="6.6" fill="#e0301e"/>
<rect x="391.2" y="1751.7" width="6.6" height="6.6" fill="#e0301e"/>
<line x1="131.7" y1="1762.6" x2="131.7" y2="1741.0" stroke="#333" stroke-width="1.3"/>
<line x1="127.7" y1="1762.6" x2="135.7" y2="1762.6" stroke="#333" stroke-width="1.3"/>
<line x1="127.7" y1="1741.0" x2="135.7" y2="1741.0" stroke="#333" stroke-width="1.3"/>
<line x1="175.5" y1="1727.0" x2="175.5" y2="1698.9" stroke="#333" stroke-width="1.3"/>
<line x1="171.5" y1="1727.0" x2="179.5" y2="1727.0" stroke="#333" stroke-width="1.3"/>
<line x1="171.5" y1="1698.9" x2="179.5" y2="1698.9" stroke="#333" stroke-width="1.3"/>
<line x1="263.1" y1="1711.8" x2="263.1" y2="1685.9" stroke="#333" stroke-width="1.3"/>
<line x1="259.1" y1="1711.8" x2="267.1" y2="1711.8" stroke="#333" stroke-width="1.3"/>
<line x1="259.1" y1="1685.9" x2="267.1" y2="1685.9" stroke="#333" stroke-width="1.3"/>
<line x1="306.9" y1="1758.3" x2="306.9" y2="1725.9" stroke="#333" stroke-width="1.3"/>
<line x1="302.9" y1="1758.3" x2="310.9" y2="1758.3" stroke="#333" stroke-width="1.3"/>
<line x1="302.9" y1="1725.9" x2="310.9" y2="1725.9" stroke="#333" stroke-width="1.3"/>
<line x1="350.7" y1="1764.8" x2="350.7" y2="1754.0" stroke="#333" stroke-width="1.3"/>
<line x1="346.7" y1="1764.8" x2="354.7" y2="1764.8" stroke="#333" stroke-width="1.3"/>
<line x1="346.7" y1="1754.0" x2="354.7" y2="1754.0" stroke="#333" stroke-width="1.3"/>
<line x1="394.5" y1="1762.6" x2="394.5" y2="1741.0" stroke="#333" stroke-width="1.3"/>
<line x1="390.5" y1="1762.6" x2="398.5" y2="1762.6" stroke="#333" stroke-width="1.3"/>
<line x1="390.5" y1="1741.0" x2="398.5" y2="1741.0" stroke="#333" stroke-width="1.3"/>
<circle cx="131.7" cy="1751.8" r="3.6" fill="#000"/>
<circle cx="175.5" cy="1712.9" r="3.6" fill="#000"/>
<circle cx="219.3" cy="1717.2" r="3.6" fill="#000"/>
<circle cx="263.1" cy="1698.9" r="3.6" fill="#000"/>
<circle cx="306.9" cy="1742.1" r="3.6" fill="#000"/>
<circle cx="350.7" cy="1759.4" r="3.6" fill="#000"/>
<circle cx="394.5" cy="1751.8" r="3.6" fill="#000"/>
<text x="133.3" y="1634.3" font-size="15.1"><tspan font-style="italic">P</tspan>&lt;0.05 for time and treatment main effects</text>
<text x="441.5" y="1465.6" font-size="35">D) ii</text>
<circle cx="656.9" cy="1679.3" r="32.60" fill="none" stroke="#ebebeb" stroke-width="1.7"/>
<circle cx="656.9" cy="1679.3" r="65.10" fill="none" stroke="#ebebeb" stroke-width="1.7"/>
<circle cx="656.9" cy="1679.3" r="97.70" fill="none" stroke="#ebebeb" stroke-width="1.7"/>
<circle cx="656.9" cy="1679.3" r="140.20" fill="none" stroke="#ebebeb" stroke-width="1.7"/>
<line x1="656.9" y1="1679.3" x2="675.20" y2="1540.30" stroke="#ebebeb" stroke-width="1.5"/>
<line x1="656.9" y1="1679.3" x2="710.55" y2="1549.77" stroke="#ebebeb" stroke-width="1.5"/>
<line x1="656.9" y1="1679.3" x2="742.25" y2="1568.07" stroke="#ebebeb" stroke-width="1.5"/>
<line x1="656.9" y1="1679.3" x2="768.13" y2="1593.95" stroke="#ebebeb" stroke-width="1.5"/>
<line x1="656.9" y1="1679.3" x2="786.43" y2="1625.65" stroke="#ebebeb" stroke-width="1.5"/>
<line x1="656.9" y1="1679.3" x2="795.90" y2="1661.00" stroke="#ebebeb" stroke-width="1.5"/>
<line x1="656.9" y1="1679.3" x2="795.90" y2="1697.60" stroke="#ebebeb" stroke-width="1.5"/>
<line x1="656.9" y1="1679.3" x2="786.43" y2="1732.95" stroke="#ebebeb" stroke-width="1.5"/>
<line x1="656.9" y1="1679.3" x2="768.13" y2="1764.65" stroke="#ebebeb" stroke-width="1.5"/>
<line x1="656.9" y1="1679.3" x2="742.25" y2="1790.53" stroke="#ebebeb" stroke-width="1.5"/>
<line x1="656.9" y1="1679.3" x2="710.55" y2="1808.83" stroke="#ebebeb" stroke-width="1.5"/>
<line x1="656.9" y1="1679.3" x2="675.20" y2="1818.30" stroke="#ebebeb" stroke-width="1.5"/>
<line x1="656.9" y1="1679.3" x2="638.60" y2="1818.30" stroke="#ebebeb" stroke-width="1.5"/>
<line x1="656.9" y1="1679.3" x2="603.25" y2="1808.83" stroke="#ebebeb" stroke-width="1.5"/>
<line x1="656.9" y1="1679.3" x2="571.55" y2="1790.53" stroke="#ebebeb" stroke-width="1.5"/>
<line x1="656.9" y1="1679.3" x2="545.67" y2="1764.65" stroke="#ebebeb" stroke-width="1.5"/>
<line x1="656.9" y1="1679.3" x2="527.37" y2="1732.95" stroke="#ebebeb" stroke-width="1.5"/>
<line x1="656.9" y1="1679.3" x2="517.90" y2="1697.60" stroke="#ebebeb" stroke-width="1.5"/>
<line x1="656.9" y1="1679.3" x2="517.90" y2="1661.00" stroke="#ebebeb" stroke-width="1.5"/>
<line x1="656.9" y1="1679.3" x2="527.37" y2="1625.65" stroke="#ebebeb" stroke-width="1.5"/>
<line x1="656.9" y1="1679.3" x2="545.67" y2="1593.95" stroke="#ebebeb" stroke-width="1.5"/>
<line x1="656.9" y1="1679.3" x2="571.55" y2="1568.07" stroke="#ebebeb" stroke-width="1.5"/>
<line x1="656.9" y1="1679.3" x2="603.25" y2="1549.77" stroke="#ebebeb" stroke-width="1.5"/>
<line x1="656.9" y1="1679.3" x2="638.60" y2="1540.30" stroke="#ebebeb" stroke-width="1.5"/>
<text x="675.2" y="1546.3" font-size="17.5" text-anchor="middle" fill="#4d4d4d" stroke="#fff" stroke-width="5" paint-order="stroke">0</text>
<text x="710.6" y="1555.8" font-size="17.5" text-anchor="middle" fill="#4d4d4d" stroke="#fff" stroke-width="5" paint-order="stroke">1</text>
<text x="742.2" y="1574.1" font-size="17.5" text-anchor="middle" fill="#4d4d4d" stroke="#fff" stroke-width="5" paint-order="stroke">2</text>
<text x="768.1" y="1600.0" font-size="17.5" text-anchor="middle" fill="#4d4d4d" stroke="#fff" stroke-width="5" paint-order="stroke">3</text>
<text x="786.4" y="1631.6" font-size="17.5" text-anchor="middle" fill="#4d4d4d" stroke="#fff" stroke-width="5" paint-order="stroke">4</text>
<text x="795.9" y="1667.0" font-size="17.5" text-anchor="middle" fill="#4d4d4d" stroke="#fff" stroke-width="5" paint-order="stroke">5</text>
<text x="795.9" y="1703.6" font-size="17.5" text-anchor="middle" fill="#4d4d4d" stroke="#fff" stroke-width="5" paint-order="stroke">6</text>
<text x="786.4" y="1739.0" font-size="17.5" text-anchor="middle" fill="#4d4d4d" stroke="#fff" stroke-width="5" paint-order="stroke">7</text>
<text x="768.1" y="1770.6" font-size="17.5" text-anchor="middle" fill="#4d4d4d" stroke="#fff" stroke-width="5" paint-order="stroke">8</text>
<text x="742.2" y="1796.5" font-size="17.5" text-anchor="middle" fill="#4d4d4d" stroke="#fff" stroke-width="5" paint-order="stroke">9</text>
<text x="710.6" y="1814.8" font-size="17.5" text-anchor="middle" fill="#4d4d4d" stroke="#fff" stroke-width="5" paint-order="stroke">10</text>
<text x="675.2" y="1824.3" font-size="17.5" text-anchor="middle" fill="#4d4d4d" stroke="#fff" stroke-width="5" paint-order="stroke">11</text>
<text x="638.6" y="1824.3" font-size="17.5" text-anchor="middle" fill="#4d4d4d" stroke="#fff" stroke-width="5" paint-order="stroke">12</text>
<text x="603.2" y="1814.8" font-size="17.5" text-anchor="middle" fill="#4d4d4d" stroke="#fff" stroke-width="5" paint-order="stroke">13</text>
<text x="571.6" y="1796.5" font-size="17.5" text-anchor="middle" fill="#4d4d4d" stroke="#fff" stroke-width="5" paint-order="stroke">14</text>
<text x="545.7" y="1770.6" font-size="17.5" text-anchor="middle" fill="#4d4d4d" stroke="#fff" stroke-width="5" paint-order="stroke">15</text>
<text x="527.4" y="1739.0" font-size="17.5" text-anchor="middle" fill="#4d4d4d" stroke="#fff" stroke-width="5" paint-order="stroke">16</text>
<text x="517.9" y="1703.6" font-size="17.5" text-anchor="middle" fill="#4d4d4d" stroke="#fff" stroke-width="5" paint-order="stroke">17</text>
<text x="517.9" y="1667.0" font-size="17.5" text-anchor="middle" fill="#4d4d4d" stroke="#fff" stroke-width="5" paint-order="stroke">18</text>
<text x="527.4" y="1631.6" font-size="17.5" text-anchor="middle" fill="#4d4d4d" stroke="#fff" stroke-width="5" paint-order="stroke">19</text>
<text x="545.7" y="1600.0" font-size="17.5" text-anchor="middle" fill="#4d4d4d" stroke="#fff" stroke-width="5" paint-order="stroke">20</text>
<text x="571.6" y="1574.1" font-size="17.5" text-anchor="middle" fill="#4d4d4d" stroke="#fff" stroke-width="5" paint-order="stroke">21</text>
<text x="603.2" y="1555.8" font-size="17.5" text-anchor="middle" fill="#4d4d4d" stroke="#fff" stroke-width="5" paint-order="stroke">22</text>
<text x="638.6" y="1546.3" font-size="17.5" text-anchor="middle" fill="#4d4d4d" stroke="#fff" stroke-width="5" paint-order="stroke">23</text>
<path d="M656.90,1679.30 L657.68,1619.63 A59.68,59.68 0 0 1 671.59,1621.46 Z" fill="#000"/>
<path d="M656.90,1679.30 L743.05,1631.06 A98.73,98.73 0 0 1 751.93,1652.50 Z" fill="#000"/>
<path d="M656.90,1679.30 L738.02,1727.56 A94.39,94.39 0 0 1 724.52,1745.17 Z" fill="#000"/>
<path d="M656.90,1679.30 L655.45,1789.96 A110.67,110.67 0 0 1 629.66,1786.56 Z" fill="#000"/>
<path d="M656.90,1679.30 L596.31,1713.23 A69.44,69.44 0 0 1 590.07,1698.15 Z" fill="#000"/>
<path d="M656.90,1679.30 L612.14,1652.67 A52.08,52.08 0 0 1 619.59,1642.96 Z" fill="#000"/>
<line x1="663.27" y1="1630.89" x2="666.11" y2="1609.38" stroke="#000" stroke-width="1.4"/>
<path d="M657.75,1630.48 A48.83,48.83 0 0 1 668.71,1631.93" fill="none" stroke="#000" stroke-width="1.4"/>
<path d="M658.13,1608.79 A70.53,70.53 0 0 1 673.96,1610.87" fill="none" stroke="#000" stroke-width="1.4"/>
<line x1="735.09" y1="1646.91" x2="761.15" y2="1636.12" stroke="#000" stroke-width="1.4"/>
<path d="M730.92,1638.27 A84.63,84.63 0 0 1 738.25,1655.97" fill="none" stroke="#000" stroke-width="1.4"/>
<path d="M755.59,1624.59 A112.84,112.84 0 0 1 765.37,1648.20" fill="none" stroke="#000" stroke-width="1.4"/>
<line x1="730.93" y1="1736.10" x2="732.65" y2="1737.42" stroke="#000" stroke-width="1.4"/>
<path d="M736.88,1727.36 A93.31,93.31 0 0 1 724.02,1744.12" fill="none" stroke="#000" stroke-width="1.4"/>
<path d="M738.74,1728.48 A95.48,95.48 0 0 1 725.58,1745.63" fill="none" stroke="#000" stroke-width="1.4"/>
<line x1="643.87" y1="1778.27" x2="641.04" y2="1799.78" stroke="#000" stroke-width="1.4"/>
<path d="M655.16,1779.10 A99.82,99.82 0 0 1 632.75,1776.15" fill="none" stroke="#000" stroke-width="1.4"/>
<path d="M654.78,1800.80 A121.52,121.52 0 0 1 627.50,1797.21" fill="none" stroke="#000" stroke-width="1.4"/>
<line x1="607.78" y1="1699.65" x2="577.71" y2="1712.10" stroke="#000" stroke-width="1.4"/>
<path d="M610.40,1705.07 A53.16,53.16 0 0 1 605.79,1693.95" fill="none" stroke="#000" stroke-width="1.4"/>
<path d="M581.93,1720.86 A85.72,85.72 0 0 1 574.51,1702.93" fill="none" stroke="#000" stroke-width="1.4"/>
<line x1="619.89" y1="1650.90" x2="611.28" y2="1644.29" stroke="#000" stroke-width="1.4"/>
<path d="M616.91,1655.27 A46.66,46.66 0 0 1 623.34,1646.89" fill="none" stroke="#000" stroke-width="1.4"/>
<path d="M607.61,1649.68 A57.50,57.50 0 0 1 615.53,1639.35" fill="none" stroke="#000" stroke-width="1.4"/>
<text x="656.9" y="1516.4" font-size="18" text-anchor="middle" fill="#1a1a1a">Control</text>
<text x="493.7" y="1587.6" font-size="17.5" text-anchor="end" fill="#4d4d4d">0.9</text>
<text x="493.7" y="1620.2" font-size="17.5" text-anchor="end" fill="#4d4d4d">0.6</text>
<text x="493.7" y="1652.8" font-size="17.5" text-anchor="end" fill="#4d4d4d">0.3</text>
<text x="493.7" y="1685.3" font-size="17.5" text-anchor="end" fill="#4d4d4d">0.0</text>
<text transform="translate(464.0,1678.5) rotate(-90)" font-size="20.5" text-anchor="middle" fill="#1a1a1a">Relative expression</text>
<circle cx="975.9" cy="1679.4" r="32.60" fill="none" stroke="#ebebeb" stroke-width="1.7"/>
<circle cx="975.9" cy="1679.4" r="65.10" fill="none" stroke="#ebebeb" stroke-width="1.7"/>
<circle cx="975.9" cy="1679.4" r="97.70" fill="none" stroke="#ebebeb" stroke-width="1.7"/>
<circle cx="975.9" cy="1679.4" r="140.80" fill="none" stroke="#ebebeb" stroke-width="1.7"/>
<line x1="975.9" y1="1679.4" x2="994.28" y2="1539.80" stroke="#ebebeb" stroke-width="1.5"/>
<line x1="975.9" y1="1679.4" x2="1029.78" y2="1549.32" stroke="#ebebeb" stroke-width="1.5"/>
<line x1="975.9" y1="1679.4" x2="1061.61" y2="1567.70" stroke="#ebebeb" stroke-width="1.5"/>
<line x1="975.9" y1="1679.4" x2="1087.60" y2="1593.69" stroke="#ebebeb" stroke-width="1.5"/>
<line x1="975.9" y1="1679.4" x2="1105.98" y2="1625.52" stroke="#ebebeb" stroke-width="1.5"/>
<line x1="975.9" y1="1679.4" x2="1115.50" y2="1661.02" stroke="#ebebeb" stroke-width="1.5"/>
<line x1="975.9" y1="1679.4" x2="1115.50" y2="1697.78" stroke="#ebebeb" stroke-width="1.5"/>
<line x1="975.9" y1="1679.4" x2="1105.98" y2="1733.28" stroke="#ebebeb" stroke-width="1.5"/>
<line x1="975.9" y1="1679.4" x2="1087.60" y2="1765.11" stroke="#ebebeb" stroke-width="1.5"/>
<line x1="975.9" y1="1679.4" x2="1061.61" y2="1791.10" stroke="#ebebeb" stroke-width="1.5"/>
<line x1="975.9" y1="1679.4" x2="1029.78" y2="1809.48" stroke="#ebebeb" stroke-width="1.5"/>
<line x1="975.9" y1="1679.4" x2="994.28" y2="1819.00" stroke="#ebebeb" stroke-width="1.5"/>
<line x1="975.9" y1="1679.4" x2="957.52" y2="1819.00" stroke="#ebebeb" stroke-width="1.5"/>
<line x1="975.9" y1="1679.4" x2="922.02" y2="1809.48" stroke="#ebebeb" stroke-width="1.5"/>
<line x1="975.9" y1="1679.4" x2="890.19" y2="1791.10" stroke="#ebebeb" stroke-width="1.5"/>
<line x1="975.9" y1="1679.4" x2="864.20" y2="1765.11" stroke="#ebebeb" stroke-width="1.5"/>
<line x1="975.9" y1="1679.4" x2="845.82" y2="1733.28" stroke="#ebebeb" stroke-width="1.5"/>
<line x1="975.9" y1="1679.4" x2="836.30" y2="1697.78" stroke="#ebebeb" stroke-width="1.5"/>
<line x1="975.9" y1="1679.4" x2="836.30" y2="1661.02" stroke="#ebebeb" stroke-width="1.5"/>
<line x1="975.9" y1="1679.4" x2="845.82" y2="1625.52" stroke="#ebebeb" stroke-width="1.5"/>
<line x1="975.9" y1="1679.4" x2="864.20" y2="1593.69" stroke="#ebebeb" stroke-width="1.5"/>
<line x1="975.9" y1="1679.4" x2="890.19" y2="1567.70" stroke="#ebebeb" stroke-width="1.5"/>
<line x1="975.9" y1="1679.4" x2="922.02" y2="1549.32" stroke="#ebebeb" stroke-width="1.5"/>
<line x1="975.9" y1="1679.4" x2="957.52" y2="1539.80" stroke="#ebebeb" stroke-width="1.5"/>
<text x="994.3" y="1545.8" font-size="17.5" text-anchor="middle" fill="#4d4d4d" stroke="#fff" stroke-width="5" paint-order="stroke">0</text>
<text x="1029.8" y="1555.3" font-size="17.5" text-anchor="middle" fill="#4d4d4d" stroke="#fff" stroke-width="5" paint-order="stroke">1</text>
<text x="1061.6" y="1573.7" font-size="17.5" text-anchor="middle" fill="#4d4d4d" stroke="#fff" stroke-width="5" paint-order="stroke">2</text>
<text x="1087.6" y="1599.7" font-size="17.5" text-anchor="middle" fill="#4d4d4d" stroke="#fff" stroke-width="5" paint-order="stroke">3</text>
<text x="1106.0" y="1631.5" font-size="17.5" text-anchor="middle" fill="#4d4d4d" stroke="#fff" stroke-width="5" paint-order="stroke">4</text>
<text x="1115.5" y="1667.0" font-size="17.5" text-anchor="middle" fill="#4d4d4d" stroke="#fff" stroke-width="5" paint-order="stroke">5</text>
<text x="1115.5" y="1703.8" font-size="17.5" text-anchor="middle" fill="#4d4d4d" stroke="#fff" stroke-width="5" paint-order="stroke">6</text>
<text x="1106.0" y="1739.3" font-size="17.5" text-anchor="middle" fill="#4d4d4d" stroke="#fff" stroke-width="5" paint-order="stroke">7</text>
<text x="1087.6" y="1771.1" font-size="17.5" text-anchor="middle" fill="#4d4d4d" stroke="#fff" stroke-width="5" paint-order="stroke">8</text>
<text x="1061.6" y="1797.1" font-size="17.5" text-anchor="middle" fill="#4d4d4d" stroke="#fff" stroke-width="5" paint-order="stroke">9</text>
<text x="1029.8" y="1815.5" font-size="17.5" text-anchor="middle" fill="#4d4d4d" stroke="#fff" stroke-width="5" paint-order="stroke">10</text>
<text x="994.3" y="1825.0" font-size="17.5" text-anchor="middle" fill="#4d4d4d" stroke="#fff" stroke-width="5" paint-order="stroke">11</text>
<text x="957.5" y="1825.0" font-size="17.5" text-anchor="middle" fill="#4d4d4d" stroke="#fff" stroke-width="5" paint-order="stroke">12</text>
<text x="922.0" y="1815.5" font-size="17.5" text-anchor="middle" fill="#4d4d4d" stroke="#fff" stroke-width="5" paint-order="stroke">13</text>
<text x="890.2" y="1797.1" font-size="17.5" text-anchor="middle" fill="#4d4d4d" stroke="#fff" stroke-width="5" paint-order="stroke">14</text>
<text x="864.2" y="1771.1" font-size="17.5" text-anchor="middle" fill="#4d4d4d" stroke="#fff" stroke-width="5" paint-order="stroke">15</text>
<text x="845.8" y="1739.3" font-size="17.5" text-anchor="middle" fill="#4d4d4d" stroke="#fff" stroke-width="5" paint-order="stroke">16</text>
<text x="836.3" y="1703.8" font-size="17.5" text-anchor="middle" fill="#4d4d4d" stroke="#fff" stroke-width="5" paint-order="stroke">17</text>
<text x="836.3" y="1667.0" font-size="17.5" text-anchor="middle" fill="#4d4d4d" stroke="#fff" stroke-width="5" paint-order="stroke">18</text>
<text x="845.8" y="1631.5" font-size="17.5" text-anchor="middle" fill="#4d4d4d" stroke="#fff" stroke-width="5" paint-order="stroke">19</text>
<text x="864.2" y="1599.7" font-size="17.5" text-anchor="middle" fill="#4d4d4d" stroke="#fff" stroke-width="5" paint-order="stroke">20</text>
<text x="890.2" y="1573.7" font-size="17.5" text-anchor="middle" fill="#4d4d4d" stroke="#fff" stroke-width="5" paint-order="stroke">21</text>
<text x="922.0" y="1555.3" font-size="17.5" text-anchor="middle" fill="#4d4d4d" stroke="#fff" stroke-width="5" paint-order="stroke">22</text>
<text x="957.5" y="1545.8" font-size="17.5" text-anchor="middle" fill="#4d4d4d" stroke="#fff" stroke-width="5" paint-order="stroke">23</text>
<path d="M975.90,1679.40 L976.62,1624.07 A55.34,55.34 0 0 1 989.52,1625.77 Z" fill="#d70000"/>
<path d="M975.90,1679.40 L1056.37,1634.34 A92.22,92.22 0 0 1 1064.66,1654.37 Z" fill="#d70000"/>
<path d="M975.90,1679.40 L1033.71,1713.79 A67.27,67.27 0 0 1 1024.09,1726.34 Z" fill="#d70000"/>
<path d="M975.90,1679.40 L974.98,1749.92 A70.53,70.53 0 0 1 958.54,1747.76 Z" fill="#d70000"/>
<path d="M975.90,1679.40 L926.67,1706.97 A56.42,56.42 0 0 1 921.60,1694.71 Z" fill="#d70000"/>
<path d="M975.90,1679.40 L942.33,1659.43 A39.06,39.06 0 0 1 947.92,1652.14 Z" fill="#d70000"/>
<line x1="981.85" y1="1634.22" x2="984.40" y2="1614.86" stroke="#000" stroke-width="1.4"/>
<path d="M976.70,1633.84 A45.57,45.57 0 0 1 986.92,1635.18" fill="none" stroke="#000" stroke-width="1.4"/>
<path d="M977.04,1614.31 A65.10,65.10 0 0 1 991.65,1616.23" fill="none" stroke="#000" stroke-width="1.4"/>
<line x1="1039.05" y1="1653.24" x2="1083.16" y2="1634.97" stroke="#000" stroke-width="1.4"/>
<path d="M1035.68,1646.26 A68.35,68.35 0 0 1 1041.61,1660.56" fill="none" stroke="#000" stroke-width="1.4"/>
<path d="M1077.44,1623.12 A116.09,116.09 0 0 1 1087.50,1647.40" fill="none" stroke="#000" stroke-width="1.4"/>
<line x1="1017.22" y1="1711.10" x2="1041.32" y2="1729.60" stroke="#000" stroke-width="1.4"/>
<path d="M1020.54,1706.22 A52.08,52.08 0 0 1 1013.36,1715.58" fill="none" stroke="#000" stroke-width="1.4"/>
<path d="M1046.58,1721.87 A82.46,82.46 0 0 1 1035.22,1736.68" fill="none" stroke="#000" stroke-width="1.4"/>
<line x1="966.84" y1="1748.25" x2="966.55" y2="1750.40" stroke="#000" stroke-width="1.4"/>
<path d="M974.69,1748.83 A69.44,69.44 0 0 1 959.10,1746.78" fill="none" stroke="#000" stroke-width="1.4"/>
<path d="M974.65,1751.00 A71.61,71.61 0 0 1 958.58,1748.88" fill="none" stroke="#000" stroke-width="1.4"/>
<line x1="928.79" y1="1698.91" x2="918.76" y2="1703.07" stroke="#000" stroke-width="1.4"/>
<path d="M931.30,1704.12 A51.00,51.00 0 0 1 926.88,1693.46" fill="none" stroke="#000" stroke-width="1.4"/>
<path d="M921.81,1709.38 A61.84,61.84 0 0 1 916.45,1696.45" fill="none" stroke="#000" stroke-width="1.4"/>
<line x1="949.22" y1="1658.92" x2="940.61" y2="1652.32" stroke="#000" stroke-width="1.4"/>
<path d="M947.07,1662.08 A33.63,33.63 0 0 1 951.71,1656.04" fill="none" stroke="#000" stroke-width="1.4"/>
<path d="M937.77,1656.49 A44.48,44.48 0 0 1 943.90,1648.50" fill="none" stroke="#000" stroke-width="1.4"/>
<text x="975.9" y="1515.8" font-size="18" text-anchor="middle" fill="#1a1a1a">Hypothyroid</text>
<text x="816.7" y="1863.2" font-size="22" text-anchor="middle">ZT</text>
<text x="6.0" y="1937.8" font-size="35">E) i</text>
<text x="230.0" y="1934.8" font-size="26.5" text-anchor="middle" font-weight="bold">NPC1L1</text>
<text x="69.3" y="1996.6" font-size="17">Group:</text>
<text x="128.4" y="1996.6" font-size="17" text-anchor="middle">C</text>
<text x="149.8" y="1996.6" font-size="17" text-anchor="middle">H</text>
<text x="171.1" y="1996.6" font-size="17" text-anchor="middle">C</text>
<text x="192.0" y="1996.6" font-size="17" text-anchor="middle">H</text>
<text x="212.7" y="1996.6" font-size="17" text-anchor="middle">C</text>
<text x="234.0" y="1996.6" font-size="17" text-anchor="middle">H</text>
<text x="255.3" y="1996.6" font-size="17" text-anchor="middle">C</text>
<text x="276.3" y="1996.6" font-size="17" text-anchor="middle">H</text>
<text x="296.9" y="1996.6" font-size="17" text-anchor="middle">C</text>
<text x="318.2" y="1996.6" font-size="17" text-anchor="middle">H</text>
<text x="343.3" y="1996.6" font-size="17" text-anchor="middle">C</text>
<text x="365.0" y="1996.6" font-size="17" text-anchor="middle">H</text>
<clipPath id="b1281"><rect x="89.7" y="2007.8" width="287.7" height="24.700000000000045"/></clipPath>
<g clip-path="url(#b1281)">
<rect x="89.7" y="2007.8" width="287.7" height="24.700000000000045" fill="#a0a2a8"/>
<rect x="118.4" y="2007.8" width="259.0" height="24.700000000000045" fill="#7e8086"/>
<g filter="url(#blur1)">
<rect x="116.4" y="2004.8" width="4" height="30.700000000000045" fill="#fff" fill-opacity="0.2"/>
<rect x="136.5" y="2004.8" width="4" height="30.700000000000045" fill="#fff" fill-opacity="0.2"/>
<rect x="157.9" y="2004.8" width="4" height="30.700000000000045" fill="#fff" fill-opacity="0.2"/>
<rect x="179.3" y="2004.8" width="4" height="30.700000000000045" fill="#fff" fill-opacity="0.2"/>
<rect x="200.0" y="2004.8" width="4" height="30.700000000000045" fill="#fff" fill-opacity="0.2"/>
<rect x="222.0" y="2004.8" width="4" height="30.700000000000045" fill="#fff" fill-opacity="0.2"/>
<rect x="242.7" y="2004.8" width="4" height="30.700000000000045" fill="#fff" fill-opacity="0.2"/>
<rect x="263.4" y="2004.8" width="4" height="30.700000000000045" fill="#fff" fill-opacity="0.2"/>
<rect x="284.0" y="2004.8" width="4" height="30.700000000000045" fill="#fff" fill-opacity="0.2"/>
<rect x="305.5" y="2004.8" width="4" height="30.700000000000045" fill="#fff" fill-opacity="0.2"/>
<rect x="329.6" y="2004.8" width="4" height="30.700000000000045" fill="#fff" fill-opacity="0.2"/>
<rect x="353.0" y="2004.8" width="4" height="30.700000000000045" fill="#fff" fill-opacity="0.2"/>
</g>
<ellipse cx="102" cy="2025" rx="7.0" ry="2.0" fill="#8c95b8" filter="url(#blur1)"/>
<rect x="118.8" y="2019.7" width="18.0" height="6.0" rx="2.1" fill="#000" fill-opacity="0.55" filter="url(#blur2)"/>
<rect x="140.2" y="2019.7" width="18.0" height="6.0" rx="2.1" fill="#000" fill-opacity="0.45" filter="url(#blur2)"/>
<rect x="161.6" y="2019.5" width="18.0" height="6.0" rx="2.1" fill="#000" fill-opacity="0.55" filter="url(#blur2)"/>
<rect x="183.0" y="2019.5" width="18.0" height="6.0" rx="2.1" fill="#000" fill-opacity="0.50" filter="url(#blur2)"/>
<rect x="203.7" y="2019.5" width="18.0" height="6.0" rx="2.1" fill="#000" fill-opacity="0.60" filter="url(#blur2)"/>
<rect x="223.7" y="2020.4" width="18.0" height="6.0" rx="2.1" fill="#000" fill-opacity="0.50" filter="url(#blur2)"/>
<rect x="245.7" y="2020.0" width="18.0" height="6.0" rx="2.1" fill="#000" fill-opacity="0.50" filter="url(#blur2)"/>
<rect x="266.5" y="2020.0" width="18.0" height="6.0" rx="2.1" fill="#000" fill-opacity="0.45" filter="url(#blur2)"/>
<rect x="287.2" y="2019.0" width="18.0" height="6.0" rx="2.1" fill="#000" fill-opacity="0.45" filter="url(#blur2)"/>
<rect x="310.6" y="2017.5" width="18.0" height="6.0" rx="2.1" fill="#000" fill-opacity="0.30" filter="url(#blur2)"/>
<rect x="335.3" y="2017.5" width="18.0" height="6.0" rx="2.1" fill="#000" fill-opacity="0.55" filter="url(#blur2)"/>
<rect x="357.9" y="2018.5" width="17.0" height="5.0" rx="1.8" fill="#000" fill-opacity="0.35" filter="url(#blur2)"/>
</g>
<rect x="90.2" y="2008.3" width="286.7" height="23.700000000000045" fill="none" stroke="#555" stroke-opacity="0.5" stroke-width="1"/>
<text x="81.6" y="2020.6" font-size="14.5" text-anchor="end">180kDa</text>
<text x="81.6" y="2033.7" font-size="14.5" text-anchor="end">140 kDa</text>
<text x="88.0" y="2052.8" font-size="17">ZT:</text>
<text x="137.8" y="2052.8" font-size="17" text-anchor="middle">0/24</text>
<text x="184.6" y="2052.8" font-size="17" text-anchor="middle">4</text>
<text x="223.9" y="2052.8" font-size="17" text-anchor="middle">8</text>
<text x="269.6" y="2052.8" font-size="17" text-anchor="middle">12</text>
<text x="313.7" y="2052.8" font-size="17" text-anchor="middle">16</text>
<text x="356.8" y="2052.8" font-size="17" text-anchor="middle">20</text>
<line x1="117.9" y1="2036.7" x2="154.6" y2="2036.7" stroke="#333" stroke-width="1.4"/>
<line x1="163.6" y1="2036.7" x2="201.0" y2="2036.7" stroke="#333" stroke-width="1.4"/>
<line x1="207.0" y1="2036.7" x2="244.5" y2="2036.7" stroke="#333" stroke-width="1.4"/>
<line x1="250.0" y1="2036.7" x2="287.2" y2="2036.7" stroke="#333" stroke-width="1.4"/>
<line x1="292.8" y1="2036.7" x2="329.5" y2="2036.7" stroke="#333" stroke-width="1.4"/>
<line x1="338.8" y1="2036.7" x2="378.1" y2="2036.7" stroke="#333" stroke-width="1.4"/>
<line x1="110.3" y1="2086.0" x2="110.3" y2="2249.0" stroke="#000" stroke-width="2"/>
<line x1="104.3" y1="2248.1" x2="111.3" y2="2248.1" stroke="#000" stroke-width="2"/>
<text x="100.3" y="2253.1" font-size="15.3" text-anchor="end">0.0</text>
<line x1="104.3" y1="2194.2" x2="111.3" y2="2194.2" stroke="#000" stroke-width="2"/>
<text x="100.3" y="2199.2" font-size="15.3" text-anchor="end">0.5</text>
<line x1="104.3" y1="2140.3" x2="111.3" y2="2140.3" stroke="#000" stroke-width="2"/>
<text x="100.3" y="2145.3" font-size="15.3" text-anchor="end">1.0</text>
<line x1="104.3" y1="2086.4" x2="111.3" y2="2086.4" stroke="#000" stroke-width="2"/>
<text x="100.3" y="2091.4" font-size="15.3" text-anchor="end">1.5</text>
<text transform="translate(72.0,2166.0) rotate(-90)" font-size="15" font-weight="bold" text-anchor="middle">NPC1L1 (AU)</text>
<rect x="128.4" y="2264.6" width="130.9" height="5.6" fill="#fff" stroke="#000" stroke-width="1.5"/>
<rect x="259.3" y="2264.6" width="135.2" height="5.6" fill="#000" stroke="#000" stroke-width="1.5"/>
<line x1="128.0" y1="2274.5" x2="391.6" y2="2274.5" stroke="#000" stroke-width="2"/>
<line x1="129.0" y1="2274.5" x2="129.0" y2="2281.0" stroke="#000" stroke-width="2"/>
<text x="129.0" y="2299.2" font-size="15" text-anchor="middle">0</text>
<line x1="172.6" y1="2274.5" x2="172.6" y2="2281.0" stroke="#000" stroke-width="2"/>
<text x="172.6" y="2299.2" font-size="15" text-anchor="middle">4</text>
<line x1="216.2" y1="2274.5" x2="216.2" y2="2281.0" stroke="#000" stroke-width="2"/>
<text x="216.2" y="2299.2" font-size="15" text-anchor="middle">8</text>
<line x1="259.8" y1="2274.5" x2="259.8" y2="2281.0" stroke="#000" stroke-width="2"/>
<text x="259.8" y="2299.2" font-size="15" text-anchor="middle">12</text>
<line x1="303.4" y1="2274.5" x2="303.4" y2="2281.0" stroke="#000" stroke-width="2"/>
<text x="303.4" y="2299.2" font-size="15" text-anchor="middle">16</text>
<line x1="347.0" y1="2274.5" x2="347.0" y2="2281.0" stroke="#000" stroke-width="2"/>
<text x="347.0" y="2299.2" font-size="15" text-anchor="middle">20</text>
<line x1="390.6" y1="2274.5" x2="390.6" y2="2281.0" stroke="#000" stroke-width="2"/>
<text x="390.6" y="2299.2" font-size="15" text-anchor="middle">24</text>
<text x="259.8" y="2322.3" font-size="15" text-anchor="middle">ZT</text>
<line x1="129.0" y1="2185.6" x2="129.0" y2="2144.6" stroke="#e8674f" stroke-width="1.3"/>
<line x1="125.0" y1="2185.6" x2="133.0" y2="2185.6" stroke="#e8674f" stroke-width="1.3"/>
<line x1="125.0" y1="2144.6" x2="133.0" y2="2144.6" stroke="#e8674f" stroke-width="1.3"/>
<line x1="172.6" y1="2158.6" x2="172.6" y2="2143.5" stroke="#e8674f" stroke-width="1.3"/>
<line x1="168.6" y1="2158.6" x2="176.6" y2="2158.6" stroke="#e8674f" stroke-width="1.3"/>
<line x1="168.6" y1="2143.5" x2="176.6" y2="2143.5" stroke="#e8674f" stroke-width="1.3"/>
<line x1="216.2" y1="2192.0" x2="216.2" y2="2148.9" stroke="#e8674f" stroke-width="1.3"/>
<line x1="212.2" y1="2192.0" x2="220.2" y2="2192.0" stroke="#e8674f" stroke-width="1.3"/>
<line x1="212.2" y1="2148.9" x2="220.2" y2="2148.9" stroke="#e8674f" stroke-width="1.3"/>
<line x1="259.8" y1="2199.6" x2="259.8" y2="2188.8" stroke="#e8674f" stroke-width="1.3"/>
<line x1="255.8" y1="2199.6" x2="263.8" y2="2199.6" stroke="#e8674f" stroke-width="1.3"/>
<line x1="255.8" y1="2188.8" x2="263.8" y2="2188.8" stroke="#e8674f" stroke-width="1.3"/>
<line x1="303.4" y1="2200.7" x2="303.4" y2="2177.0" stroke="#e8674f" stroke-width="1.3"/>
<line x1="299.4" y1="2200.7" x2="307.4" y2="2200.7" stroke="#e8674f" stroke-width="1.3"/>
<line x1="299.4" y1="2177.0" x2="307.4" y2="2177.0" stroke="#e8674f" stroke-width="1.3"/>
<line x1="347.0" y1="2215.8" x2="347.0" y2="2183.4" stroke="#e8674f" stroke-width="1.3"/>
<line x1="343.0" y1="2215.8" x2="351.0" y2="2215.8" stroke="#e8674f" stroke-width="1.3"/>
<line x1="343.0" y1="2183.4" x2="351.0" y2="2183.4" stroke="#e8674f" stroke-width="1.3"/>
<line x1="390.6" y1="2185.6" x2="390.6" y2="2144.6" stroke="#e8674f" stroke-width="1.3"/>
<line x1="386.6" y1="2185.6" x2="394.6" y2="2185.6" stroke="#e8674f" stroke-width="1.3"/>
<line x1="386.6" y1="2144.6" x2="394.6" y2="2144.6" stroke="#e8674f" stroke-width="1.3"/>
<rect x="125.7" y="2161.8" width="6.6" height="6.6" fill="#e0301e"/>
<rect x="169.3" y="2147.8" width="6.6" height="6.6" fill="#e0301e"/>
<rect x="212.9" y="2167.2" width="6.6" height="6.6" fill="#e0301e"/>
<rect x="256.5" y="2190.9" width="6.6" height="6.6" fill="#e0301e"/>
<rect x="300.1" y="2185.5" width="6.6" height="6.6" fill="#e0301e"/>
<rect x="343.7" y="2196.3" width="6.6" height="6.6" fill="#e0301e"/>
<rect x="387.3" y="2161.8" width="6.6" height="6.6" fill="#e0301e"/>
<line x1="129.0" y1="2172.6" x2="129.0" y2="2148.9" stroke="#333" stroke-width="1.3"/>
<line x1="125.0" y1="2172.6" x2="133.0" y2="2172.6" stroke="#333" stroke-width="1.3"/>
<line x1="125.0" y1="2148.9" x2="133.0" y2="2148.9" stroke="#333" stroke-width="1.3"/>
<line x1="172.6" y1="2159.7" x2="172.6" y2="2148.9" stroke="#333" stroke-width="1.3"/>
<line x1="168.6" y1="2159.7" x2="176.6" y2="2159.7" stroke="#333" stroke-width="1.3"/>
<line x1="168.6" y1="2148.9" x2="176.6" y2="2148.9" stroke="#333" stroke-width="1.3"/>
<line x1="216.2" y1="2156.5" x2="216.2" y2="2152.2" stroke="#333" stroke-width="1.3"/>
<line x1="212.2" y1="2156.5" x2="220.2" y2="2156.5" stroke="#333" stroke-width="1.3"/>
<line x1="212.2" y1="2152.2" x2="220.2" y2="2152.2" stroke="#333" stroke-width="1.3"/>
<line x1="259.8" y1="2188.8" x2="259.8" y2="2178.0" stroke="#333" stroke-width="1.3"/>
<line x1="255.8" y1="2188.8" x2="263.8" y2="2188.8" stroke="#333" stroke-width="1.3"/>
<line x1="255.8" y1="2178.0" x2="263.8" y2="2178.0" stroke="#333" stroke-width="1.3"/>
<line x1="303.4" y1="2185.6" x2="303.4" y2="2155.4" stroke="#333" stroke-width="1.3"/>
<line x1="299.4" y1="2185.6" x2="307.4" y2="2185.6" stroke="#333" stroke-width="1.3"/>
<line x1="299.4" y1="2155.4" x2="307.4" y2="2155.4" stroke="#333" stroke-width="1.3"/>
<line x1="347.0" y1="2201.7" x2="347.0" y2="2154.3" stroke="#333" stroke-width="1.3"/>
<line x1="343.0" y1="2201.7" x2="351.0" y2="2201.7" stroke="#333" stroke-width="1.3"/>
<line x1="343.0" y1="2154.3" x2="351.0" y2="2154.3" stroke="#333" stroke-width="1.3"/>
<line x1="390.6" y1="2172.6" x2="390.6" y2="2148.9" stroke="#333" stroke-width="1.3"/>
<line x1="386.6" y1="2172.6" x2="394.6" y2="2172.6" stroke="#333" stroke-width="1.3"/>
<line x1="386.6" y1="2148.9" x2="394.6" y2="2148.9" stroke="#333" stroke-width="1.3"/>
<circle cx="129.0" cy="2160.8" r="3.6" fill="#000"/>
<circle cx="172.6" cy="2154.3" r="3.6" fill="#000"/>
<circle cx="216.2" cy="2154.3" r="3.6" fill="#000"/>
<circle cx="259.8" cy="2183.4" r="3.6" fill="#000"/>
<circle cx="303.4" cy="2170.5" r="3.6" fill="#000"/>
<circle cx="347.0" cy="2178.0" r="3.6" fill="#000"/>
<circle cx="390.6" cy="2160.8" r="3.6" fill="#000"/>
<text x="451.4" y="1933.5" font-size="35">E) ii</text>
<circle cx="661.5" cy="2125.8" r="31.50" fill="none" stroke="#ebebeb" stroke-width="1.7"/>
<circle cx="661.5" cy="2125.8" r="63.00" fill="none" stroke="#ebebeb" stroke-width="1.7"/>
<circle cx="661.5" cy="2125.8" r="94.50" fill="none" stroke="#ebebeb" stroke-width="1.7"/>
<circle cx="661.5" cy="2125.8" r="126.00" fill="none" stroke="#ebebeb" stroke-width="1.7"/>
<circle cx="661.5" cy="2125.8" r="137.40" fill="none" stroke="#ebebeb" stroke-width="1.7"/>
<line x1="661.5" y1="2125.8" x2="679.43" y2="1989.58" stroke="#ebebeb" stroke-width="1.5"/>
<line x1="661.5" y1="2125.8" x2="714.08" y2="1998.86" stroke="#ebebeb" stroke-width="1.5"/>
<line x1="661.5" y1="2125.8" x2="745.14" y2="2016.79" stroke="#ebebeb" stroke-width="1.5"/>
<line x1="661.5" y1="2125.8" x2="770.51" y2="2042.16" stroke="#ebebeb" stroke-width="1.5"/>
<line x1="661.5" y1="2125.8" x2="788.44" y2="2073.22" stroke="#ebebeb" stroke-width="1.5"/>
<line x1="661.5" y1="2125.8" x2="797.72" y2="2107.87" stroke="#ebebeb" stroke-width="1.5"/>
<line x1="661.5" y1="2125.8" x2="797.72" y2="2143.73" stroke="#ebebeb" stroke-width="1.5"/>
<line x1="661.5" y1="2125.8" x2="788.44" y2="2178.38" stroke="#ebebeb" stroke-width="1.5"/>
<line x1="661.5" y1="2125.8" x2="770.51" y2="2209.44" stroke="#ebebeb" stroke-width="1.5"/>
<line x1="661.5" y1="2125.8" x2="745.14" y2="2234.81" stroke="#ebebeb" stroke-width="1.5"/>
<line x1="661.5" y1="2125.8" x2="714.08" y2="2252.74" stroke="#ebebeb" stroke-width="1.5"/>
<line x1="661.5" y1="2125.8" x2="679.43" y2="2262.02" stroke="#ebebeb" stroke-width="1.5"/>
<line x1="661.5" y1="2125.8" x2="643.57" y2="2262.02" stroke="#ebebeb" stroke-width="1.5"/>
<line x1="661.5" y1="2125.8" x2="608.92" y2="2252.74" stroke="#ebebeb" stroke-width="1.5"/>
<line x1="661.5" y1="2125.8" x2="577.86" y2="2234.81" stroke="#ebebeb" stroke-width="1.5"/>
<line x1="661.5" y1="2125.8" x2="552.49" y2="2209.44" stroke="#ebebeb" stroke-width="1.5"/>
<line x1="661.5" y1="2125.8" x2="534.56" y2="2178.38" stroke="#ebebeb" stroke-width="1.5"/>
<line x1="661.5" y1="2125.8" x2="525.28" y2="2143.73" stroke="#ebebeb" stroke-width="1.5"/>
<line x1="661.5" y1="2125.8" x2="525.28" y2="2107.87" stroke="#ebebeb" stroke-width="1.5"/>
<line x1="661.5" y1="2125.8" x2="534.56" y2="2073.22" stroke="#ebebeb" stroke-width="1.5"/>
<line x1="661.5" y1="2125.8" x2="552.49" y2="2042.16" stroke="#ebebeb" stroke-width="1.5"/>
<line x1="661.5" y1="2125.8" x2="577.86" y2="2016.79" stroke="#ebebeb" stroke-width="1.5"/>
<line x1="661.5" y1="2125.8" x2="608.92" y2="1998.86" stroke="#ebebeb" stroke-width="1.5"/>
<line x1="661.5" y1="2125.8" x2="643.57" y2="1989.58" stroke="#ebebeb" stroke-width="1.5"/>
<text x="679.4" y="1995.6" font-size="17.5" text-anchor="middle" fill="#4d4d4d" stroke="#fff" stroke-width="5" paint-order="stroke">0</text>
<text x="714.1" y="2004.9" font-size="17.5" text-anchor="middle" fill="#4d4d4d" stroke="#fff" stroke-width="5" paint-order="stroke">1</text>
<text x="745.1" y="2022.8" font-size="17.5" text-anchor="middle" fill="#4d4d4d" stroke="#fff" stroke-width="5" paint-order="stroke">2</text>
<text x="770.5" y="2048.2" font-size="17.5" text-anchor="middle" fill="#4d4d4d" stroke="#fff" stroke-width="5" paint-order="stroke">3</text>
<text x="788.4" y="2079.2" font-size="17.5" text-anchor="middle" fill="#4d4d4d" stroke="#fff" stroke-width="5" paint-order="stroke">4</text>
<text x="797.7" y="2113.9" font-size="17.5" text-anchor="middle" fill="#4d4d4d" stroke="#fff" stroke-width="5" paint-order="stroke">5</text>
<text x="797.7" y="2149.7" font-size="17.5" text-anchor="middle" fill="#4d4d4d" stroke="#fff" stroke-width="5" paint-order="stroke">6</text>
<text x="788.4" y="2184.4" font-size="17.5" text-anchor="middle" fill="#4d4d4d" stroke="#fff" stroke-width="5" paint-order="stroke">7</text>
<text x="770.5" y="2215.4" font-size="17.5" text-anchor="middle" fill="#4d4d4d" stroke="#fff" stroke-width="5" paint-order="stroke">8</text>
<text x="745.1" y="2240.8" font-size="17.5" text-anchor="middle" fill="#4d4d4d" stroke="#fff" stroke-width="5" paint-order="stroke">9</text>
<text x="714.1" y="2258.7" font-size="17.5" text-anchor="middle" fill="#4d4d4d" stroke="#fff" stroke-width="5" paint-order="stroke">10</text>
<text x="679.4" y="2268.0" font-size="17.5" text-anchor="middle" fill="#4d4d4d" stroke="#fff" stroke-width="5" paint-order="stroke">11</text>
<text x="643.6" y="2268.0" font-size="17.5" text-anchor="middle" fill="#4d4d4d" stroke="#fff" stroke-width="5" paint-order="stroke">12</text>
<text x="608.9" y="2258.7" font-size="17.5" text-anchor="middle" fill="#4d4d4d" stroke="#fff" stroke-width="5" paint-order="stroke">13</text>
<text x="577.9" y="2240.8" font-size="17.5" text-anchor="middle" fill="#4d4d4d" stroke="#fff" stroke-width="5" paint-order="stroke">14</text>
<text x="552.5" y="2215.4" font-size="17.5" text-anchor="middle" fill="#4d4d4d" stroke="#fff" stroke-width="5" paint-order="stroke">15</text>
<text x="534.6" y="2184.4" font-size="17.5" text-anchor="middle" fill="#4d4d4d" stroke="#fff" stroke-width="5" paint-order="stroke">16</text>
<text x="525.3" y="2149.7" font-size="17.5" text-anchor="middle" fill="#4d4d4d" stroke="#fff" stroke-width="5" paint-order="stroke">17</text>
<text x="525.3" y="2113.9" font-size="17.5" text-anchor="middle" fill="#4d4d4d" stroke="#fff" stroke-width="5" paint-order="stroke">18</text>
<text x="534.6" y="2079.2" font-size="17.5" text-anchor="middle" fill="#4d4d4d" stroke="#fff" stroke-width="5" paint-order="stroke">19</text>
<text x="552.5" y="2048.2" font-size="17.5" text-anchor="middle" fill="#4d4d4d" stroke="#fff" stroke-width="5" paint-order="stroke">20</text>
<text x="577.9" y="2022.8" font-size="17.5" text-anchor="middle" fill="#4d4d4d" stroke="#fff" stroke-width="5" paint-order="stroke">21</text>
<text x="608.9" y="2004.9" font-size="17.5" text-anchor="middle" fill="#4d4d4d" stroke="#fff" stroke-width="5" paint-order="stroke">22</text>
<text x="643.6" y="1995.6" font-size="17.5" text-anchor="middle" fill="#4d4d4d" stroke="#fff" stroke-width="5" paint-order="stroke">23</text>
<path d="M661.50,2125.80 L662.84,2023.75 A102.06,102.06 0 0 1 686.62,2026.88 Z" fill="#000"/>
<path d="M661.50,2125.80 L757.14,2072.24 A109.62,109.62 0 0 1 767.00,2096.04 Z" fill="#000"/>
<path d="M661.50,2125.80 L755.71,2181.85 A109.62,109.62 0 0 1 740.02,2202.29 Z" fill="#000"/>
<path d="M661.50,2125.80 L660.51,2201.39 A75.60,75.60 0 0 1 642.89,2199.07 Z" fill="#000"/>
<path d="M661.50,2125.80 L582.35,2170.13 A90.72,90.72 0 0 1 574.19,2150.43 Z" fill="#000"/>
<path d="M661.50,2125.80 L591.11,2083.93 A81.90,81.90 0 0 1 602.83,2068.65 Z" fill="#000"/>
<line x1="673.01" y1="2038.35" x2="676.63" y2="2010.87" stroke="#000" stroke-width="1.4"/>
<path d="M663.04,2037.61 A88.20,88.20 0 0 1 682.84,2040.22" fill="none" stroke="#000" stroke-width="1.4"/>
<path d="M663.52,2009.90 A115.92,115.92 0 0 1 689.54,2013.32" fill="none" stroke="#000" stroke-width="1.4"/>
<line x1="756.96" y1="2086.26" x2="768.60" y2="2081.44" stroke="#000" stroke-width="1.4"/>
<path d="M751.87,2075.71 A103.32,103.32 0 0 1 760.82,2097.32" fill="none" stroke="#000" stroke-width="1.4"/>
<path d="M762.89,2069.60 A115.92,115.92 0 0 1 772.93,2093.85" fill="none" stroke="#000" stroke-width="1.4"/>
<line x1="746.47" y1="2191.00" x2="750.47" y2="2194.07" stroke="#000" stroke-width="1.4"/>
<path d="M753.30,2180.96 A107.10,107.10 0 0 1 738.54,2200.20" fill="none" stroke="#000" stroke-width="1.4"/>
<path d="M757.62,2183.56 A112.14,112.14 0 0 1 742.17,2203.70" fill="none" stroke="#000" stroke-width="1.4"/>
<line x1="652.45" y1="2194.51" x2="650.81" y2="2207.00" stroke="#000" stroke-width="1.4"/>
<path d="M660.29,2195.09 A69.30,69.30 0 0 1 644.73,2193.04" fill="none" stroke="#000" stroke-width="1.4"/>
<path d="M660.07,2207.69 A81.90,81.90 0 0 1 641.69,2205.27" fill="none" stroke="#000" stroke-width="1.4"/>
<line x1="593.98" y1="2153.77" x2="561.39" y2="2167.27" stroke="#000" stroke-width="1.4"/>
<path d="M597.58,2161.23 A73.08,73.08 0 0 1 591.25,2145.94" fill="none" stroke="#000" stroke-width="1.4"/>
<path d="M566.73,2178.33 A108.36,108.36 0 0 1 557.34,2155.67" fill="none" stroke="#000" stroke-width="1.4"/>
<line x1="618.52" y1="2092.82" x2="574.53" y2="2059.07" stroke="#000" stroke-width="1.4"/>
<path d="M615.06,2097.90 A54.18,54.18 0 0 1 622.53,2088.16" fill="none" stroke="#000" stroke-width="1.4"/>
<path d="M567.54,2069.34 A109.62,109.62 0 0 1 582.65,2049.65" fill="none" stroke="#000" stroke-width="1.4"/>
<text x="661.5" y="1965.2" font-size="18" text-anchor="middle" fill="#1a1a1a">Control</text>
<text x="500.9" y="2037.3" font-size="17.5" text-anchor="end" fill="#4d4d4d">0.75</text>
<text x="500.9" y="2068.8" font-size="17.5" text-anchor="end" fill="#4d4d4d">0.50</text>
<text x="500.9" y="2100.3" font-size="17.5" text-anchor="end" fill="#4d4d4d">0.25</text>
<text x="500.9" y="2131.8" font-size="17.5" text-anchor="end" fill="#4d4d4d">0.00</text>
<text transform="translate(463.0,2125.8) rotate(-90)" font-size="20.5" text-anchor="middle" fill="#1a1a1a">Relative expression</text>
<circle cx="973.6" cy="2125.5" r="31.50" fill="none" stroke="#ebebeb" stroke-width="1.7"/>
<circle cx="973.6" cy="2125.5" r="63.00" fill="none" stroke="#ebebeb" stroke-width="1.7"/>
<circle cx="973.6" cy="2125.5" r="94.50" fill="none" stroke="#ebebeb" stroke-width="1.7"/>
<circle cx="973.6" cy="2125.5" r="126.00" fill="none" stroke="#ebebeb" stroke-width="1.7"/>
<circle cx="973.6" cy="2125.5" r="137.40" fill="none" stroke="#ebebeb" stroke-width="1.7"/>
<line x1="973.6" y1="2125.5" x2="991.53" y2="1989.28" stroke="#ebebeb" stroke-width="1.5"/>
<line x1="973.6" y1="2125.5" x2="1026.18" y2="1998.56" stroke="#ebebeb" stroke-width="1.5"/>
<line x1="973.6" y1="2125.5" x2="1057.24" y2="2016.49" stroke="#ebebeb" stroke-width="1.5"/>
<line x1="973.6" y1="2125.5" x2="1082.61" y2="2041.86" stroke="#ebebeb" stroke-width="1.5"/>
<line x1="973.6" y1="2125.5" x2="1100.54" y2="2072.92" stroke="#ebebeb" stroke-width="1.5"/>
<line x1="973.6" y1="2125.5" x2="1109.82" y2="2107.57" stroke="#ebebeb" stroke-width="1.5"/>
<line x1="973.6" y1="2125.5" x2="1109.82" y2="2143.43" stroke="#ebebeb" stroke-width="1.5"/>
<line x1="973.6" y1="2125.5" x2="1100.54" y2="2178.08" stroke="#ebebeb" stroke-width="1.5"/>
<line x1="973.6" y1="2125.5" x2="1082.61" y2="2209.14" stroke="#ebebeb" stroke-width="1.5"/>
<line x1="973.6" y1="2125.5" x2="1057.24" y2="2234.51" stroke="#ebebeb" stroke-width="1.5"/>
<line x1="973.6" y1="2125.5" x2="1026.18" y2="2252.44" stroke="#ebebeb" stroke-width="1.5"/>
<line x1="973.6" y1="2125.5" x2="991.53" y2="2261.72" stroke="#ebebeb" stroke-width="1.5"/>
<line x1="973.6" y1="2125.5" x2="955.67" y2="2261.72" stroke="#ebebeb" stroke-width="1.5"/>
<line x1="973.6" y1="2125.5" x2="921.02" y2="2252.44" stroke="#ebebeb" stroke-width="1.5"/>
<line x1="973.6" y1="2125.5" x2="889.96" y2="2234.51" stroke="#ebebeb" stroke-width="1.5"/>
<line x1="973.6" y1="2125.5" x2="864.59" y2="2209.14" stroke="#ebebeb" stroke-width="1.5"/>
<line x1="973.6" y1="2125.5" x2="846.66" y2="2178.08" stroke="#ebebeb" stroke-width="1.5"/>
<line x1="973.6" y1="2125.5" x2="837.38" y2="2143.43" stroke="#ebebeb" stroke-width="1.5"/>
<line x1="973.6" y1="2125.5" x2="837.38" y2="2107.57" stroke="#ebebeb" stroke-width="1.5"/>
<line x1="973.6" y1="2125.5" x2="846.66" y2="2072.92" stroke="#ebebeb" stroke-width="1.5"/>
<line x1="973.6" y1="2125.5" x2="864.59" y2="2041.86" stroke="#ebebeb" stroke-width="1.5"/>
<line x1="973.6" y1="2125.5" x2="889.96" y2="2016.49" stroke="#ebebeb" stroke-width="1.5"/>
<line x1="973.6" y1="2125.5" x2="921.02" y2="1998.56" stroke="#ebebeb" stroke-width="1.5"/>
<line x1="973.6" y1="2125.5" x2="955.67" y2="1989.28" stroke="#ebebeb" stroke-width="1.5"/>
<text x="991.5" y="1995.3" font-size="17.5" text-anchor="middle" fill="#4d4d4d" stroke="#fff" stroke-width="5" paint-order="stroke">0</text>
<text x="1026.2" y="2004.6" font-size="17.5" text-anchor="middle" fill="#4d4d4d" stroke="#fff" stroke-width="5" paint-order="stroke">1</text>
<text x="1057.2" y="2022.5" font-size="17.5" text-anchor="middle" fill="#4d4d4d" stroke="#fff" stroke-width="5" paint-order="stroke">2</text>
<text x="1082.6" y="2047.9" font-size="17.5" text-anchor="middle" fill="#4d4d4d" stroke="#fff" stroke-width="5" paint-order="stroke">3</text>
<text x="1100.5" y="2078.9" font-size="17.5" text-anchor="middle" fill="#4d4d4d" stroke="#fff" stroke-width="5" paint-order="stroke">4</text>
<text x="1109.8" y="2113.6" font-size="17.5" text-anchor="middle" fill="#4d4d4d" stroke="#fff" stroke-width="5" paint-order="stroke">5</text>
<text x="1109.8" y="2149.4" font-size="17.5" text-anchor="middle" fill="#4d4d4d" stroke="#fff" stroke-width="5" paint-order="stroke">6</text>
<text x="1100.5" y="2184.1" font-size="17.5" text-anchor="middle" fill="#4d4d4d" stroke="#fff" stroke-width="5" paint-order="stroke">7</text>
<text x="1082.6" y="2215.1" font-size="17.5" text-anchor="middle" fill="#4d4d4d" stroke="#fff" stroke-width="5" paint-order="stroke">8</text>
<text x="1057.2" y="2240.5" font-size="17.5" text-anchor="middle" fill="#4d4d4d" stroke="#fff" stroke-width="5" paint-order="stroke">9</text>
<text x="1026.2" y="2258.4" font-size="17.5" text-anchor="middle" fill="#4d4d4d" stroke="#fff" stroke-width="5" paint-order="stroke">10</text>
<text x="991.5" y="2267.7" font-size="17.5" text-anchor="middle" fill="#4d4d4d" stroke="#fff" stroke-width="5" paint-order="stroke">11</text>
<text x="955.7" y="2267.7" font-size="17.5" text-anchor="middle" fill="#4d4d4d" stroke="#fff" stroke-width="5" paint-order="stroke">12</text>
<text x="921.0" y="2258.4" font-size="17.5" text-anchor="middle" fill="#4d4d4d" stroke="#fff" stroke-width="5" paint-order="stroke">13</text>
<text x="890.0" y="2240.5" font-size="17.5" text-anchor="middle" fill="#4d4d4d" stroke="#fff" stroke-width="5" paint-order="stroke">14</text>
<text x="864.6" y="2215.1" font-size="17.5" text-anchor="middle" fill="#4d4d4d" stroke="#fff" stroke-width="5" paint-order="stroke">15</text>
<text x="846.7" y="2184.1" font-size="17.5" text-anchor="middle" fill="#4d4d4d" stroke="#fff" stroke-width="5" paint-order="stroke">16</text>
<text x="837.4" y="2149.4" font-size="17.5" text-anchor="middle" fill="#4d4d4d" stroke="#fff" stroke-width="5" paint-order="stroke">17</text>
<text x="837.4" y="2113.6" font-size="17.5" text-anchor="middle" fill="#4d4d4d" stroke="#fff" stroke-width="5" paint-order="stroke">18</text>
<text x="846.7" y="2078.9" font-size="17.5" text-anchor="middle" fill="#4d4d4d" stroke="#fff" stroke-width="5" paint-order="stroke">19</text>
<text x="864.6" y="2047.9" font-size="17.5" text-anchor="middle" fill="#4d4d4d" stroke="#fff" stroke-width="5" paint-order="stroke">20</text>
<text x="890.0" y="2022.5" font-size="17.5" text-anchor="middle" fill="#4d4d4d" stroke="#fff" stroke-width="5" paint-order="stroke">21</text>
<text x="921.0" y="2004.6" font-size="17.5" text-anchor="middle" fill="#4d4d4d" stroke="#fff" stroke-width="5" paint-order="stroke">22</text>
<text x="955.7" y="1995.3" font-size="17.5" text-anchor="middle" fill="#4d4d4d" stroke="#fff" stroke-width="5" paint-order="stroke">23</text>
<path d="M973.60,2125.50 L974.87,2028.49 A97.02,97.02 0 0 1 997.48,2031.47 Z" fill="#d70000"/>
<path d="M973.60,2125.50 L1072.54,2070.09 A113.40,113.40 0 0 1 1082.74,2094.72 Z" fill="#d70000"/>
<path d="M973.60,2125.50 L1051.57,2171.88 A90.72,90.72 0 0 1 1038.58,2188.80 Z" fill="#d70000"/>
<path d="M973.60,2125.50 L972.78,2188.49 A63.00,63.00 0 0 1 958.09,2186.56 Z" fill="#d70000"/>
<path d="M973.60,2125.50 L913.14,2159.36 A69.30,69.30 0 0 1 906.90,2144.31 Z" fill="#d70000"/>
<path d="M973.60,2125.50 L924.87,2096.51 A56.70,56.70 0 0 1 932.99,2085.94 Z" fill="#d70000"/>
<line x1="983.14" y1="2053.05" x2="989.39" y2="2005.57" stroke="#000" stroke-width="1.4"/>
<path d="M974.88,2052.43 A73.08,73.08 0 0 1 991.28,2054.59" fill="none" stroke="#000" stroke-width="1.4"/>
<path d="M975.71,2004.56 A120.96,120.96 0 0 1 1002.86,2008.13" fill="none" stroke="#000" stroke-width="1.4"/>
<line x1="1070.22" y1="2085.48" x2="1086.52" y2="2078.73" stroke="#000" stroke-width="1.4"/>
<path d="M1065.07,2074.80 A104.58,104.58 0 0 1 1074.13,2096.67" fill="none" stroke="#000" stroke-width="1.4"/>
<path d="M1080.50,2066.25 A122.22,122.22 0 0 1 1091.09,2091.81" fill="none" stroke="#000" stroke-width="1.4"/>
<line x1="1025.58" y1="2165.39" x2="1065.57" y2="2196.07" stroke="#000" stroke-width="1.4"/>
<path d="M1029.76,2159.25 A65.52,65.52 0 0 1 1020.73,2171.01" fill="none" stroke="#000" stroke-width="1.4"/>
<path d="M1072.96,2185.20 A115.92,115.92 0 0 1 1056.99,2206.02" fill="none" stroke="#000" stroke-width="1.4"/>
<line x1="966.20" y1="2181.71" x2="964.55" y2="2194.21" stroke="#000" stroke-width="1.4"/>
<path d="M972.61,2182.19 A56.70,56.70 0 0 1 959.88,2180.52" fill="none" stroke="#000" stroke-width="1.4"/>
<path d="M972.39,2194.79 A69.30,69.30 0 0 1 956.83,2192.74" fill="none" stroke="#000" stroke-width="1.4"/>
<line x1="922.38" y1="2146.72" x2="896.77" y2="2157.32" stroke="#000" stroke-width="1.4"/>
<path d="M925.11,2152.38 A55.44,55.44 0 0 1 920.31,2140.78" fill="none" stroke="#000" stroke-width="1.4"/>
<path d="M900.87,2165.82 A83.16,83.16 0 0 1 893.66,2148.42" fill="none" stroke="#000" stroke-width="1.4"/>
<line x1="943.61" y1="2102.49" x2="913.62" y2="2079.48" stroke="#000" stroke-width="1.4"/>
<path d="M941.20,2106.03 A37.80,37.80 0 0 1 946.41,2099.24" fill="none" stroke="#000" stroke-width="1.4"/>
<path d="M908.80,2086.56 A75.60,75.60 0 0 1 919.22,2072.98" fill="none" stroke="#000" stroke-width="1.4"/>
<text x="973.6" y="1965.3" font-size="18" text-anchor="middle" fill="#1a1a1a">Hypothyroid</text>
<text x="817.5" y="2306.0" font-size="22" text-anchor="middle">ZT</text>
</svg>
</body></html>
